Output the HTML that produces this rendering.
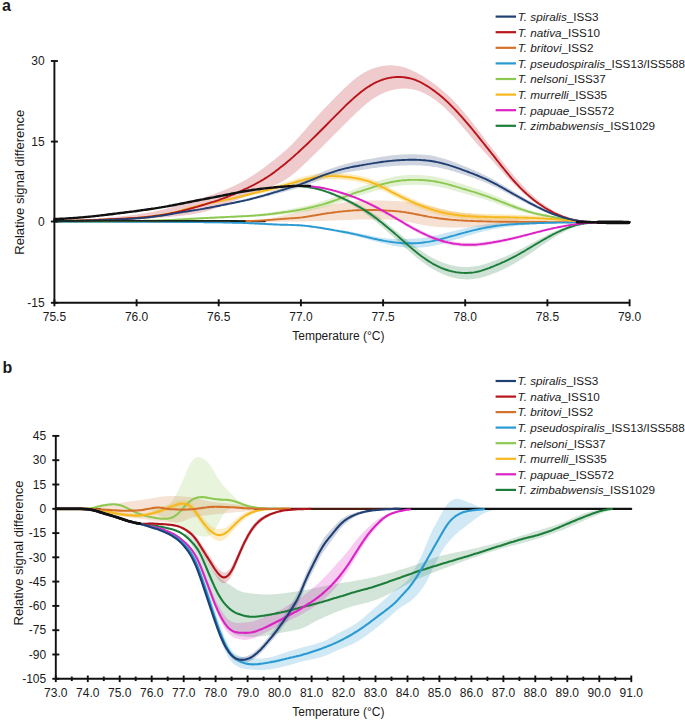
<!DOCTYPE html><html><head><meta charset="utf-8"><style>html,body{margin:0;padding:0;background:#fff;width:685px;height:721px;overflow:hidden}svg{display:block}text{font-family:"Liberation Sans",sans-serif;fill:#1a1a1a}</style></head><body>
<svg width="685" height="721" viewBox="0 0 685 721">
<path d="M250.0 220.6 L251.5 220.5 L253.0 220.4 L254.5 220.3 L256.0 220.1 L257.5 220.0 L259.0 219.8 L260.5 219.6 L262.0 219.4 L263.5 219.2 L265.0 219.0 L266.5 218.8 L268.0 218.5 L269.5 218.3 L271.0 218.0 L272.5 217.8 L274.0 217.5 L275.5 217.2 L277.0 216.9 L278.5 216.6 L280.0 216.3 L281.5 215.9 L283.0 215.6 L284.5 215.3 L286.0 214.9 L287.5 214.5 L289.0 214.2 L290.5 213.8 L292.0 213.4 L293.5 213.0 L295.0 212.7 L296.5 212.3 L298.0 211.9 L299.5 211.5 L301.0 211.2 L302.5 210.8 L304.0 210.4 L305.5 210.1 L307.0 209.7 L308.5 209.4 L310.0 209.0 L311.5 208.7 L313.0 208.3 L314.5 208.0 L316.0 207.7 L317.5 207.3 L319.0 207.0 L320.5 206.7 L322.0 206.4 L323.5 206.1 L325.0 205.8 L326.5 205.5 L328.0 205.2 L329.5 204.9 L331.0 204.6 L332.5 204.4 L334.0 204.1 L335.5 203.9 L337.0 203.7 L338.5 203.4 L340.0 203.2 L341.5 203.0 L343.0 202.8 L344.5 202.6 L346.0 202.5 L347.5 202.3 L349.0 202.1 L350.5 202.0 L352.0 201.8 L353.5 201.7 L355.0 201.5 L356.5 201.4 L358.0 201.3 L359.5 201.2 L361.0 201.1 L362.5 201.0 L364.0 200.9 L365.5 200.8 L367.0 200.7 L368.5 200.7 L370.0 200.6 L371.5 200.6 L373.0 200.6 L374.5 200.6 L376.0 200.6 L377.5 200.5 L379.0 200.6 L380.5 200.6 L382.0 200.6 L383.5 200.6 L385.0 200.6 L386.5 200.7 L388.0 200.7 L389.5 200.8 L391.0 200.8 L392.5 200.9 L394.0 201.0 L395.5 201.0 L397.0 201.1 L398.5 201.2 L400.0 201.3 L401.5 201.4 L403.0 201.5 L404.5 201.7 L406.0 201.8 L407.5 202.0 L409.0 202.2 L410.5 202.3 L412.0 202.5 L413.5 202.8 L415.0 203.0 L416.5 203.2 L418.0 203.5 L419.5 203.8 L421.0 204.1 L422.5 204.4 L424.0 204.7 L425.5 205.0 L427.0 205.3 L428.5 205.7 L430.0 206.1 L431.5 206.4 L433.0 206.8 L434.5 207.2 L436.0 207.6 L437.5 208.0 L439.0 208.4 L440.5 208.8 L442.0 209.1 L443.5 209.5 L445.0 209.8 L446.5 210.2 L448.0 210.5 L449.5 210.8 L451.0 211.1 L452.5 211.3 L454.0 211.6 L455.5 211.8 L457.0 212.1 L458.5 212.3 L460.0 212.5 L461.5 212.7 L463.0 212.9 L464.5 213.1 L466.0 213.3 L467.5 213.4 L469.0 213.6 L470.5 213.8 L472.0 213.9 L473.5 214.1 L475.0 214.2 L476.5 214.4 L478.0 214.5 L479.5 214.7 L481.0 214.8 L482.5 215.0 L484.0 215.1 L485.5 215.2 L487.0 215.4 L488.5 215.5 L490.0 215.6 L491.5 215.8 L493.0 215.9 L494.5 216.0 L496.0 216.2 L497.5 216.3 L499.0 216.5 L500.5 216.6 L502.0 216.7 L503.5 216.9 L505.0 217.0 L506.5 217.2 L508.0 217.3 L509.5 217.5 L511.0 217.6 L512.5 217.8 L514.0 217.9 L515.5 218.1 L517.0 218.2 L518.5 218.4 L520.0 218.5 L521.5 218.7 L523.0 218.8 L524.5 219.0 L526.0 219.1 L527.5 219.2 L529.0 219.4 L530.5 219.5 L532.0 219.6 L533.5 219.7 L535.0 219.8 L536.5 220.0 L538.0 220.1 L539.5 220.2 L541.0 220.3 L542.5 220.4 L544.0 220.5 L545.5 220.6 L547.0 220.7 L548.5 220.8 L550.0 220.9 L551.5 220.9 L553.0 221.0 L554.5 221.1 L556.0 221.2 L557.5 221.2 L559.0 221.3 L560.0 221.3 L560.0 222.3 L559.0 222.3 L557.5 222.4 L556.0 222.4 L554.5 222.4 L553.0 222.5 L551.5 222.5 L550.0 222.6 L548.5 222.6 L547.0 222.7 L545.5 222.7 L544.0 222.8 L542.5 222.9 L541.0 222.9 L539.5 223.0 L538.0 223.1 L536.5 223.2 L535.0 223.3 L533.5 223.3 L532.0 223.4 L530.5 223.5 L529.0 223.6 L527.5 223.7 L526.0 223.8 L524.5 223.9 L523.0 224.0 L521.5 224.1 L520.0 224.2 L518.5 224.4 L517.0 224.5 L515.5 224.6 L514.0 224.7 L512.5 224.8 L511.0 224.9 L509.5 225.0 L508.0 225.2 L506.5 225.3 L505.0 225.4 L503.5 225.5 L502.0 225.6 L500.5 225.7 L499.0 225.8 L497.5 225.9 L496.0 226.0 L494.5 226.1 L493.0 226.2 L491.5 226.3 L490.0 226.4 L488.5 226.5 L487.0 226.6 L485.5 226.7 L484.0 226.7 L482.5 226.8 L481.0 226.9 L479.5 226.9 L478.0 227.0 L476.5 227.0 L475.0 227.1 L473.5 227.1 L472.0 227.2 L470.5 227.2 L469.0 227.3 L467.5 227.3 L466.0 227.3 L464.5 227.4 L463.0 227.4 L461.5 227.4 L460.0 227.4 L458.5 227.4 L457.0 227.4 L455.5 227.4 L454.0 227.4 L452.5 227.4 L451.0 227.4 L449.5 227.4 L448.0 227.4 L446.5 227.3 L445.0 227.3 L443.5 227.2 L442.0 227.2 L440.5 227.1 L439.0 227.0 L437.5 226.9 L436.0 226.8 L434.5 226.6 L433.0 226.5 L431.5 226.3 L430.0 226.1 L428.5 225.9 L427.0 225.6 L425.5 225.4 L424.0 225.1 L422.5 224.9 L421.0 224.6 L419.5 224.3 L418.0 224.0 L416.5 223.7 L415.0 223.4 L413.5 223.0 L412.0 222.7 L410.5 222.4 L409.0 222.1 L407.5 221.8 L406.0 221.5 L404.5 221.3 L403.0 221.0 L401.5 220.8 L400.0 220.6 L398.5 220.4 L397.0 220.2 L395.5 220.1 L394.0 220.0 L392.5 219.9 L391.0 219.8 L389.5 219.7 L388.0 219.6 L386.5 219.6 L385.0 219.5 L383.5 219.5 L382.0 219.5 L380.5 219.4 L379.0 219.4 L377.5 219.4 L376.0 219.4 L374.5 219.4 L373.0 219.4 L371.5 219.4 L370.0 219.4 L368.5 219.4 L367.0 219.4 L365.5 219.5 L364.0 219.5 L362.5 219.5 L361.0 219.6 L359.5 219.6 L358.0 219.6 L356.5 219.7 L355.0 219.7 L353.5 219.8 L352.0 219.8 L350.5 219.9 L349.0 219.9 L347.5 220.0 L346.0 220.0 L344.5 220.1 L343.0 220.1 L341.5 220.2 L340.0 220.2 L338.5 220.3 L337.0 220.3 L335.5 220.4 L334.0 220.4 L332.5 220.5 L331.0 220.5 L329.5 220.6 L328.0 220.6 L326.5 220.7 L325.0 220.8 L323.5 220.8 L322.0 220.9 L320.5 220.9 L319.0 221.0 L317.5 221.0 L316.0 221.1 L314.5 221.1 L313.0 221.2 L311.5 221.2 L310.0 221.2 L308.5 221.3 L307.0 221.3 L305.5 221.4 L304.0 221.4 L302.5 221.4 L301.0 221.5 L299.5 221.5 L298.0 221.5 L296.5 221.5 L295.0 221.6 L293.5 221.6 L292.0 221.6 L290.5 221.6 L289.0 221.7 L287.5 221.7 L286.0 221.7 L284.5 221.7 L283.0 221.7 L281.5 221.8 L280.0 221.8 L278.5 221.8 L277.0 221.8 L275.5 221.8 L274.0 221.8 L272.5 221.9 L271.0 221.9 L269.5 221.9 L268.0 221.9 L266.5 221.9 L265.0 221.9 L263.5 221.9 L262.0 221.9 L260.5 222.0 L259.0 222.0 L257.5 222.0 L256.0 222.0 L254.5 222.0 L253.0 222.0 L251.5 222.0 L250.0 222.0Z" fill="#d4722c" fill-opacity="0.22" stroke="none"/>
<path d="M54.4 220.4 L55.9 220.4 L57.4 220.4 L58.9 220.3 L60.4 220.3 L61.9 220.3 L63.4 220.2 L64.9 220.2 L66.4 220.1 L67.9 220.1 L69.4 220.0 L70.9 220.0 L72.4 219.9 L73.9 219.8 L75.4 219.8 L76.9 219.7 L78.4 219.6 L79.9 219.5 L81.4 219.4 L82.9 219.4 L84.4 219.3 L85.9 219.2 L87.4 219.1 L88.9 219.0 L90.4 218.9 L91.9 218.8 L93.4 218.7 L94.9 218.6 L96.4 218.5 L97.9 218.4 L99.4 218.3 L100.9 218.2 L102.4 218.0 L103.9 217.9 L105.4 217.8 L106.9 217.7 L108.4 217.6 L109.9 217.5 L111.4 217.3 L112.9 217.2 L114.4 217.1 L115.9 216.9 L117.4 216.8 L118.9 216.6 L120.4 216.5 L121.9 216.3 L123.4 216.1 L124.9 216.0 L126.4 215.8 L127.9 215.6 L129.4 215.4 L130.9 215.3 L132.4 215.1 L133.9 214.9 L135.4 214.7 L136.9 214.4 L138.4 214.2 L139.9 214.0 L141.4 213.8 L142.9 213.5 L144.4 213.3 L145.9 213.1 L147.4 212.8 L148.9 212.5 L150.4 212.3 L151.9 212.0 L153.4 211.7 L154.9 211.4 L156.4 211.1 L157.9 210.7 L159.4 210.4 L160.9 210.0 L162.4 209.7 L163.9 209.3 L165.4 208.9 L166.9 208.6 L168.4 208.2 L169.9 207.8 L171.4 207.3 L172.9 206.9 L174.4 206.5 L175.9 206.1 L177.4 205.6 L178.9 205.2 L180.4 204.7 L181.9 204.3 L183.4 203.8 L184.9 203.4 L186.4 202.9 L187.9 202.4 L189.4 201.9 L190.9 201.5 L192.4 201.0 L193.9 200.5 L195.4 200.1 L196.9 199.6 L198.4 199.1 L199.9 198.6 L201.4 198.1 L202.9 197.7 L204.4 197.2 L205.9 196.7 L207.4 196.2 L208.9 195.7 L210.4 195.2 L211.9 194.7 L213.4 194.2 L214.9 193.7 L216.4 193.1 L217.9 192.6 L219.4 192.0 L220.9 191.5 L222.4 190.9 L223.9 190.3 L225.4 189.7 L226.9 189.1 L228.4 188.4 L229.9 187.8 L231.4 187.1 L232.9 186.4 L234.4 185.7 L235.9 185.0 L237.4 184.3 L238.9 183.5 L240.4 182.7 L241.9 181.9 L243.4 181.1 L244.9 180.3 L246.4 179.4 L247.9 178.5 L249.4 177.6 L250.9 176.7 L252.4 175.8 L253.9 174.8 L255.4 173.8 L256.9 172.8 L258.4 171.7 L259.9 170.7 L261.4 169.6 L262.9 168.5 L264.4 167.4 L265.9 166.3 L267.4 165.1 L268.9 164.0 L270.4 162.8 L271.9 161.6 L273.4 160.5 L274.9 159.3 L276.4 158.1 L277.9 156.9 L279.4 155.6 L280.9 154.4 L282.4 153.1 L283.9 151.8 L285.4 150.5 L286.9 149.2 L288.4 147.8 L289.9 146.3 L291.4 144.9 L292.9 143.4 L294.4 141.8 L295.9 140.2 L297.4 138.6 L298.9 137.0 L300.4 135.3 L301.9 133.6 L303.4 131.9 L304.9 130.2 L306.4 128.4 L307.9 126.7 L309.4 125.0 L310.9 123.3 L312.4 121.6 L313.9 119.9 L315.4 118.2 L316.9 116.5 L318.4 114.9 L319.9 113.3 L321.4 111.7 L322.9 110.1 L324.4 108.5 L325.9 106.9 L327.4 105.4 L328.9 103.9 L330.4 102.3 L331.9 100.8 L333.4 99.3 L334.9 97.8 L336.4 96.3 L337.9 94.8 L339.4 93.3 L340.9 91.8 L342.4 90.3 L343.9 88.8 L345.4 87.4 L346.9 86.0 L348.4 84.6 L349.9 83.2 L351.4 81.9 L352.9 80.6 L354.4 79.4 L355.9 78.2 L357.4 77.0 L358.9 76.0 L360.4 74.9 L361.9 74.0 L363.4 73.1 L364.9 72.2 L366.4 71.4 L367.9 70.6 L369.4 70.0 L370.9 69.3 L372.4 68.7 L373.9 68.2 L375.4 67.7 L376.9 67.2 L378.4 66.9 L379.9 66.5 L381.4 66.2 L382.9 65.9 L384.4 65.7 L385.9 65.5 L387.4 65.4 L388.9 65.3 L390.4 65.3 L391.9 65.3 L393.4 65.4 L394.9 65.5 L396.4 65.7 L397.9 65.9 L399.4 66.2 L400.9 66.5 L402.4 66.9 L403.9 67.3 L405.4 67.8 L406.9 68.3 L408.4 68.9 L409.9 69.5 L411.4 70.2 L412.9 70.9 L414.4 71.6 L415.9 72.3 L417.4 73.1 L418.9 73.9 L420.4 74.8 L421.9 75.6 L423.4 76.5 L424.9 77.5 L426.4 78.4 L427.9 79.4 L429.4 80.4 L430.9 81.5 L432.4 82.5 L433.9 83.6 L435.4 84.7 L436.9 85.9 L438.4 87.0 L439.9 88.2 L441.4 89.5 L442.9 90.7 L444.4 92.0 L445.9 93.4 L447.4 94.7 L448.9 96.1 L450.4 97.6 L451.9 99.0 L453.4 100.6 L454.9 102.1 L456.4 103.7 L457.9 105.3 L459.4 107.0 L460.9 108.7 L462.4 110.4 L463.9 112.2 L465.4 114.0 L466.9 115.8 L468.4 117.6 L469.9 119.5 L471.4 121.4 L472.9 123.3 L474.4 125.2 L475.9 127.1 L477.4 129.1 L478.9 131.0 L480.4 133.0 L481.9 135.0 L483.4 137.0 L484.9 138.9 L486.4 140.9 L487.9 142.9 L489.4 144.8 L490.9 146.8 L492.4 148.7 L493.9 150.7 L495.4 152.6 L496.9 154.5 L498.4 156.5 L499.9 158.4 L501.4 160.3 L502.9 162.2 L504.4 164.1 L505.9 165.9 L507.4 167.8 L508.9 169.7 L510.4 171.5 L511.9 173.3 L513.4 175.1 L514.9 176.8 L516.4 178.6 L517.9 180.3 L519.4 182.0 L520.9 183.6 L522.4 185.2 L523.9 186.8 L525.4 188.3 L526.9 189.9 L528.4 191.3 L529.9 192.8 L531.4 194.2 L532.9 195.6 L534.4 196.9 L535.9 198.2 L537.4 199.5 L538.9 200.7 L540.4 201.9 L541.9 203.0 L543.4 204.1 L544.9 205.2 L546.4 206.2 L547.9 207.2 L549.4 208.2 L550.9 209.1 L552.4 210.0 L553.9 210.9 L555.4 211.7 L556.9 212.5 L558.4 213.2 L559.9 213.9 L561.4 214.6 L562.9 215.3 L564.4 215.9 L565.9 216.5 L567.4 217.1 L568.9 217.6 L570.4 218.1 L571.9 218.5 L573.4 218.9 L574.9 219.3 L576.4 219.7 L577.9 220.0 L579.4 220.3 L580.9 220.6 L582.4 220.8 L583.9 221.0 L585.4 221.2 L586.9 221.4 L588.4 221.5 L589.9 221.6 L590.0 221.6 L590.0 222.0 L589.9 222.0 L588.4 221.9 L586.9 221.8 L585.4 221.7 L583.9 221.6 L582.4 221.5 L580.9 221.3 L579.4 221.1 L577.9 220.9 L576.4 220.7 L574.9 220.5 L573.4 220.2 L571.9 219.9 L570.4 219.6 L568.9 219.2 L567.4 218.8 L565.9 218.4 L564.4 217.9 L562.9 217.4 L561.4 216.9 L559.9 216.3 L558.4 215.7 L556.9 215.1 L555.4 214.5 L553.9 213.8 L552.4 213.1 L550.9 212.3 L549.4 211.5 L547.9 210.7 L546.4 209.9 L544.9 209.0 L543.4 208.1 L541.9 207.2 L540.4 206.3 L538.9 205.3 L537.4 204.3 L535.9 203.2 L534.4 202.2 L532.9 201.1 L531.4 199.9 L529.9 198.8 L528.4 197.6 L526.9 196.4 L525.4 195.1 L523.9 193.8 L522.4 192.5 L520.9 191.1 L519.4 189.7 L517.9 188.3 L516.4 186.8 L514.9 185.4 L513.4 183.8 L511.9 182.3 L510.4 180.7 L508.9 179.1 L507.4 177.5 L505.9 175.9 L504.4 174.2 L502.9 172.6 L501.4 170.9 L499.9 169.2 L498.4 167.5 L496.9 165.9 L495.4 164.2 L493.9 162.5 L492.4 160.8 L490.9 159.2 L489.4 157.5 L487.9 155.8 L486.4 154.2 L484.9 152.6 L483.4 150.9 L481.9 149.3 L480.4 147.6 L478.9 146.0 L477.4 144.3 L475.9 142.6 L474.4 140.9 L472.9 139.1 L471.4 137.4 L469.9 135.6 L468.4 133.8 L466.9 132.0 L465.4 130.2 L463.9 128.5 L462.4 126.7 L460.9 124.9 L459.4 123.2 L457.9 121.5 L456.4 119.8 L454.9 118.2 L453.4 116.6 L451.9 115.0 L450.4 113.4 L448.9 111.9 L447.4 110.4 L445.9 109.0 L444.4 107.6 L442.9 106.2 L441.4 104.9 L439.9 103.7 L438.4 102.4 L436.9 101.2 L435.4 100.1 L433.9 99.0 L432.4 98.0 L430.9 97.0 L429.4 96.1 L427.9 95.2 L426.4 94.4 L424.9 93.6 L423.4 92.9 L421.9 92.2 L420.4 91.6 L418.9 91.0 L417.4 90.5 L415.9 90.1 L414.4 89.7 L412.9 89.4 L411.4 89.1 L409.9 88.9 L408.4 88.7 L406.9 88.6 L405.4 88.5 L403.9 88.5 L402.4 88.6 L400.9 88.7 L399.4 88.8 L397.9 89.0 L396.4 89.2 L394.9 89.4 L393.4 89.8 L391.9 90.1 L390.4 90.5 L388.9 91.0 L387.4 91.5 L385.9 92.0 L384.4 92.6 L382.9 93.2 L381.4 93.9 L379.9 94.7 L378.4 95.5 L376.9 96.4 L375.4 97.3 L373.9 98.2 L372.4 99.3 L370.9 100.3 L369.4 101.4 L367.9 102.6 L366.4 103.8 L364.9 105.1 L363.4 106.4 L361.9 107.7 L360.4 109.0 L358.9 110.4 L357.4 111.8 L355.9 113.3 L354.4 114.7 L352.9 116.2 L351.4 117.6 L349.9 119.1 L348.4 120.6 L346.9 122.1 L345.4 123.6 L343.9 125.1 L342.4 126.6 L340.9 128.1 L339.4 129.6 L337.9 131.1 L336.4 132.6 L334.9 134.1 L333.4 135.6 L331.9 137.0 L330.4 138.5 L328.9 140.0 L327.4 141.5 L325.9 143.0 L324.4 144.5 L322.9 146.0 L321.4 147.5 L319.9 148.9 L318.4 150.4 L316.9 151.9 L315.4 153.4 L313.9 154.9 L312.4 156.3 L310.9 157.8 L309.4 159.3 L307.9 160.7 L306.4 162.2 L304.9 163.6 L303.4 165.0 L301.9 166.4 L300.4 167.8 L298.9 169.2 L297.4 170.5 L295.9 171.8 L294.4 173.1 L292.9 174.3 L291.4 175.5 L289.9 176.7 L288.4 177.7 L286.9 178.8 L285.4 179.8 L283.9 180.7 L282.4 181.5 L280.9 182.4 L279.4 183.1 L277.9 183.8 L276.4 184.5 L274.9 185.2 L273.4 185.8 L271.9 186.4 L270.4 187.0 L268.9 187.6 L267.4 188.1 L265.9 188.7 L264.4 189.2 L262.9 189.8 L261.4 190.3 L259.9 190.9 L258.4 191.5 L256.9 192.0 L255.4 192.6 L253.9 193.2 L252.4 193.7 L250.9 194.3 L249.4 194.9 L247.9 195.5 L246.4 196.1 L244.9 196.7 L243.4 197.3 L241.9 197.9 L240.4 198.5 L238.9 199.1 L237.4 199.7 L235.9 200.3 L234.4 200.9 L232.9 201.5 L231.4 202.1 L229.9 202.7 L228.4 203.3 L226.9 203.9 L225.4 204.5 L223.9 205.1 L222.4 205.7 L220.9 206.2 L219.4 206.8 L217.9 207.4 L216.4 207.9 L214.9 208.5 L213.4 209.0 L211.9 209.5 L210.4 210.0 L208.9 210.4 L207.4 210.9 L205.9 211.3 L204.4 211.7 L202.9 212.1 L201.4 212.5 L199.9 212.8 L198.4 213.1 L196.9 213.4 L195.4 213.7 L193.9 214.0 L192.4 214.2 L190.9 214.4 L189.4 214.7 L187.9 214.9 L186.4 215.1 L184.9 215.3 L183.4 215.5 L181.9 215.7 L180.4 215.8 L178.9 216.0 L177.4 216.2 L175.9 216.3 L174.4 216.5 L172.9 216.6 L171.4 216.8 L169.9 216.9 L168.4 217.0 L166.9 217.2 L165.4 217.3 L163.9 217.4 L162.4 217.6 L160.9 217.7 L159.4 217.8 L157.9 217.9 L156.4 218.0 L154.9 218.1 L153.4 218.2 L151.9 218.3 L150.4 218.4 L148.9 218.5 L147.4 218.6 L145.9 218.7 L144.4 218.8 L142.9 218.9 L141.4 219.0 L139.9 219.1 L138.4 219.2 L136.9 219.3 L135.4 219.4 L133.9 219.4 L132.4 219.5 L130.9 219.6 L129.4 219.7 L127.9 219.7 L126.4 219.8 L124.9 219.9 L123.4 219.9 L121.9 220.0 L120.4 220.1 L118.9 220.1 L117.4 220.2 L115.9 220.3 L114.4 220.3 L112.9 220.4 L111.4 220.4 L109.9 220.5 L108.4 220.5 L106.9 220.6 L105.4 220.6 L103.9 220.7 L102.4 220.7 L100.9 220.8 L99.4 220.8 L97.9 220.9 L96.4 220.9 L94.9 221.0 L93.4 221.0 L91.9 221.0 L90.4 221.1 L88.9 221.1 L87.4 221.2 L85.9 221.2 L84.4 221.2 L82.9 221.3 L81.4 221.3 L79.9 221.4 L78.4 221.4 L76.9 221.4 L75.4 221.5 L73.9 221.5 L72.4 221.5 L70.9 221.5 L69.4 221.6 L67.9 221.6 L66.4 221.6 L64.9 221.6 L63.4 221.7 L61.9 221.7 L60.4 221.7 L58.9 221.7 L57.4 221.7 L55.9 221.7 L54.4 221.8Z" fill="#b8141a" fill-opacity="0.22" stroke="none"/>
<path d="M54.4 220.7 L55.9 220.7 L57.4 220.7 L58.9 220.7 L60.4 220.7 L61.9 220.6 L63.4 220.6 L64.9 220.6 L66.4 220.6 L67.9 220.5 L69.4 220.5 L70.9 220.5 L72.4 220.4 L73.9 220.4 L75.4 220.4 L76.9 220.3 L78.4 220.3 L79.9 220.3 L81.4 220.2 L82.9 220.2 L84.4 220.1 L85.9 220.1 L87.4 220.0 L88.9 220.0 L90.4 219.9 L91.9 219.9 L93.4 219.9 L94.9 219.8 L96.4 219.8 L97.9 219.7 L99.4 219.7 L100.9 219.6 L102.4 219.6 L103.9 219.5 L105.4 219.5 L106.9 219.4 L108.4 219.3 L109.9 219.3 L111.4 219.2 L112.9 219.2 L114.4 219.1 L115.9 219.1 L117.4 219.0 L118.9 218.9 L120.4 218.9 L121.9 218.8 L123.4 218.7 L124.9 218.7 L126.4 218.6 L127.9 218.5 L129.4 218.4 L130.9 218.3 L132.4 218.2 L133.9 218.1 L135.4 218.0 L136.9 217.9 L138.4 217.8 L139.9 217.7 L141.4 217.6 L142.9 217.4 L144.4 217.3 L145.9 217.1 L147.4 217.0 L148.9 216.8 L150.4 216.6 L151.9 216.4 L153.4 216.2 L154.9 216.1 L156.4 215.8 L157.9 215.6 L159.4 215.4 L160.9 215.2 L162.4 215.0 L163.9 214.7 L165.4 214.5 L166.9 214.2 L168.4 214.0 L169.9 213.7 L171.4 213.5 L172.9 213.2 L174.4 212.9 L175.9 212.7 L177.4 212.4 L178.9 212.2 L180.4 211.9 L181.9 211.7 L183.4 211.4 L184.9 211.2 L186.4 211.0 L187.9 210.7 L189.4 210.5 L190.9 210.3 L192.4 210.1 L193.9 209.8 L195.4 209.6 L196.9 209.4 L198.4 209.1 L199.9 208.9 L201.4 208.6 L202.9 208.3 L204.4 208.0 L205.9 207.7 L207.4 207.4 L208.9 207.1 L210.4 206.8 L211.9 206.5 L213.4 206.1 L214.9 205.8 L216.4 205.5 L217.9 205.2 L219.4 204.8 L220.9 204.5 L222.4 204.2 L223.9 203.9 L225.4 203.5 L226.9 203.2 L228.4 202.9 L229.9 202.6 L231.4 202.2 L232.9 201.9 L234.4 201.6 L235.9 201.3 L237.4 200.9 L238.9 200.6 L240.4 200.2 L241.9 199.9 L243.4 199.5 L244.9 199.2 L246.4 198.8 L247.9 198.4 L249.4 198.0 L250.9 197.6 L252.4 197.2 L253.9 196.8 L255.4 196.4 L256.9 196.0 L258.4 195.6 L259.9 195.1 L261.4 194.7 L262.9 194.2 L264.4 193.7 L265.9 193.2 L267.4 192.7 L268.9 192.2 L270.4 191.7 L271.9 191.2 L273.4 190.7 L274.9 190.2 L276.4 189.7 L277.9 189.2 L279.4 188.7 L280.9 188.2 L282.4 187.6 L283.9 187.1 L285.4 186.6 L286.9 186.1 L288.4 185.6 L289.9 185.1 L291.4 184.6 L292.9 184.0 L294.4 183.5 L295.9 183.0 L297.4 182.4 L298.9 181.8 L300.4 181.2 L301.9 180.7 L303.4 180.1 L304.9 179.4 L306.4 178.8 L307.9 178.2 L309.4 177.5 L310.9 176.9 L312.4 176.2 L313.9 175.6 L315.4 174.9 L316.9 174.3 L318.4 173.6 L319.9 173.0 L321.4 172.4 L322.9 171.8 L324.4 171.1 L325.9 170.5 L327.4 170.0 L328.9 169.4 L330.4 168.8 L331.9 168.3 L333.4 167.8 L334.9 167.3 L336.4 166.8 L337.9 166.3 L339.4 165.8 L340.9 165.4 L342.4 164.9 L343.9 164.5 L345.4 164.1 L346.9 163.7 L348.4 163.3 L349.9 162.9 L351.4 162.6 L352.9 162.2 L354.4 161.9 L355.9 161.6 L357.4 161.3 L358.9 161.0 L360.4 160.7 L361.9 160.4 L363.4 160.1 L364.9 159.8 L366.4 159.6 L367.9 159.3 L369.4 159.0 L370.9 158.7 L372.4 158.4 L373.9 158.2 L375.4 157.9 L376.9 157.6 L378.4 157.4 L379.9 157.1 L381.4 156.9 L382.9 156.6 L384.4 156.4 L385.9 156.2 L387.4 156.0 L388.9 155.8 L390.4 155.6 L391.9 155.4 L393.4 155.3 L394.9 155.1 L396.4 155.0 L397.9 154.8 L399.4 154.7 L400.9 154.6 L402.4 154.5 L403.9 154.5 L405.4 154.4 L406.9 154.4 L408.4 154.3 L409.9 154.3 L411.4 154.3 L412.9 154.3 L414.4 154.3 L415.9 154.3 L417.4 154.4 L418.9 154.4 L420.4 154.5 L421.9 154.6 L423.4 154.7 L424.9 154.8 L426.4 155.0 L427.9 155.1 L429.4 155.3 L430.9 155.5 L432.4 155.8 L433.9 156.1 L435.4 156.4 L436.9 156.8 L438.4 157.2 L439.9 157.5 L441.4 158.0 L442.9 158.4 L444.4 158.8 L445.9 159.3 L447.4 159.8 L448.9 160.3 L450.4 160.8 L451.9 161.3 L453.4 161.9 L454.9 162.4 L456.4 163.0 L457.9 163.6 L459.4 164.2 L460.9 164.8 L462.4 165.4 L463.9 166.0 L465.4 166.6 L466.9 167.2 L468.4 167.8 L469.9 168.4 L471.4 169.1 L472.9 169.7 L474.4 170.3 L475.9 171.0 L477.4 171.7 L478.9 172.3 L480.4 173.0 L481.9 173.7 L483.4 174.4 L484.9 175.2 L486.4 175.9 L487.9 176.7 L489.4 177.5 L490.9 178.3 L492.4 179.1 L493.9 179.9 L495.4 180.8 L496.9 181.6 L498.4 182.5 L499.9 183.4 L501.4 184.2 L502.9 185.1 L504.4 186.0 L505.9 186.9 L507.4 187.8 L508.9 188.7 L510.4 189.6 L511.9 190.5 L513.4 191.4 L514.9 192.3 L516.4 193.2 L517.9 194.1 L519.4 195.0 L520.9 195.9 L522.4 196.8 L523.9 197.6 L525.4 198.5 L526.9 199.4 L528.4 200.2 L529.9 201.1 L531.4 201.9 L532.9 202.7 L534.4 203.6 L535.9 204.4 L537.4 205.2 L538.9 206.0 L540.4 206.8 L541.9 207.6 L543.4 208.3 L544.9 209.1 L546.4 209.8 L547.9 210.5 L549.4 211.2 L550.9 211.8 L552.4 212.5 L553.9 213.1 L555.4 213.7 L556.9 214.3 L558.4 214.9 L559.9 215.4 L561.4 216.0 L562.9 216.5 L564.4 217.0 L565.9 217.5 L567.4 217.9 L568.9 218.4 L570.4 218.8 L571.9 219.2 L573.4 219.6 L574.9 219.9 L576.4 220.2 L577.9 220.5 L577.9 220.8 L576.4 220.6 L574.9 220.4 L573.4 220.2 L571.9 220.0 L570.4 219.8 L568.9 219.5 L567.4 219.2 L565.9 218.9 L564.4 218.6 L562.9 218.2 L561.4 217.8 L559.9 217.4 L558.4 217.0 L556.9 216.5 L555.4 216.0 L553.9 215.5 L552.4 215.0 L550.9 214.5 L549.4 213.9 L547.9 213.3 L546.4 212.7 L544.9 212.1 L543.4 211.4 L541.9 210.8 L540.4 210.1 L538.9 209.4 L537.4 208.7 L535.9 208.0 L534.4 207.3 L532.9 206.6 L531.4 205.8 L529.9 205.1 L528.4 204.3 L526.9 203.6 L525.4 202.8 L523.9 202.0 L522.4 201.3 L520.9 200.5 L519.4 199.7 L517.9 198.9 L516.4 198.1 L514.9 197.3 L513.4 196.5 L511.9 195.7 L510.4 194.9 L508.9 194.1 L507.4 193.3 L505.9 192.5 L504.4 191.7 L502.9 190.9 L501.4 190.1 L499.9 189.4 L498.4 188.6 L496.9 187.8 L495.4 187.1 L493.9 186.4 L492.4 185.7 L490.9 184.9 L489.4 184.3 L487.9 183.6 L486.4 182.9 L484.9 182.3 L483.4 181.7 L481.9 181.1 L480.4 180.5 L478.9 179.9 L477.4 179.4 L475.9 178.8 L474.4 178.3 L472.9 177.7 L471.4 177.2 L469.9 176.7 L468.4 176.2 L466.9 175.7 L465.4 175.2 L463.9 174.7 L462.4 174.2 L460.9 173.7 L459.4 173.2 L457.9 172.7 L456.4 172.3 L454.9 171.8 L453.4 171.3 L451.9 170.9 L450.4 170.5 L448.9 170.0 L447.4 169.6 L445.9 169.3 L444.4 168.9 L442.9 168.5 L441.4 168.2 L439.9 167.9 L438.4 167.6 L436.9 167.3 L435.4 167.1 L433.9 166.9 L432.4 166.7 L430.9 166.5 L429.4 166.3 L427.9 166.1 L426.4 166.0 L424.9 165.8 L423.4 165.7 L421.9 165.6 L420.4 165.5 L418.9 165.4 L417.4 165.4 L415.9 165.3 L414.4 165.3 L412.9 165.3 L411.4 165.3 L409.9 165.3 L408.4 165.3 L406.9 165.4 L405.4 165.4 L403.9 165.5 L402.4 165.5 L400.9 165.6 L399.4 165.7 L397.9 165.7 L396.4 165.8 L394.9 165.9 L393.4 166.0 L391.9 166.1 L390.4 166.2 L388.9 166.4 L387.4 166.5 L385.9 166.6 L384.4 166.8 L382.9 167.0 L381.4 167.1 L379.9 167.3 L378.4 167.5 L376.9 167.7 L375.4 167.9 L373.9 168.1 L372.4 168.3 L370.9 168.5 L369.4 168.8 L367.9 169.0 L366.4 169.2 L364.9 169.4 L363.4 169.7 L361.9 169.9 L360.4 170.1 L358.9 170.4 L357.4 170.6 L355.9 170.8 L354.4 171.1 L352.9 171.4 L351.4 171.6 L349.9 171.9 L348.4 172.2 L346.9 172.5 L345.4 172.8 L343.9 173.1 L342.4 173.5 L340.9 173.8 L339.4 174.2 L337.9 174.6 L336.4 174.9 L334.9 175.4 L333.4 175.8 L331.9 176.2 L330.4 176.7 L328.9 177.1 L327.4 177.6 L325.9 178.1 L324.4 178.6 L322.9 179.1 L321.4 179.7 L319.9 180.2 L318.4 180.7 L316.9 181.3 L315.4 181.9 L313.9 182.4 L312.4 183.0 L310.9 183.5 L309.4 184.1 L307.9 184.7 L306.4 185.2 L304.9 185.7 L303.4 186.3 L301.9 186.8 L300.4 187.3 L298.9 187.7 L297.4 188.2 L295.9 188.6 L294.4 189.1 L292.9 189.5 L291.4 189.9 L289.9 190.3 L288.4 190.7 L286.9 191.1 L285.4 191.5 L283.9 191.9 L282.4 192.3 L280.9 192.7 L279.4 193.1 L277.9 193.5 L276.4 193.9 L274.9 194.3 L273.4 194.7 L271.9 195.1 L270.4 195.5 L268.9 195.9 L267.4 196.3 L265.9 196.6 L264.4 197.0 L262.9 197.4 L261.4 197.8 L259.9 198.1 L258.4 198.5 L256.9 198.9 L255.4 199.3 L253.9 199.6 L252.4 200.0 L250.9 200.3 L249.4 200.7 L247.9 201.0 L246.4 201.3 L244.9 201.7 L243.4 202.0 L241.9 202.3 L240.4 202.6 L238.9 202.9 L237.4 203.2 L235.9 203.4 L234.4 203.7 L232.9 204.0 L231.4 204.3 L229.9 204.6 L228.4 204.8 L226.9 205.1 L225.4 205.4 L223.9 205.7 L222.4 205.9 L220.9 206.2 L219.4 206.5 L217.9 206.8 L216.4 207.0 L214.9 207.3 L213.4 207.6 L211.9 207.9 L210.4 208.1 L208.9 208.4 L207.4 208.7 L205.9 208.9 L204.4 209.2 L202.9 209.4 L201.4 209.7 L199.9 209.9 L198.4 210.1 L196.9 210.4 L195.4 210.6 L193.9 210.8 L192.4 211.1 L190.9 211.3 L189.4 211.5 L187.9 211.7 L186.4 212.0 L184.9 212.2 L183.4 212.4 L181.9 212.7 L180.4 212.9 L178.9 213.2 L177.4 213.4 L175.9 213.7 L174.4 213.9 L172.9 214.2 L171.4 214.5 L169.9 214.7 L168.4 215.0 L166.9 215.2 L165.4 215.5 L163.9 215.7 L162.4 216.0 L160.9 216.2 L159.4 216.4 L157.9 216.6 L156.4 216.8 L154.9 217.1 L153.4 217.2 L151.9 217.4 L150.4 217.6 L148.9 217.8 L147.4 218.0 L145.9 218.1 L144.4 218.3 L142.9 218.4 L141.4 218.6 L139.9 218.7 L138.4 218.8 L136.9 218.9 L135.4 219.0 L133.9 219.1 L132.4 219.2 L130.9 219.3 L129.4 219.4 L127.9 219.5 L126.4 219.6 L124.9 219.7 L123.4 219.7 L121.9 219.8 L120.4 219.9 L118.9 219.9 L117.4 220.0 L115.9 220.1 L114.4 220.1 L112.9 220.2 L111.4 220.2 L109.9 220.3 L108.4 220.3 L106.9 220.4 L105.4 220.5 L103.9 220.5 L102.4 220.6 L100.9 220.6 L99.4 220.7 L97.9 220.7 L96.4 220.8 L94.9 220.8 L93.4 220.9 L91.9 220.9 L90.4 220.9 L88.9 221.0 L87.4 221.0 L85.9 221.1 L84.4 221.1 L82.9 221.2 L81.4 221.2 L79.9 221.3 L78.4 221.3 L76.9 221.3 L75.4 221.4 L73.9 221.4 L72.4 221.4 L70.9 221.5 L69.4 221.5 L67.9 221.5 L66.4 221.6 L64.9 221.6 L63.4 221.6 L61.9 221.6 L60.4 221.7 L58.9 221.7 L57.4 221.7 L55.9 221.7 L54.4 221.7Z" fill="#203f72" fill-opacity="0.22" stroke="none"/>
<path d="M54.4 220.4 L55.9 220.4 L57.4 220.4 L58.9 220.4 L60.4 220.4 L61.9 220.4 L63.4 220.4 L64.9 220.4 L66.4 220.4 L67.9 220.4 L69.4 220.4 L70.9 220.4 L72.4 220.4 L73.9 220.4 L75.4 220.4 L76.9 220.4 L78.4 220.4 L79.9 220.3 L81.4 220.3 L82.9 220.3 L84.4 220.3 L85.9 220.3 L87.4 220.3 L88.9 220.3 L90.4 220.3 L91.9 220.3 L93.4 220.3 L94.9 220.3 L96.4 220.3 L97.9 220.3 L99.4 220.3 L100.9 220.2 L102.4 220.2 L103.9 220.2 L105.4 220.2 L106.9 220.2 L108.4 220.2 L109.9 220.2 L111.4 220.2 L112.9 220.2 L114.4 220.2 L115.9 220.1 L117.4 220.1 L118.9 220.1 L120.4 220.1 L121.9 220.1 L123.4 220.1 L124.9 220.1 L126.4 220.0 L127.9 220.0 L129.4 220.0 L130.9 220.0 L132.4 220.0 L133.9 220.0 L135.4 220.0 L136.9 219.9 L138.4 219.9 L139.9 219.9 L141.4 219.9 L142.9 219.9 L144.4 219.8 L145.9 219.8 L147.4 219.8 L148.9 219.8 L150.4 219.7 L151.9 219.7 L153.4 219.7 L154.9 219.6 L156.4 219.6 L157.9 219.5 L159.4 219.5 L160.9 219.4 L162.4 219.4 L163.9 219.3 L165.4 219.2 L166.9 219.2 L168.4 219.1 L169.9 219.0 L171.4 218.9 L172.9 218.9 L174.4 218.8 L175.9 218.7 L177.4 218.6 L178.9 218.5 L180.4 218.4 L181.9 218.4 L183.4 218.3 L184.9 218.2 L186.4 218.1 L187.9 218.0 L189.4 217.9 L190.9 217.8 L192.4 217.7 L193.9 217.7 L195.4 217.6 L196.9 217.5 L198.4 217.4 L199.9 217.3 L201.4 217.3 L202.9 217.2 L204.4 217.1 L205.9 217.0 L207.4 217.0 L208.9 216.9 L210.4 216.8 L211.9 216.7 L213.4 216.7 L214.9 216.6 L216.4 216.5 L217.9 216.4 L219.4 216.4 L220.9 216.3 L222.4 216.2 L223.9 216.2 L225.4 216.1 L226.9 216.0 L228.4 215.9 L229.9 215.9 L231.4 215.8 L232.9 215.7 L234.4 215.7 L235.9 215.6 L237.4 215.5 L238.9 215.4 L240.4 215.4 L241.9 215.3 L243.4 215.2 L244.9 215.1 L246.4 215.1 L247.9 215.0 L249.4 214.9 L250.9 214.8 L252.4 214.6 L253.9 214.5 L255.4 214.3 L256.9 214.2 L258.4 214.0 L259.9 213.8 L261.4 213.6 L262.9 213.5 L264.4 213.3 L265.9 213.1 L267.4 212.9 L268.9 212.6 L270.4 212.4 L271.9 212.2 L273.4 212.0 L274.9 211.7 L276.4 211.5 L277.9 211.2 L279.4 211.0 L280.9 210.7 L282.4 210.5 L283.9 210.2 L285.4 210.0 L286.9 209.7 L288.4 209.5 L289.9 209.2 L291.4 208.9 L292.9 208.6 L294.4 208.3 L295.9 208.0 L297.4 207.7 L298.9 207.4 L300.4 207.1 L301.9 206.8 L303.4 206.4 L304.9 206.1 L306.4 205.7 L307.9 205.3 L309.4 205.0 L310.9 204.6 L312.4 204.2 L313.9 203.8 L315.4 203.3 L316.9 202.9 L318.4 202.5 L319.9 202.0 L321.4 201.6 L322.9 201.1 L324.4 200.6 L325.9 200.1 L327.4 199.6 L328.9 199.1 L330.4 198.5 L331.9 198.0 L333.4 197.4 L334.9 196.8 L336.4 196.2 L337.9 195.6 L339.4 195.0 L340.9 194.4 L342.4 193.8 L343.9 193.2 L345.4 192.6 L346.9 192.0 L348.4 191.4 L349.9 190.9 L351.4 190.3 L352.9 189.7 L354.4 189.2 L355.9 188.7 L357.4 188.1 L358.9 187.6 L360.4 187.1 L361.9 186.6 L363.4 186.1 L364.9 185.5 L366.4 185.0 L367.9 184.5 L369.4 184.0 L370.9 183.4 L372.4 182.9 L373.9 182.4 L375.4 181.9 L376.9 181.4 L378.4 180.9 L379.9 180.4 L381.4 179.9 L382.9 179.5 L384.4 179.0 L385.9 178.6 L387.4 178.2 L388.9 177.9 L390.4 177.5 L391.9 177.2 L393.4 176.8 L394.9 176.6 L396.4 176.3 L397.9 176.0 L399.4 175.8 L400.9 175.6 L402.4 175.5 L403.9 175.3 L405.4 175.2 L406.9 175.1 L408.4 175.1 L409.9 175.0 L411.4 175.0 L412.9 175.0 L414.4 175.0 L415.9 175.0 L417.4 175.0 L418.9 175.1 L420.4 175.1 L421.9 175.2 L423.4 175.3 L424.9 175.4 L426.4 175.6 L427.9 175.7 L429.4 175.9 L430.9 176.1 L432.4 176.3 L433.9 176.6 L435.4 176.8 L436.9 177.1 L438.4 177.4 L439.9 177.7 L441.4 178.1 L442.9 178.4 L444.4 178.8 L445.9 179.2 L447.4 179.6 L448.9 180.0 L450.4 180.5 L451.9 180.9 L453.4 181.3 L454.9 181.8 L456.4 182.2 L457.9 182.7 L459.4 183.2 L460.9 183.6 L462.4 184.1 L463.9 184.6 L465.4 185.1 L466.9 185.6 L468.4 186.1 L469.9 186.6 L471.4 187.1 L472.9 187.6 L474.4 188.1 L475.9 188.6 L477.4 189.1 L478.9 189.6 L480.4 190.1 L481.9 190.7 L483.4 191.2 L484.9 191.8 L486.4 192.3 L487.9 192.9 L489.4 193.5 L490.9 194.1 L492.4 194.7 L493.9 195.3 L495.4 195.9 L496.9 196.5 L498.4 197.1 L499.9 197.8 L501.4 198.4 L502.9 199.1 L504.4 199.8 L505.9 200.4 L507.4 201.1 L508.9 201.7 L510.4 202.4 L511.9 203.0 L513.4 203.7 L514.9 204.3 L516.4 204.9 L517.9 205.5 L519.4 206.1 L520.9 206.7 L522.4 207.3 L523.9 207.9 L525.4 208.4 L526.9 209.0 L528.4 209.5 L529.9 210.0 L531.4 210.5 L532.9 211.0 L534.4 211.5 L535.9 211.9 L537.4 212.3 L538.9 212.8 L540.4 213.2 L541.9 213.5 L543.4 213.9 L544.9 214.2 L546.4 214.6 L547.9 214.9 L549.4 215.3 L550.9 215.6 L552.4 216.0 L553.9 216.3 L555.4 216.6 L556.9 217.0 L558.4 217.3 L559.9 217.6 L561.4 217.9 L562.9 218.3 L564.4 218.6 L565.9 218.9 L567.4 219.2 L568.9 219.5 L570.4 219.8 L571.9 220.0 L573.4 220.3 L573.4 220.4 L571.9 220.3 L570.4 220.2 L568.9 220.0 L567.4 219.8 L565.9 219.7 L564.4 219.5 L562.9 219.3 L561.4 219.1 L559.9 218.9 L558.4 218.7 L556.9 218.5 L555.4 218.3 L553.9 218.1 L552.4 217.9 L550.9 217.7 L549.4 217.5 L547.9 217.3 L546.4 217.0 L544.9 216.8 L543.4 216.6 L541.9 216.4 L540.4 216.1 L538.9 215.9 L537.4 215.6 L535.9 215.3 L534.4 215.0 L532.9 214.7 L531.4 214.4 L529.9 214.0 L528.4 213.7 L526.9 213.3 L525.4 212.9 L523.9 212.5 L522.4 212.1 L520.9 211.6 L519.4 211.2 L517.9 210.7 L516.4 210.3 L514.9 209.8 L513.4 209.3 L511.9 208.8 L510.4 208.3 L508.9 207.8 L507.4 207.3 L505.9 206.8 L504.4 206.3 L502.9 205.8 L501.4 205.3 L499.9 204.8 L498.4 204.2 L496.9 203.7 L495.4 203.1 L493.9 202.6 L492.4 202.1 L490.9 201.5 L489.4 201.0 L487.9 200.5 L486.4 200.0 L484.9 199.5 L483.4 199.0 L481.9 198.6 L480.4 198.1 L478.9 197.7 L477.4 197.2 L475.9 196.8 L474.4 196.3 L472.9 195.9 L471.4 195.5 L469.9 195.1 L468.4 194.7 L466.9 194.2 L465.4 193.8 L463.9 193.4 L462.4 193.0 L460.9 192.6 L459.4 192.2 L457.9 191.7 L456.4 191.3 L454.9 190.9 L453.4 190.4 L451.9 190.0 L450.4 189.6 L448.9 189.2 L447.4 188.8 L445.9 188.4 L444.4 188.1 L442.9 187.7 L441.4 187.4 L439.9 187.1 L438.4 186.8 L436.9 186.5 L435.4 186.2 L433.9 186.0 L432.4 185.8 L430.9 185.6 L429.4 185.4 L427.9 185.3 L426.4 185.1 L424.9 185.0 L423.4 184.9 L421.9 184.9 L420.4 184.8 L418.9 184.8 L417.4 184.7 L415.9 184.7 L414.4 184.7 L412.9 184.8 L411.4 184.8 L409.9 184.9 L408.4 184.9 L406.9 185.0 L405.4 185.1 L403.9 185.3 L402.4 185.4 L400.9 185.6 L399.4 185.8 L397.9 185.9 L396.4 186.1 L394.9 186.3 L393.4 186.6 L391.9 186.8 L390.4 187.1 L388.9 187.4 L387.4 187.7 L385.9 188.0 L384.4 188.4 L382.9 188.8 L381.4 189.1 L379.9 189.5 L378.4 190.0 L376.9 190.4 L375.4 190.8 L373.9 191.3 L372.4 191.7 L370.9 192.2 L369.4 192.6 L367.9 193.1 L366.4 193.6 L364.9 194.0 L363.4 194.5 L361.9 195.0 L360.4 195.4 L358.9 195.9 L357.4 196.3 L355.9 196.8 L354.4 197.3 L352.9 197.7 L351.4 198.2 L349.9 198.7 L348.4 199.2 L346.9 199.7 L345.4 200.3 L343.9 200.8 L342.4 201.3 L340.9 201.9 L339.4 202.4 L337.9 203.0 L336.4 203.5 L334.9 204.0 L333.4 204.5 L331.9 205.0 L330.4 205.5 L328.9 206.0 L327.4 206.4 L325.9 206.9 L324.4 207.3 L322.9 207.7 L321.4 208.0 L319.9 208.4 L318.4 208.7 L316.9 209.1 L315.4 209.4 L313.9 209.7 L312.4 210.1 L310.9 210.4 L309.4 210.7 L307.9 211.0 L306.4 211.2 L304.9 211.5 L303.4 211.8 L301.9 212.0 L300.4 212.3 L298.9 212.5 L297.4 212.7 L295.9 212.9 L294.4 213.1 L292.9 213.3 L291.4 213.5 L289.9 213.7 L288.4 213.9 L286.9 214.0 L285.4 214.2 L283.9 214.4 L282.4 214.5 L280.9 214.7 L279.4 214.8 L277.9 215.0 L276.4 215.1 L274.9 215.3 L273.4 215.4 L271.9 215.6 L270.4 215.7 L268.9 215.8 L267.4 215.9 L265.9 216.1 L264.4 216.2 L262.9 216.3 L261.4 216.4 L259.9 216.4 L258.4 216.5 L256.9 216.6 L255.4 216.7 L253.9 216.7 L252.4 216.8 L250.9 216.8 L249.4 216.9 L247.9 217.0 L246.4 217.1 L244.9 217.1 L243.4 217.2 L241.9 217.3 L240.4 217.4 L238.9 217.4 L237.4 217.5 L235.9 217.6 L234.4 217.7 L232.9 217.7 L231.4 217.8 L229.9 217.9 L228.4 217.9 L226.9 218.0 L225.4 218.1 L223.9 218.2 L222.4 218.2 L220.9 218.3 L219.4 218.4 L217.9 218.4 L216.4 218.5 L214.9 218.6 L213.4 218.7 L211.9 218.7 L210.4 218.8 L208.9 218.9 L207.4 219.0 L205.9 219.0 L204.4 219.1 L202.9 219.2 L201.4 219.3 L199.9 219.3 L198.4 219.4 L196.9 219.5 L195.4 219.6 L193.9 219.7 L192.4 219.7 L190.9 219.8 L189.4 219.9 L187.9 220.0 L186.4 220.1 L184.9 220.2 L183.4 220.3 L181.9 220.4 L180.4 220.4 L178.9 220.5 L177.4 220.6 L175.9 220.7 L174.4 220.8 L172.9 220.9 L171.4 220.9 L169.9 221.0 L168.4 221.1 L166.9 221.2 L165.4 221.2 L163.9 221.3 L162.4 221.4 L160.9 221.4 L159.4 221.5 L157.9 221.5 L156.4 221.6 L154.9 221.6 L153.4 221.7 L151.9 221.7 L150.4 221.7 L148.9 221.8 L147.4 221.8 L145.9 221.8 L144.4 221.8 L142.9 221.9 L141.4 221.9 L139.9 221.9 L138.4 221.9 L136.9 221.9 L135.4 222.0 L133.9 222.0 L132.4 222.0 L130.9 222.0 L129.4 222.0 L127.9 222.0 L126.4 222.0 L124.9 222.1 L123.4 222.1 L121.9 222.1 L120.4 222.1 L118.9 222.1 L117.4 222.1 L115.9 222.1 L114.4 222.2 L112.9 222.2 L111.4 222.2 L109.9 222.2 L108.4 222.2 L106.9 222.2 L105.4 222.2 L103.9 222.2 L102.4 222.2 L100.9 222.2 L99.4 222.3 L97.9 222.3 L96.4 222.3 L94.9 222.3 L93.4 222.3 L91.9 222.3 L90.4 222.3 L88.9 222.3 L87.4 222.3 L85.9 222.3 L84.4 222.3 L82.9 222.3 L81.4 222.3 L79.9 222.3 L78.4 222.4 L76.9 222.4 L75.4 222.4 L73.9 222.4 L72.4 222.4 L70.9 222.4 L69.4 222.4 L67.9 222.4 L66.4 222.4 L64.9 222.4 L63.4 222.4 L61.9 222.4 L60.4 222.4 L58.9 222.4 L57.4 222.4 L55.9 222.4 L54.4 222.4Z" fill="#8dc850" fill-opacity="0.25" stroke="none"/>
<path d="M54.4 220.1 L55.9 220.1 L57.4 220.1 L58.9 220.1 L60.4 220.0 L61.9 220.0 L63.4 220.0 L64.9 219.9 L66.4 219.9 L67.9 219.9 L69.4 219.8 L70.9 219.8 L72.4 219.7 L73.9 219.7 L75.4 219.6 L76.9 219.6 L78.4 219.6 L79.9 219.5 L81.4 219.5 L82.9 219.4 L84.4 219.4 L85.9 219.3 L87.4 219.3 L88.9 219.2 L90.4 219.1 L91.9 219.1 L93.4 219.0 L94.9 219.0 L96.4 218.9 L97.9 218.9 L99.4 218.8 L100.9 218.8 L102.4 218.7 L103.9 218.6 L105.4 218.6 L106.9 218.5 L108.4 218.5 L109.9 218.4 L111.4 218.3 L112.9 218.3 L114.4 218.2 L115.9 218.1 L117.4 218.1 L118.9 218.0 L120.4 217.9 L121.9 217.9 L123.4 217.8 L124.9 217.7 L126.4 217.6 L127.9 217.5 L129.4 217.5 L130.9 217.4 L132.4 217.3 L133.9 217.2 L135.4 217.1 L136.9 216.9 L138.4 216.8 L139.9 216.7 L141.4 216.6 L142.9 216.4 L144.4 216.3 L145.9 216.1 L147.4 215.9 L148.9 215.7 L150.4 215.6 L151.9 215.4 L153.4 215.1 L154.9 214.9 L156.4 214.7 L157.9 214.5 L159.4 214.2 L160.9 214.0 L162.4 213.7 L163.9 213.5 L165.4 213.2 L166.9 212.9 L168.4 212.6 L169.9 212.3 L171.4 212.0 L172.9 211.6 L174.4 211.3 L175.9 210.9 L177.4 210.6 L178.9 210.2 L180.4 209.8 L181.9 209.4 L183.4 209.0 L184.9 208.5 L186.4 208.1 L187.9 207.7 L189.4 207.3 L190.9 206.8 L192.4 206.4 L193.9 206.0 L195.4 205.6 L196.9 205.1 L198.4 204.7 L199.9 204.4 L201.4 204.0 L202.9 203.6 L204.4 203.3 L205.9 202.9 L207.4 202.6 L208.9 202.3 L210.4 201.9 L211.9 201.6 L213.4 201.3 L214.9 201.0 L216.4 200.7 L217.9 200.4 L219.4 200.2 L220.9 199.9 L222.4 199.6 L223.9 199.3 L225.4 198.9 L226.9 198.6 L228.4 198.3 L229.9 198.0 L231.4 197.6 L232.9 197.2 L234.4 196.8 L235.9 196.4 L237.4 196.0 L238.9 195.6 L240.4 195.2 L241.9 194.8 L243.4 194.4 L244.9 194.0 L246.4 193.6 L247.9 193.1 L249.4 192.7 L250.9 192.3 L252.4 191.9 L253.9 191.5 L255.4 191.1 L256.9 190.7 L258.4 190.3 L259.9 189.9 L261.4 189.5 L262.9 189.1 L264.4 188.7 L265.9 188.3 L267.4 187.9 L268.9 187.5 L270.4 187.1 L271.9 186.6 L273.4 186.2 L274.9 185.7 L276.4 185.3 L277.9 184.8 L279.4 184.4 L280.9 183.9 L282.4 183.4 L283.9 182.9 L285.4 182.4 L286.9 182.0 L288.4 181.5 L289.9 181.0 L291.4 180.5 L292.9 180.0 L294.4 179.5 L295.9 179.1 L297.4 178.6 L298.9 178.1 L300.4 177.7 L301.9 177.3 L303.4 176.9 L304.9 176.5 L306.4 176.1 L307.9 175.8 L309.4 175.4 L310.9 175.1 L312.4 174.8 L313.9 174.5 L315.4 174.3 L316.9 174.1 L318.4 173.9 L319.9 173.7 L321.4 173.5 L322.9 173.4 L324.4 173.3 L325.9 173.2 L327.4 173.1 L328.9 173.1 L330.4 173.0 L331.9 173.0 L333.4 173.0 L334.9 173.0 L336.4 173.1 L337.9 173.2 L339.4 173.2 L340.9 173.3 L342.4 173.4 L343.9 173.6 L345.4 173.7 L346.9 173.9 L348.4 174.0 L349.9 174.2 L351.4 174.4 L352.9 174.7 L354.4 174.9 L355.9 175.1 L357.4 175.4 L358.9 175.7 L360.4 176.0 L361.9 176.4 L363.4 176.7 L364.9 177.1 L366.4 177.6 L367.9 178.0 L369.4 178.5 L370.9 179.1 L372.4 179.6 L373.9 180.2 L375.4 180.8 L376.9 181.5 L378.4 182.2 L379.9 182.9 L381.4 183.6 L382.9 184.3 L384.4 185.0 L385.9 185.8 L387.4 186.6 L388.9 187.3 L390.4 188.1 L391.9 188.9 L393.4 189.7 L394.9 190.4 L396.4 191.2 L397.9 191.9 L399.4 192.7 L400.9 193.4 L402.4 194.2 L403.9 194.9 L405.4 195.6 L406.9 196.3 L408.4 197.0 L409.9 197.7 L411.4 198.4 L412.9 199.0 L414.4 199.7 L415.9 200.3 L417.4 200.9 L418.9 201.6 L420.4 202.2 L421.9 202.8 L423.4 203.3 L424.9 203.9 L426.4 204.5 L427.9 205.0 L429.4 205.5 L430.9 206.0 L432.4 206.5 L433.9 207.0 L435.4 207.4 L436.9 207.9 L438.4 208.3 L439.9 208.7 L441.4 209.0 L442.9 209.4 L444.4 209.7 L445.9 210.1 L447.4 210.4 L448.9 210.7 L450.4 210.9 L451.9 211.2 L453.4 211.4 L454.9 211.7 L456.4 211.9 L457.9 212.1 L459.4 212.3 L460.9 212.4 L462.4 212.6 L463.9 212.7 L465.4 212.9 L466.9 213.0 L468.4 213.1 L469.9 213.2 L471.4 213.3 L472.9 213.4 L474.4 213.5 L475.9 213.6 L477.4 213.7 L478.9 213.7 L480.4 213.8 L481.9 213.8 L483.4 213.9 L484.9 213.9 L486.4 214.0 L487.9 214.0 L489.4 214.0 L490.9 214.1 L492.4 214.1 L493.9 214.1 L495.4 214.1 L496.9 214.2 L498.4 214.2 L499.9 214.2 L501.4 214.3 L502.9 214.3 L504.4 214.4 L505.9 214.4 L507.4 214.4 L508.9 214.5 L510.4 214.5 L511.9 214.6 L513.4 214.7 L514.9 214.7 L516.4 214.8 L517.9 214.8 L519.4 214.9 L520.9 215.0 L522.4 215.0 L523.9 215.1 L525.4 215.2 L526.9 215.2 L528.4 215.3 L529.9 215.4 L531.4 215.5 L532.9 215.5 L534.4 215.6 L535.9 215.7 L537.4 215.8 L538.9 215.9 L540.4 216.0 L541.9 216.1 L543.4 216.2 L544.9 216.4 L546.4 216.5 L547.9 216.6 L549.4 216.7 L550.9 216.9 L552.4 217.0 L553.9 217.1 L555.4 217.3 L556.9 217.4 L558.4 217.6 L559.9 217.7 L561.4 218.0 L562.9 218.2 L564.4 218.4 L565.9 218.7 L567.4 218.9 L568.9 219.1 L570.4 219.4 L571.9 219.6 L573.4 219.8 L574.9 220.1 L576.4 220.3 L577.9 220.5 L579.4 220.7 L580.9 220.9 L582.4 221.1 L583.9 221.2 L585.4 221.4 L586.9 221.6 L588.4 221.7 L588.4 222.0 L586.9 222.0 L585.4 222.0 L583.9 222.1 L582.4 222.1 L580.9 222.1 L579.4 222.1 L577.9 222.1 L576.4 222.1 L574.9 222.1 L573.4 222.0 L571.9 222.0 L570.4 222.0 L568.9 222.0 L567.4 221.9 L565.9 221.9 L564.4 221.8 L562.9 221.8 L561.4 221.8 L559.9 221.7 L558.4 221.6 L556.9 221.5 L555.4 221.4 L553.9 221.3 L552.4 221.2 L550.9 221.2 L549.4 221.1 L547.9 221.0 L546.4 220.9 L544.9 220.9 L543.4 220.8 L541.9 220.7 L540.4 220.7 L538.9 220.6 L537.4 220.6 L535.9 220.5 L534.4 220.5 L532.9 220.5 L531.4 220.4 L529.9 220.4 L528.4 220.4 L526.9 220.3 L525.4 220.3 L523.9 220.3 L522.4 220.3 L520.9 220.3 L519.4 220.2 L517.9 220.2 L516.4 220.2 L514.9 220.2 L513.4 220.2 L511.9 220.2 L510.4 220.2 L508.9 220.2 L507.4 220.2 L505.9 220.2 L504.4 220.2 L502.9 220.2 L501.4 220.2 L499.9 220.2 L498.4 220.2 L496.9 220.2 L495.4 220.2 L493.9 220.1 L492.4 220.1 L490.9 220.1 L489.4 220.1 L487.9 220.1 L486.4 220.0 L484.9 220.0 L483.4 220.0 L481.9 219.9 L480.4 219.9 L478.9 219.8 L477.4 219.7 L475.9 219.7 L474.4 219.6 L472.9 219.5 L471.4 219.4 L469.9 219.4 L468.4 219.3 L466.9 219.1 L465.4 219.0 L463.9 218.9 L462.4 218.8 L460.9 218.6 L459.4 218.4 L457.9 218.2 L456.4 218.1 L454.9 217.8 L453.4 217.6 L451.9 217.4 L450.4 217.1 L448.9 216.9 L447.4 216.6 L445.9 216.3 L444.4 216.0 L442.9 215.6 L441.4 215.3 L439.9 214.9 L438.4 214.5 L436.9 214.1 L435.4 213.7 L433.9 213.2 L432.4 212.8 L430.9 212.3 L429.4 211.8 L427.9 211.3 L426.4 210.7 L424.9 210.2 L423.4 209.6 L421.9 209.1 L420.4 208.5 L418.9 207.9 L417.4 207.3 L415.9 206.7 L414.4 206.0 L412.9 205.4 L411.4 204.7 L409.9 204.1 L408.4 203.4 L406.9 202.7 L405.4 202.0 L403.9 201.3 L402.4 200.6 L400.9 199.8 L399.4 199.1 L397.9 198.3 L396.4 197.6 L394.9 196.8 L393.4 196.0 L391.9 195.2 L390.4 194.5 L388.9 193.7 L387.4 192.9 L385.9 192.1 L384.4 191.4 L382.9 190.6 L381.4 189.9 L379.9 189.2 L378.4 188.5 L376.9 187.8 L375.4 187.1 L373.9 186.5 L372.4 185.9 L370.9 185.3 L369.4 184.8 L367.9 184.3 L366.4 183.8 L364.9 183.4 L363.4 183.0 L361.9 182.6 L360.4 182.3 L358.9 181.9 L357.4 181.6 L355.9 181.4 L354.4 181.1 L352.9 180.9 L351.4 180.6 L349.9 180.4 L348.4 180.2 L346.9 180.1 L345.4 179.9 L343.9 179.7 L342.4 179.6 L340.9 179.5 L339.4 179.4 L337.9 179.3 L336.4 179.2 L334.9 179.2 L333.4 179.2 L331.9 179.1 L330.4 179.2 L328.9 179.2 L327.4 179.2 L325.9 179.3 L324.4 179.4 L322.9 179.5 L321.4 179.6 L319.9 179.8 L318.4 179.9 L316.9 180.1 L315.4 180.4 L313.9 180.6 L312.4 180.9 L310.9 181.2 L309.4 181.5 L307.9 181.8 L306.4 182.1 L304.9 182.5 L303.4 182.9 L301.9 183.3 L300.4 183.7 L298.9 184.1 L297.4 184.4 L295.9 184.8 L294.4 185.2 L292.9 185.6 L291.4 186.0 L289.9 186.4 L288.4 186.8 L286.9 187.2 L285.4 187.6 L283.9 188.0 L282.4 188.4 L280.9 188.8 L279.4 189.2 L277.9 189.6 L276.4 189.9 L274.9 190.3 L273.4 190.7 L271.9 191.0 L270.4 191.4 L268.9 191.7 L267.4 192.0 L265.9 192.3 L264.4 192.7 L262.9 193.0 L261.4 193.3 L259.9 193.6 L258.4 193.9 L256.9 194.2 L255.4 194.5 L253.9 194.9 L252.4 195.2 L250.9 195.5 L249.4 195.8 L247.9 196.2 L246.4 196.5 L244.9 196.8 L243.4 197.2 L241.9 197.5 L240.4 197.8 L238.9 198.1 L237.4 198.5 L235.9 198.8 L234.4 199.1 L232.9 199.4 L231.4 199.7 L229.9 200.0 L228.4 200.3 L226.9 200.6 L225.4 200.9 L223.9 201.3 L222.4 201.6 L220.9 201.9 L219.4 202.2 L217.9 202.4 L216.4 202.7 L214.9 203.0 L213.4 203.3 L211.9 203.6 L210.4 203.9 L208.9 204.3 L207.4 204.6 L205.9 204.9 L204.4 205.3 L202.9 205.6 L201.4 206.0 L199.9 206.4 L198.4 206.7 L196.9 207.1 L195.4 207.6 L193.9 208.0 L192.4 208.4 L190.9 208.8 L189.4 209.3 L187.9 209.7 L186.4 210.1 L184.9 210.5 L183.4 211.0 L181.9 211.4 L180.4 211.8 L178.9 212.2 L177.4 212.6 L175.9 212.9 L174.4 213.3 L172.9 213.6 L171.4 214.0 L169.9 214.3 L168.4 214.6 L166.9 214.9 L165.4 215.2 L163.9 215.5 L162.4 215.7 L160.9 216.0 L159.4 216.2 L157.9 216.5 L156.4 216.7 L154.9 216.9 L153.4 217.1 L151.9 217.4 L150.4 217.6 L148.9 217.7 L147.4 217.9 L145.9 218.1 L144.4 218.3 L142.9 218.4 L141.4 218.6 L139.9 218.7 L138.4 218.8 L136.9 218.9 L135.4 219.1 L133.9 219.2 L132.4 219.3 L130.9 219.4 L129.4 219.5 L127.9 219.5 L126.4 219.6 L124.9 219.7 L123.4 219.8 L121.9 219.9 L120.4 219.9 L118.9 220.0 L117.4 220.1 L115.9 220.1 L114.4 220.2 L112.9 220.3 L111.4 220.3 L109.9 220.4 L108.4 220.5 L106.9 220.5 L105.4 220.6 L103.9 220.6 L102.4 220.7 L100.9 220.8 L99.4 220.8 L97.9 220.9 L96.4 220.9 L94.9 221.0 L93.4 221.0 L91.9 221.1 L90.4 221.1 L88.9 221.2 L87.4 221.3 L85.9 221.3 L84.4 221.4 L82.9 221.4 L81.4 221.5 L79.9 221.5 L78.4 221.6 L76.9 221.6 L75.4 221.6 L73.9 221.7 L72.4 221.7 L70.9 221.8 L69.4 221.8 L67.9 221.9 L66.4 221.9 L64.9 221.9 L63.4 222.0 L61.9 222.0 L60.4 222.0 L58.9 222.1 L57.4 222.1 L55.9 222.1 L54.4 222.1Z" fill="#f6b81c" fill-opacity="0.3" stroke="none"/>
<path d="M54.4 220.7 L55.9 220.7 L57.4 220.7 L58.9 220.7 L60.4 220.7 L61.9 220.7 L63.4 220.7 L64.9 220.7 L66.4 220.7 L67.9 220.7 L69.4 220.7 L70.9 220.7 L72.4 220.7 L73.9 220.7 L75.4 220.7 L76.9 220.7 L78.4 220.7 L79.9 220.7 L81.4 220.7 L82.9 220.7 L84.4 220.7 L85.9 220.7 L87.4 220.7 L88.9 220.7 L90.4 220.7 L91.9 220.7 L93.4 220.7 L94.9 220.7 L96.4 220.7 L97.9 220.7 L99.4 220.7 L100.9 220.7 L102.4 220.7 L103.9 220.7 L105.4 220.7 L106.9 220.7 L108.4 220.7 L109.9 220.7 L111.4 220.7 L112.9 220.7 L114.4 220.7 L115.9 220.7 L117.4 220.7 L118.9 220.7 L120.4 220.8 L121.9 220.8 L123.4 220.8 L124.9 220.8 L126.4 220.8 L127.9 220.8 L129.4 220.8 L130.9 220.8 L132.4 220.8 L133.9 220.8 L135.4 220.8 L136.9 220.8 L138.4 220.8 L139.9 220.8 L141.4 220.8 L142.9 220.8 L144.4 220.8 L145.9 220.8 L147.4 220.8 L148.9 220.8 L150.4 220.8 L151.9 220.8 L153.4 220.8 L154.9 220.8 L156.4 220.8 L157.9 220.8 L159.4 220.8 L160.9 220.8 L162.4 220.8 L163.9 220.9 L165.4 220.9 L166.9 220.9 L168.4 220.9 L169.9 220.9 L171.4 220.9 L172.9 220.9 L174.4 220.9 L175.9 220.9 L177.4 220.9 L178.9 220.9 L180.4 220.9 L181.9 221.0 L183.4 221.0 L184.9 221.0 L186.4 221.0 L187.9 221.0 L189.4 221.0 L190.9 221.0 L192.4 221.0 L193.9 221.1 L195.4 221.1 L196.9 221.1 L198.4 221.1 L199.9 221.1 L201.4 221.1 L202.9 221.1 L204.4 221.2 L205.9 221.2 L207.4 221.2 L208.9 221.2 L210.4 221.2 L211.9 221.3 L213.4 221.3 L214.9 221.3 L216.4 221.3 L217.9 221.4 L219.4 221.4 L220.9 221.4 L222.4 221.4 L223.9 221.5 L225.4 221.5 L226.9 221.5 L228.4 221.6 L229.9 221.6 L231.4 221.6 L232.9 221.7 L234.4 221.7 L235.9 221.7 L237.4 221.8 L238.9 221.8 L240.4 221.9 L241.9 221.9 L243.4 222.0 L244.9 222.0 L246.4 222.1 L247.9 222.1 L249.4 222.2 L250.9 222.2 L252.4 222.3 L253.9 222.4 L255.4 222.5 L256.9 222.5 L258.4 222.6 L259.9 222.7 L261.4 222.8 L262.9 222.9 L264.4 222.9 L265.9 223.0 L267.4 223.1 L268.9 223.2 L270.4 223.3 L271.9 223.3 L273.4 223.4 L274.9 223.5 L276.4 223.5 L277.9 223.6 L279.4 223.6 L280.9 223.7 L282.4 223.7 L283.9 223.8 L285.4 223.8 L286.9 223.8 L288.4 223.9 L289.9 223.9 L291.4 224.0 L292.9 224.0 L294.4 224.1 L295.9 224.1 L297.4 224.2 L298.9 224.3 L300.4 224.4 L301.9 224.5 L303.4 224.6 L304.9 224.8 L306.4 224.9 L307.9 225.1 L309.4 225.3 L310.9 225.5 L312.4 225.7 L313.9 225.9 L315.4 226.1 L316.9 226.3 L318.4 226.6 L319.9 226.8 L321.4 227.0 L322.9 227.3 L324.4 227.5 L325.9 227.8 L327.4 228.0 L328.9 228.3 L330.4 228.6 L331.9 228.8 L333.4 229.0 L334.9 229.2 L336.4 229.4 L337.9 229.6 L339.4 229.9 L340.9 230.1 L342.4 230.3 L343.9 230.6 L345.4 230.8 L346.9 231.0 L348.4 231.3 L349.9 231.5 L351.4 231.8 L352.9 232.1 L354.4 232.4 L355.9 232.7 L357.4 232.9 L358.9 233.3 L360.4 233.6 L361.9 233.9 L363.4 234.2 L364.9 234.5 L366.4 234.8 L367.9 235.1 L369.4 235.4 L370.9 235.8 L372.4 236.1 L373.9 236.4 L375.4 236.7 L376.9 236.9 L378.4 237.2 L379.9 237.5 L381.4 237.7 L382.9 237.9 L384.4 238.1 L385.9 238.2 L387.4 238.4 L388.9 238.5 L390.4 238.7 L391.9 238.8 L393.4 238.9 L394.9 238.9 L396.4 239.0 L397.9 239.1 L399.4 239.1 L400.9 239.1 L402.4 239.1 L403.9 239.1 L405.4 239.1 L406.9 239.0 L408.4 238.9 L409.9 238.8 L411.4 238.8 L412.9 238.7 L414.4 238.7 L415.9 238.6 L417.4 238.5 L418.9 238.3 L420.4 238.2 L421.9 238.0 L423.4 237.8 L424.9 237.6 L426.4 237.4 L427.9 237.1 L429.4 236.8 L430.9 236.5 L432.4 236.2 L433.9 235.9 L435.4 235.5 L436.9 235.2 L438.4 234.8 L439.9 234.4 L441.4 234.0 L442.9 233.7 L444.4 233.3 L445.9 233.0 L447.4 232.6 L448.9 232.2 L450.4 231.9 L451.9 231.5 L453.4 231.1 L454.9 230.8 L456.4 230.4 L457.9 230.0 L459.4 229.7 L460.9 229.3 L462.4 228.9 L463.9 228.6 L465.4 228.2 L466.9 227.9 L468.4 227.5 L469.9 227.2 L471.4 226.9 L472.9 226.6 L474.4 226.3 L475.9 226.0 L477.4 225.7 L478.9 225.5 L480.4 225.2 L481.9 225.0 L483.4 224.7 L484.9 224.5 L486.4 224.3 L487.9 224.1 L489.4 223.9 L490.9 223.7 L492.4 223.6 L493.9 223.4 L495.4 223.3 L496.9 223.1 L498.4 223.0 L499.9 222.9 L501.4 222.8 L502.9 222.7 L504.4 222.6 L505.9 222.5 L507.4 222.4 L508.9 222.4 L510.4 222.3 L511.9 222.3 L513.4 222.2 L514.9 222.2 L516.4 222.1 L517.9 222.1 L519.4 222.1 L520.9 222.1 L522.4 222.1 L523.9 222.0 L525.4 222.0 L526.9 222.0 L528.4 222.0 L529.9 222.0 L531.4 222.0 L532.9 222.0 L534.4 222.0 L535.9 222.0 L537.4 222.0 L538.9 222.1 L540.4 222.1 L541.9 222.1 L543.4 222.1 L544.9 222.1 L546.4 222.1 L547.9 222.1 L549.4 222.1 L550.9 222.1 L552.4 222.2 L553.9 222.2 L555.4 222.2 L556.9 222.2 L558.4 222.2 L559.9 222.3 L561.4 222.3 L562.9 222.3 L564.4 222.3 L565.9 222.4 L567.4 222.4 L567.4 222.6 L565.9 222.6 L564.4 222.7 L562.9 222.8 L561.4 222.9 L559.9 222.9 L558.4 223.0 L556.9 223.1 L555.4 223.2 L553.9 223.2 L552.4 223.3 L550.9 223.4 L549.4 223.5 L547.9 223.6 L546.4 223.7 L544.9 223.8 L543.4 223.8 L541.9 223.9 L540.4 224.0 L538.9 224.1 L537.4 224.2 L535.9 224.3 L534.4 224.4 L532.9 224.6 L531.4 224.7 L529.9 224.8 L528.4 224.9 L526.9 225.0 L525.4 225.1 L523.9 225.3 L522.4 225.4 L520.9 225.5 L519.4 225.6 L517.9 225.8 L516.4 225.9 L514.9 226.1 L513.4 226.2 L511.9 226.4 L510.4 226.5 L508.9 226.7 L507.4 226.9 L505.9 227.1 L504.4 227.3 L502.9 227.5 L501.4 227.7 L499.9 227.9 L498.4 228.2 L496.9 228.4 L495.4 228.7 L493.9 229.0 L492.4 229.3 L490.9 229.7 L489.4 230.0 L487.9 230.3 L486.4 230.7 L484.9 231.0 L483.4 231.4 L481.9 231.8 L480.4 232.2 L478.9 232.6 L477.4 233.0 L475.9 233.4 L474.4 233.8 L472.9 234.3 L471.4 234.7 L469.9 235.2 L468.4 235.6 L466.9 236.1 L465.4 236.5 L463.9 237.0 L462.4 237.4 L460.9 237.9 L459.4 238.4 L457.9 238.8 L456.4 239.3 L454.9 239.8 L453.4 240.2 L451.9 240.7 L450.4 241.2 L448.9 241.6 L447.4 242.1 L445.9 242.6 L444.4 243.0 L442.9 243.5 L441.4 243.9 L439.9 244.4 L438.4 244.7 L436.9 245.1 L435.4 245.4 L433.9 245.7 L432.4 246.0 L430.9 246.2 L429.4 246.5 L427.9 246.7 L426.4 246.9 L424.9 247.1 L423.4 247.3 L421.9 247.4 L420.4 247.5 L418.9 247.6 L417.4 247.7 L415.9 247.8 L414.4 247.8 L412.9 247.8 L411.4 247.8 L409.9 247.8 L408.4 247.7 L406.9 247.6 L405.4 247.5 L403.9 247.3 L402.4 247.1 L400.9 246.9 L399.4 246.7 L397.9 246.5 L396.4 246.2 L394.9 245.9 L393.4 245.7 L391.9 245.4 L390.4 245.0 L388.9 244.7 L387.4 244.4 L385.9 244.0 L384.4 243.6 L382.9 243.3 L381.4 242.9 L379.9 242.5 L378.4 242.1 L376.9 241.8 L375.4 241.4 L373.9 241.0 L372.4 240.6 L370.9 240.2 L369.4 239.8 L367.9 239.4 L366.4 239.0 L364.9 238.6 L363.4 238.2 L361.9 237.8 L360.4 237.4 L358.9 237.0 L357.4 236.6 L355.9 236.2 L354.4 235.8 L352.9 235.5 L351.4 235.1 L349.9 234.7 L348.4 234.4 L346.9 234.1 L345.4 233.7 L343.9 233.4 L342.4 233.1 L340.9 232.7 L339.4 232.4 L337.9 232.1 L336.4 231.8 L334.9 231.5 L333.4 231.2 L331.9 230.9 L330.4 230.6 L328.9 230.3 L327.4 230.0 L325.9 229.8 L324.4 229.5 L322.9 229.3 L321.4 229.0 L319.9 228.8 L318.4 228.6 L316.9 228.3 L315.4 228.1 L313.9 227.9 L312.4 227.7 L310.9 227.5 L309.4 227.3 L307.9 227.1 L306.4 226.9 L304.9 226.8 L303.4 226.6 L301.9 226.5 L300.4 226.4 L298.9 226.3 L297.4 226.2 L295.9 226.1 L294.4 226.1 L292.9 226.0 L291.4 226.0 L289.9 225.9 L288.4 225.9 L286.9 225.8 L285.4 225.8 L283.9 225.8 L282.4 225.7 L280.9 225.7 L279.4 225.6 L277.9 225.6 L276.4 225.5 L274.9 225.5 L273.4 225.4 L271.9 225.3 L270.4 225.3 L268.9 225.2 L267.4 225.1 L265.9 225.0 L264.4 224.9 L262.9 224.9 L261.4 224.8 L259.9 224.7 L258.4 224.6 L256.9 224.5 L255.4 224.5 L253.9 224.4 L252.4 224.3 L250.9 224.2 L249.4 224.2 L247.9 224.1 L246.4 224.1 L244.9 224.0 L243.4 224.0 L241.9 223.9 L240.4 223.9 L238.9 223.8 L237.4 223.8 L235.9 223.7 L234.4 223.7 L232.9 223.7 L231.4 223.6 L229.9 223.6 L228.4 223.6 L226.9 223.5 L225.4 223.5 L223.9 223.5 L222.4 223.4 L220.9 223.4 L219.4 223.4 L217.9 223.4 L216.4 223.3 L214.9 223.3 L213.4 223.3 L211.9 223.3 L210.4 223.2 L208.9 223.2 L207.4 223.2 L205.9 223.2 L204.4 223.2 L202.9 223.1 L201.4 223.1 L199.9 223.1 L198.4 223.1 L196.9 223.1 L195.4 223.1 L193.9 223.1 L192.4 223.0 L190.9 223.0 L189.4 223.0 L187.9 223.0 L186.4 223.0 L184.9 223.0 L183.4 223.0 L181.9 223.0 L180.4 222.9 L178.9 222.9 L177.4 222.9 L175.9 222.9 L174.4 222.9 L172.9 222.9 L171.4 222.9 L169.9 222.9 L168.4 222.9 L166.9 222.9 L165.4 222.9 L163.9 222.9 L162.4 222.8 L160.9 222.8 L159.4 222.8 L157.9 222.8 L156.4 222.8 L154.9 222.8 L153.4 222.8 L151.9 222.8 L150.4 222.8 L148.9 222.8 L147.4 222.8 L145.9 222.8 L144.4 222.8 L142.9 222.8 L141.4 222.8 L139.9 222.8 L138.4 222.8 L136.9 222.8 L135.4 222.8 L133.9 222.8 L132.4 222.8 L130.9 222.8 L129.4 222.8 L127.9 222.8 L126.4 222.8 L124.9 222.8 L123.4 222.8 L121.9 222.8 L120.4 222.8 L118.9 222.7 L117.4 222.7 L115.9 222.7 L114.4 222.7 L112.9 222.7 L111.4 222.7 L109.9 222.7 L108.4 222.7 L106.9 222.7 L105.4 222.7 L103.9 222.7 L102.4 222.7 L100.9 222.7 L99.4 222.7 L97.9 222.7 L96.4 222.7 L94.9 222.7 L93.4 222.7 L91.9 222.7 L90.4 222.7 L88.9 222.7 L87.4 222.7 L85.9 222.7 L84.4 222.7 L82.9 222.7 L81.4 222.7 L79.9 222.7 L78.4 222.7 L76.9 222.7 L75.4 222.7 L73.9 222.7 L72.4 222.7 L70.9 222.7 L69.4 222.7 L67.9 222.7 L66.4 222.7 L64.9 222.7 L63.4 222.7 L61.9 222.7 L60.4 222.7 L58.9 222.7 L57.4 222.7 L55.9 222.7 L54.4 222.7Z" fill="#2a9ad2" fill-opacity="0.25" stroke="none"/>
<path d="M300.0 184.9 L301.5 184.9 L303.0 185.0 L304.5 185.0 L306.0 185.1 L307.5 185.2 L309.0 185.3 L310.5 185.4 L312.0 185.5 L313.5 185.7 L315.0 185.9 L316.5 186.1 L318.0 186.3 L319.5 186.5 L321.0 186.7 L322.5 187.0 L324.0 187.3 L325.5 187.6 L327.0 187.9 L328.5 188.3 L330.0 188.6 L331.5 189.0 L333.0 189.4 L334.5 189.7 L336.0 190.1 L337.5 190.5 L339.0 191.0 L340.5 191.4 L342.0 191.8 L343.5 192.3 L345.0 192.8 L346.5 193.3 L348.0 193.8 L349.5 194.3 L351.0 194.8 L352.5 195.3 L354.0 195.9 L355.5 196.4 L357.0 197.0 L358.5 197.6 L360.0 198.2 L361.5 198.8 L363.0 199.5 L364.5 200.1 L366.0 200.8 L367.5 201.5 L369.0 202.2 L370.5 202.9 L372.0 203.6 L373.5 204.3 L375.0 205.1 L376.5 205.9 L378.0 206.6 L379.5 207.4 L381.0 208.2 L382.5 209.0 L384.0 209.8 L385.5 210.7 L387.0 211.5 L388.5 212.3 L390.0 213.2 L391.5 214.0 L393.0 214.9 L394.5 215.8 L396.0 216.6 L397.5 217.5 L399.0 218.4 L400.5 219.3 L402.0 220.1 L403.5 221.0 L405.0 221.9 L406.5 222.7 L408.0 223.6 L409.5 224.4 L411.0 225.3 L412.5 226.1 L414.0 226.9 L415.5 227.7 L417.0 228.5 L418.5 229.2 L420.0 230.0 L421.5 230.7 L423.0 231.4 L424.5 232.1 L426.0 232.8 L427.5 233.5 L429.0 234.2 L430.5 234.8 L432.0 235.4 L433.5 236.0 L435.0 236.6 L436.5 237.1 L438.0 237.6 L439.5 238.1 L441.0 238.6 L442.5 239.0 L444.0 239.5 L445.5 239.9 L447.0 240.2 L448.5 240.6 L450.0 240.9 L451.5 241.2 L453.0 241.5 L454.5 241.7 L456.0 241.9 L457.5 242.1 L459.0 242.3 L460.5 242.5 L462.0 242.6 L463.5 242.7 L465.0 242.7 L466.5 242.8 L468.0 242.8 L469.5 242.8 L471.0 242.8 L472.5 242.8 L474.0 242.7 L475.5 242.7 L477.0 242.6 L478.5 242.4 L480.0 242.3 L481.5 242.1 L483.0 242.0 L484.5 241.8 L486.0 241.6 L487.5 241.4 L489.0 241.2 L490.5 241.0 L492.0 240.7 L493.5 240.5 L495.0 240.2 L496.5 240.0 L498.0 239.7 L499.5 239.5 L501.0 239.2 L502.5 238.9 L504.0 238.6 L505.5 238.3 L507.0 238.0 L508.5 237.7 L510.0 237.4 L511.5 237.1 L513.0 236.8 L514.5 236.4 L516.0 236.1 L517.5 235.8 L519.0 235.4 L520.5 235.1 L522.0 234.7 L523.5 234.3 L525.0 234.0 L526.5 233.6 L528.0 233.3 L529.5 232.9 L531.0 232.5 L532.5 232.1 L534.0 231.8 L535.5 231.4 L537.0 231.0 L538.5 230.7 L540.0 230.3 L541.5 230.0 L543.0 229.6 L544.5 229.2 L546.0 228.9 L547.5 228.6 L549.0 228.2 L550.5 227.9 L552.0 227.6 L553.5 227.3 L555.0 227.0 L556.5 226.8 L558.0 226.5 L559.5 226.3 L561.0 226.0 L562.5 225.8 L564.0 225.6 L565.5 225.3 L567.0 225.1 L568.5 224.9 L570.0 224.7 L571.5 224.5 L573.0 224.4 L574.5 224.2 L576.0 224.0 L577.5 223.9 L577.5 224.0 L576.0 224.3 L574.5 224.6 L573.0 224.8 L571.5 225.1 L570.0 225.4 L568.5 225.7 L567.0 226.0 L565.5 226.3 L564.0 226.6 L562.5 227.0 L561.0 227.3 L559.5 227.6 L558.0 228.0 L556.5 228.3 L555.0 228.7 L553.5 229.1 L552.0 229.5 L550.5 229.9 L549.0 230.2 L547.5 230.6 L546.0 231.0 L544.5 231.4 L543.0 231.8 L541.5 232.2 L540.0 232.6 L538.5 233.0 L537.0 233.4 L535.5 233.8 L534.0 234.2 L532.5 234.6 L531.0 235.1 L529.5 235.5 L528.0 235.9 L526.5 236.3 L525.0 236.7 L523.5 237.1 L522.0 237.5 L520.5 237.9 L519.0 238.3 L517.5 238.7 L516.0 239.1 L514.5 239.5 L513.0 239.8 L511.5 240.2 L510.0 240.6 L508.5 240.9 L507.0 241.3 L505.5 241.6 L504.0 242.0 L502.5 242.3 L501.0 242.6 L499.5 242.9 L498.0 243.2 L496.5 243.5 L495.0 243.8 L493.5 244.1 L492.0 244.4 L490.5 244.7 L489.0 244.9 L487.5 245.2 L486.0 245.4 L484.5 245.7 L483.0 245.9 L481.5 246.1 L480.0 246.3 L478.5 246.4 L477.0 246.6 L475.5 246.7 L474.0 246.7 L472.5 246.8 L471.0 246.8 L469.5 246.8 L468.0 246.8 L466.5 246.8 L465.0 246.7 L463.5 246.7 L462.0 246.6 L460.5 246.5 L459.0 246.3 L457.5 246.1 L456.0 245.9 L454.5 245.7 L453.0 245.5 L451.5 245.2 L450.0 244.9 L448.5 244.6 L447.0 244.2 L445.5 243.9 L444.0 243.5 L442.5 243.0 L441.0 242.6 L439.5 242.1 L438.0 241.6 L436.5 241.1 L435.0 240.6 L433.5 240.0 L432.0 239.4 L430.5 238.8 L429.0 238.2 L427.5 237.5 L426.0 236.8 L424.5 236.1 L423.0 235.4 L421.5 234.7 L420.0 234.0 L418.5 233.2 L417.0 232.4 L415.5 231.6 L414.0 230.8 L412.5 229.9 L411.0 229.1 L409.5 228.2 L408.0 227.3 L406.5 226.4 L405.0 225.5 L403.5 224.6 L402.0 223.7 L400.5 222.8 L399.0 221.9 L397.5 221.0 L396.0 220.1 L394.5 219.2 L393.0 218.3 L391.5 217.4 L390.0 216.5 L388.5 215.6 L387.0 214.8 L385.5 213.9 L384.0 213.0 L382.5 212.2 L381.0 211.3 L379.5 210.5 L378.0 209.7 L376.5 208.9 L375.0 208.1 L373.5 207.3 L372.0 206.5 L370.5 205.8 L369.0 205.0 L367.5 204.3 L366.0 203.6 L364.5 202.9 L363.0 202.2 L361.5 201.5 L360.0 200.9 L358.5 200.2 L357.0 199.6 L355.5 199.0 L354.0 198.4 L352.5 197.8 L351.0 197.3 L349.5 196.7 L348.0 196.2 L346.5 195.6 L345.0 195.1 L343.5 194.6 L342.0 194.1 L340.5 193.6 L339.0 193.2 L337.5 192.7 L336.0 192.3 L334.5 191.8 L333.0 191.4 L331.5 191.0 L330.0 190.6 L328.5 190.3 L327.0 189.9 L325.5 189.6 L324.0 189.3 L322.5 189.0 L321.0 188.7 L319.5 188.5 L318.0 188.3 L316.5 188.1 L315.0 187.9 L313.5 187.7 L312.0 187.5 L310.5 187.4 L309.0 187.3 L307.5 187.2 L306.0 187.1 L304.5 187.0 L303.0 187.0 L301.5 186.9 L300.0 186.9Z" fill="#dc22c4" fill-opacity="0.22" stroke="none"/>
<path d="M300.0 185.3 L301.5 185.4 L303.0 185.5 L304.5 185.7 L306.0 185.8 L307.5 186.0 L309.0 186.3 L310.5 186.5 L312.0 186.8 L313.5 187.1 L315.0 187.4 L316.5 187.7 L318.0 188.1 L319.5 188.5 L321.0 188.9 L322.5 189.4 L324.0 189.8 L325.5 190.3 L327.0 190.9 L328.5 191.4 L330.0 192.0 L331.5 192.5 L333.0 193.0 L334.5 193.5 L336.0 194.1 L337.5 194.7 L339.0 195.3 L340.5 195.9 L342.0 196.5 L343.5 197.2 L345.0 197.8 L346.5 198.5 L348.0 199.1 L349.5 199.8 L351.0 200.5 L352.5 201.2 L354.0 202.0 L355.5 202.7 L357.0 203.5 L358.5 204.2 L360.0 205.0 L361.5 205.9 L363.0 206.7 L364.5 207.6 L366.0 208.5 L367.5 209.4 L369.0 210.4 L370.5 211.4 L372.0 212.4 L373.5 213.4 L375.0 214.5 L376.5 215.6 L378.0 216.6 L379.5 217.7 L381.0 218.9 L382.5 220.0 L384.0 221.1 L385.5 222.3 L387.0 223.5 L388.5 224.7 L390.0 225.9 L391.5 227.1 L393.0 228.3 L394.5 229.5 L396.0 230.7 L397.5 232.0 L399.0 233.2 L400.5 234.5 L402.0 235.7 L403.5 237.0 L405.0 238.2 L406.5 239.5 L408.0 240.7 L409.5 241.9 L411.0 243.1 L412.5 244.3 L414.0 245.5 L415.5 246.7 L417.0 247.8 L418.5 248.9 L420.0 250.0 L421.5 251.1 L423.0 252.1 L424.5 253.1 L426.0 254.1 L427.5 255.0 L429.0 255.9 L430.5 256.8 L432.0 257.6 L433.5 258.4 L435.0 259.1 L436.5 259.8 L438.0 260.5 L439.5 261.1 L441.0 261.8 L442.5 262.4 L444.0 263.0 L445.5 263.5 L447.0 264.0 L448.5 264.5 L450.0 264.9 L451.5 265.3 L453.0 265.6 L454.5 265.9 L456.0 266.2 L457.5 266.4 L459.0 266.6 L460.5 266.7 L462.0 266.9 L463.5 266.9 L465.0 267.0 L466.5 267.0 L468.0 266.9 L469.5 266.8 L471.0 266.8 L472.5 266.6 L474.0 266.5 L475.5 266.3 L477.0 266.0 L478.5 265.7 L480.0 265.4 L481.5 265.0 L483.0 264.6 L484.5 264.2 L486.0 263.7 L487.5 263.2 L489.0 262.7 L490.5 262.2 L492.0 261.6 L493.5 261.1 L495.0 260.5 L496.5 259.9 L498.0 259.3 L499.5 258.7 L501.0 258.2 L502.5 257.6 L504.0 257.0 L505.5 256.4 L507.0 255.7 L508.5 255.1 L510.0 254.4 L511.5 253.7 L513.0 253.0 L514.5 252.3 L516.0 251.6 L517.5 250.8 L519.0 250.1 L520.5 249.3 L522.0 248.5 L523.5 247.7 L525.0 246.9 L526.5 246.1 L528.0 245.3 L529.5 244.5 L531.0 243.7 L532.5 242.8 L534.0 242.0 L535.5 241.2 L537.0 240.4 L538.5 239.6 L540.0 238.8 L541.5 238.0 L543.0 237.2 L544.5 236.4 L546.0 235.6 L547.5 234.8 L549.0 234.1 L550.5 233.3 L552.0 232.6 L553.5 231.9 L555.0 231.2 L556.5 230.5 L558.0 229.9 L559.5 229.2 L561.0 228.7 L562.5 228.1 L564.0 227.6 L565.5 227.0 L567.0 226.6 L568.5 226.1 L570.0 225.7 L571.5 225.3 L573.0 224.9 L574.5 224.6 L576.0 224.3 L577.5 224.0 L579.0 223.8 L580.5 223.6 L582.0 223.4 L583.5 223.2 L585.0 223.1 L586.5 223.0 L588.0 222.9 L588.0 223.3 L586.5 223.6 L585.0 223.9 L583.5 224.3 L582.0 224.7 L580.5 225.1 L579.0 225.6 L577.5 226.1 L576.0 226.6 L574.5 227.2 L573.0 227.8 L571.5 228.4 L570.0 229.0 L568.5 229.7 L567.0 230.4 L565.5 231.1 L564.0 231.9 L562.5 232.7 L561.0 233.5 L559.5 234.3 L558.0 235.2 L556.5 236.1 L555.0 237.0 L553.5 237.9 L552.0 238.8 L550.5 239.8 L549.0 240.7 L547.5 241.7 L546.0 242.7 L544.5 243.7 L543.0 244.7 L541.5 245.7 L540.0 246.8 L538.5 247.8 L537.0 248.8 L535.5 249.9 L534.0 250.9 L532.5 252.0 L531.0 253.0 L529.5 254.0 L528.0 255.0 L526.5 256.0 L525.0 256.9 L523.5 257.9 L522.0 258.8 L520.5 259.8 L519.0 260.7 L517.5 261.6 L516.0 262.5 L514.5 263.4 L513.0 264.2 L511.5 265.1 L510.0 265.9 L508.5 266.7 L507.0 267.5 L505.5 268.3 L504.0 269.1 L502.5 269.8 L501.0 270.6 L499.5 271.2 L498.0 271.8 L496.5 272.4 L495.0 273.0 L493.5 273.6 L492.0 274.1 L490.5 274.7 L489.0 275.2 L487.5 275.7 L486.0 276.2 L484.5 276.7 L483.0 277.1 L481.5 277.5 L480.0 277.9 L478.5 278.2 L477.0 278.5 L475.5 278.8 L474.0 279.0 L472.5 279.1 L471.0 279.3 L469.5 279.3 L468.0 279.4 L466.5 279.4 L465.0 279.3 L463.5 279.2 L462.0 279.1 L460.5 278.9 L459.0 278.7 L457.5 278.5 L456.0 278.2 L454.5 277.9 L453.0 277.6 L451.5 277.2 L450.0 276.7 L448.5 276.3 L447.0 275.8 L445.5 275.2 L444.0 274.6 L442.5 274.0 L441.0 273.3 L439.5 272.6 L438.0 271.9 L436.5 271.1 L435.0 270.3 L433.5 269.5 L432.0 268.6 L430.5 267.7 L429.0 266.7 L427.5 265.7 L426.0 264.7 L424.5 263.6 L423.0 262.5 L421.5 261.4 L420.0 260.3 L418.5 259.1 L417.0 257.9 L415.5 256.6 L414.0 255.4 L412.5 254.1 L411.0 252.8 L409.5 251.5 L408.0 250.2 L406.5 248.9 L405.0 247.5 L403.5 246.2 L402.0 244.9 L400.5 243.5 L399.0 242.1 L397.5 240.7 L396.0 239.3 L394.5 237.9 L393.0 236.6 L391.5 235.2 L390.0 233.9 L388.5 232.5 L387.0 231.2 L385.5 229.9 L384.0 228.5 L382.5 227.2 L381.0 226.0 L379.5 224.7 L378.0 223.4 L376.5 222.2 L375.0 221.0 L373.5 219.8 L372.0 218.6 L370.5 217.4 L369.0 216.3 L367.5 215.2 L366.0 214.1 L364.5 213.1 L363.0 212.0 L361.5 211.0 L360.0 210.0 L358.5 209.1 L357.0 208.2 L355.5 207.2 L354.0 206.4 L352.5 205.5 L351.0 204.6 L349.5 203.8 L348.0 202.9 L346.5 202.1 L345.0 201.3 L343.5 200.5 L342.0 199.7 L340.5 199.0 L339.0 198.2 L337.5 197.4 L336.0 196.7 L334.5 196.0 L333.0 195.3 L331.5 194.6 L330.0 194.0 L328.5 193.4 L327.0 192.9 L325.5 192.3 L324.0 191.8 L322.5 191.4 L321.0 190.9 L319.5 190.5 L318.0 190.1 L316.5 189.7 L315.0 189.4 L313.5 189.1 L312.0 188.8 L310.5 188.5 L309.0 188.3 L307.5 188.0 L306.0 187.8 L304.5 187.7 L303.0 187.5 L301.5 187.4 L300.0 187.3Z" fill="#1c7d3a" fill-opacity="0.22" stroke="none"/>
<path d="M54.4 221.2 L55.9 221.2 L57.4 221.2 L58.9 221.2 L60.4 221.2 L61.9 221.2 L63.4 221.2 L64.9 221.2 L66.4 221.2 L67.9 221.2 L69.4 221.2 L70.9 221.2 L72.4 221.2 L73.9 221.2 L75.4 221.2 L76.9 221.2 L78.4 221.2 L79.9 221.2 L81.4 221.2 L82.9 221.2 L84.4 221.2 L85.9 221.2 L87.4 221.2 L88.9 221.2 L90.4 221.2 L91.9 221.2 L93.4 221.2 L94.9 221.2 L96.4 221.2 L97.9 221.2 L99.4 221.2 L100.9 221.2 L102.4 221.2 L103.9 221.2 L105.4 221.2 L106.9 221.2 L108.4 221.2 L109.9 221.2 L111.4 221.2 L112.9 221.2 L114.4 221.2 L115.9 221.2 L117.4 221.2 L118.9 221.2 L120.4 221.2 L121.9 221.2 L123.4 221.2 L124.9 221.2 L126.4 221.2 L127.9 221.2 L129.4 221.2 L130.9 221.2 L132.4 221.2 L133.9 221.2 L135.4 221.2 L136.9 221.2 L138.4 221.2 L139.9 221.2 L141.4 221.2 L142.9 221.2 L144.4 221.2 L145.9 221.2 L147.4 221.2 L148.9 221.2 L150.4 221.3 L151.9 221.3 L153.4 221.3 L154.9 221.3 L156.4 221.3 L157.9 221.3 L159.4 221.3 L160.9 221.3 L162.4 221.3 L163.9 221.3 L165.4 221.3 L166.9 221.3 L168.4 221.3 L169.9 221.3 L171.4 221.3 L172.9 221.3 L174.4 221.3 L175.9 221.3 L177.4 221.3 L178.9 221.3 L180.4 221.3 L181.9 221.3 L183.4 221.3 L184.9 221.3 L186.4 221.3 L187.9 221.3 L189.4 221.3 L190.9 221.3 L192.4 221.3 L193.9 221.3 L195.4 221.3 L196.9 221.3 L198.4 221.3 L199.9 221.3 L201.4 221.3 L202.9 221.3 L204.4 221.3 L205.9 221.3 L207.4 221.3 L208.9 221.3 L210.4 221.3 L211.9 221.3 L213.4 221.3 L214.9 221.3 L216.4 221.3 L217.9 221.3 L219.4 221.3 L220.9 221.3 L222.4 221.3 L223.9 221.3 L225.4 221.3 L226.9 221.3 L228.4 221.3 L229.9 221.3 L231.4 221.3 L232.9 221.3 L234.4 221.3 L235.9 221.3 L237.4 221.3 L238.9 221.3 L240.4 221.3 L241.9 221.3 L243.4 221.3 L244.9 221.3 L246.4 221.3 L247.9 221.3 L249.4 221.3 L250.9 221.3 L252.4 221.3 L253.9 221.3 L255.4 221.3 L256.9 221.3 L258.4 221.3 L259.9 221.3 L261.4 221.3 L262.9 221.3 L264.4 221.3 L265.0 221.3" fill="none" stroke="#1a1a1a" stroke-width="1.8" stroke-linecap="round"/>
<path d="M54.4 221.5 L55.9 221.5 L57.4 221.5 L58.9 221.5 L60.4 221.5 L61.9 221.5 L63.4 221.5 L64.9 221.5 L66.4 221.5 L67.9 221.5 L69.4 221.5 L70.9 221.5 L72.4 221.5 L73.9 221.5 L75.4 221.5 L76.9 221.5 L78.4 221.4 L79.9 221.4 L81.4 221.4 L82.9 221.4 L84.4 221.4 L85.9 221.4 L87.4 221.4 L88.9 221.4 L90.4 221.4 L91.9 221.4 L93.4 221.4 L94.9 221.4 L96.4 221.4 L97.9 221.4 L99.4 221.4 L100.9 221.4 L102.4 221.4 L103.9 221.4 L105.4 221.4 L106.9 221.4 L108.4 221.4 L109.9 221.4 L111.4 221.4 L112.9 221.4 L114.4 221.4 L115.9 221.4 L117.4 221.4 L118.9 221.4 L120.4 221.4 L121.9 221.4 L123.4 221.4 L124.9 221.4 L126.4 221.3 L127.9 221.3 L129.4 221.3 L130.9 221.3 L132.4 221.3 L133.9 221.3 L135.4 221.3 L136.9 221.3 L138.4 221.3 L139.9 221.3 L141.4 221.3 L142.9 221.3 L144.4 221.3 L145.9 221.3 L147.4 221.3 L148.9 221.3 L150.4 221.3 L151.9 221.3 L153.4 221.3 L154.9 221.3 L156.4 221.3 L157.9 221.3 L159.4 221.3 L160.9 221.3 L162.4 221.3 L163.9 221.3 L165.4 221.3 L166.9 221.3 L168.4 221.3 L169.9 221.3 L171.4 221.2 L172.9 221.2 L174.4 221.2 L175.9 221.2 L177.4 221.2 L178.9 221.2 L180.4 221.2 L181.9 221.2 L183.4 221.2 L184.9 221.2 L186.4 221.2 L187.9 221.2 L189.4 221.2 L190.9 221.2 L192.4 221.2 L193.9 221.2 L195.4 221.2 L196.9 221.2 L198.4 221.2 L199.9 221.2 L201.4 221.2 L202.9 221.2 L204.4 221.2 L205.9 221.2 L207.4 221.2 L208.9 221.2 L210.4 221.2 L211.9 221.2 L213.4 221.2 L214.9 221.2 L216.4 221.2 L217.9 221.2 L219.4 221.2 L220.9 221.2 L222.4 221.2 L223.9 221.2 L225.4 221.2 L226.9 221.2 L228.4 221.2 L229.9 221.2 L231.4 221.2 L232.9 221.2 L234.4 221.2 L235.9 221.2 L237.4 221.2 L238.9 221.2 L240.4 221.2 L241.9 221.1 L243.4 221.1 L244.9 221.1 L246.4 221.1 L247.9 221.0 L249.4 221.0 L250.9 221.0 L252.4 220.9 L253.9 220.9 L255.4 220.8 L256.9 220.7 L258.4 220.6 L259.9 220.6 L261.4 220.5 L262.9 220.4 L264.4 220.3 L265.9 220.2 L267.4 220.1 L268.9 220.0 L270.4 219.9 L271.9 219.8 L273.4 219.6 L274.9 219.5 L276.4 219.4 L277.9 219.3 L279.4 219.1 L280.9 219.0 L282.4 218.9 L283.9 218.8 L285.4 218.7 L286.9 218.6 L288.4 218.5 L289.9 218.4 L291.4 218.3 L292.9 218.2 L294.4 218.1 L295.9 218.0 L297.4 217.9 L298.9 217.7 L300.4 217.6 L301.9 217.4 L303.4 217.2 L304.9 217.0 L306.4 216.8 L307.9 216.5 L309.4 216.3 L310.9 216.0 L312.4 215.8 L313.9 215.5 L315.4 215.3 L316.9 215.0 L318.4 214.7 L319.9 214.5 L321.4 214.2 L322.9 214.0 L324.4 213.8 L325.9 213.5 L327.4 213.3 L328.9 213.1 L330.4 212.9 L331.9 212.7 L333.4 212.5 L334.9 212.3 L336.4 212.1 L337.9 211.9 L339.4 211.7 L340.9 211.6 L342.4 211.4 L343.9 211.2 L345.4 211.1 L346.9 211.0 L348.4 210.8 L349.9 210.7 L351.4 210.6 L352.9 210.5 L354.4 210.4 L355.9 210.3 L357.4 210.2 L358.9 210.2 L360.4 210.1 L361.9 210.1 L363.4 210.0 L364.9 210.0 L366.4 210.0 L367.9 210.0 L369.4 210.0 L370.9 210.0 L372.4 210.0 L373.9 210.0 L375.4 210.0 L376.9 210.1 L378.4 210.1 L379.9 210.2 L381.4 210.2 L382.9 210.3 L384.4 210.4 L385.9 210.5 L387.4 210.6 L388.9 210.7 L390.4 210.8 L391.9 210.9 L393.4 211.0 L394.9 211.1 L396.4 211.2 L397.9 211.4 L399.4 211.5 L400.9 211.7 L402.4 211.9 L403.9 212.1 L405.4 212.3 L406.9 212.6 L408.4 212.8 L409.9 213.1 L411.4 213.3 L412.9 213.6 L414.4 213.9 L415.9 214.2 L417.4 214.5 L418.9 214.8 L420.4 215.1 L421.9 215.4 L423.4 215.7 L424.9 216.0 L426.4 216.3 L427.9 216.6 L429.4 216.9 L430.9 217.1 L432.4 217.4 L433.9 217.6 L435.4 217.8 L436.9 218.0 L438.4 218.3 L439.9 218.5 L441.4 218.7 L442.9 218.8 L444.4 219.0 L445.9 219.2 L447.4 219.3 L448.9 219.5 L450.4 219.6 L451.9 219.8 L453.4 219.9 L454.9 220.0 L456.4 220.1 L457.9 220.3 L459.4 220.4 L460.9 220.4 L462.4 220.5 L463.9 220.6 L465.4 220.7 L466.9 220.8 L468.4 220.9 L469.9 220.9 L471.4 221.0 L472.9 221.0 L474.4 221.1 L475.9 221.1 L477.4 221.2 L478.9 221.2 L480.4 221.3 L481.9 221.3 L483.4 221.4 L484.9 221.4 L486.4 221.4 L487.9 221.5 L489.4 221.5 L490.9 221.5 L492.4 221.6 L493.9 221.6 L495.4 221.6 L496.9 221.6 L498.4 221.7 L499.9 221.7 L501.4 221.7 L502.9 221.7 L504.4 221.7 L505.9 221.7 L507.4 221.8 L508.9 221.8 L510.4 221.8 L511.9 221.8 L513.4 221.8 L514.9 221.8 L516.4 221.8 L517.9 221.8 L519.4 221.9 L520.9 221.9 L522.4 221.9 L523.9 221.9 L525.4 221.9 L526.9 221.9 L528.4 221.9 L529.9 221.9 L531.4 221.9 L532.9 222.0 L534.4 222.0 L535.9 222.0 L537.4 222.0 L538.9 222.0 L540.4 222.0 L541.9 222.0 L543.4 222.0 L544.9 222.0 L546.4 222.0 L547.9 222.1 L549.4 222.1 L550.9 222.1 L552.4 222.1 L553.9 222.1 L555.4 222.1 L556.9 222.1 L558.4 222.1 L559.9 222.1 L561.4 222.1 L562.9 222.1 L564.4 222.1 L565.9 222.1 L567.4 222.2 L568.9 222.2 L570.4 222.2 L571.9 222.2 L573.4 222.2 L574.9 222.2 L576.4 222.2 L577.9 222.2 L579.4 222.2 L580.9 222.2 L582.4 222.2 L583.9 222.2 L585.4 222.2 L586.9 222.2 L588.4 222.2 L589.9 222.2 L591.4 222.2 L592.9 222.2 L594.4 222.3 L595.9 222.3 L597.4 222.3 L598.9 222.3 L600.4 222.3 L601.9 222.3 L603.4 222.3 L604.9 222.3 L606.4 222.3 L607.9 222.3 L609.4 222.3 L610.9 222.3 L612.4 222.3 L613.9 222.3 L615.4 222.3 L616.9 222.3 L618.4 222.3 L619.9 222.3 L621.4 222.3 L622.9 222.3 L624.4 222.3 L625.9 222.3 L627.4 222.3 L628.9 222.3 L629.6 222.3" fill="none" stroke="#d4722c" stroke-width="1.9" stroke-linejoin="round" stroke-linecap="round"/>
<path d="M54.4 221.7 L55.9 221.7 L57.4 221.7 L58.9 221.7 L60.4 221.7 L61.9 221.7 L63.4 221.7 L64.9 221.7 L66.4 221.7 L67.9 221.7 L69.4 221.7 L70.9 221.7 L72.4 221.7 L73.9 221.7 L75.4 221.7 L76.9 221.7 L78.4 221.7 L79.9 221.7 L81.4 221.7 L82.9 221.7 L84.4 221.7 L85.9 221.7 L87.4 221.7 L88.9 221.7 L90.4 221.7 L91.9 221.7 L93.4 221.7 L94.9 221.7 L96.4 221.7 L97.9 221.7 L99.4 221.7 L100.9 221.7 L102.4 221.7 L103.9 221.7 L105.4 221.7 L106.9 221.7 L108.4 221.7 L109.9 221.7 L111.4 221.7 L112.9 221.7 L114.4 221.7 L115.9 221.7 L117.4 221.7 L118.9 221.7 L120.4 221.8 L121.9 221.8 L123.4 221.8 L124.9 221.8 L126.4 221.8 L127.9 221.8 L129.4 221.8 L130.9 221.8 L132.4 221.8 L133.9 221.8 L135.4 221.8 L136.9 221.8 L138.4 221.8 L139.9 221.8 L141.4 221.8 L142.9 221.8 L144.4 221.8 L145.9 221.8 L147.4 221.8 L148.9 221.8 L150.4 221.8 L151.9 221.8 L153.4 221.8 L154.9 221.8 L156.4 221.8 L157.9 221.8 L159.4 221.8 L160.9 221.8 L162.4 221.8 L163.9 221.9 L165.4 221.9 L166.9 221.9 L168.4 221.9 L169.9 221.9 L171.4 221.9 L172.9 221.9 L174.4 221.9 L175.9 221.9 L177.4 221.9 L178.9 221.9 L180.4 221.9 L181.9 222.0 L183.4 222.0 L184.9 222.0 L186.4 222.0 L187.9 222.0 L189.4 222.0 L190.9 222.0 L192.4 222.0 L193.9 222.1 L195.4 222.1 L196.9 222.1 L198.4 222.1 L199.9 222.1 L201.4 222.1 L202.9 222.1 L204.4 222.2 L205.9 222.2 L207.4 222.2 L208.9 222.2 L210.4 222.2 L211.9 222.3 L213.4 222.3 L214.9 222.3 L216.4 222.3 L217.9 222.4 L219.4 222.4 L220.9 222.4 L222.4 222.4 L223.9 222.5 L225.4 222.5 L226.9 222.5 L228.4 222.6 L229.9 222.6 L231.4 222.6 L232.9 222.7 L234.4 222.7 L235.9 222.7 L237.4 222.8 L238.9 222.8 L240.4 222.9 L241.9 222.9 L243.4 223.0 L244.9 223.0 L246.4 223.1 L247.9 223.1 L249.4 223.2 L250.9 223.2 L252.4 223.3 L253.9 223.4 L255.4 223.5 L256.9 223.5 L258.4 223.6 L259.9 223.7 L261.4 223.8 L262.9 223.9 L264.4 223.9 L265.9 224.0 L267.4 224.1 L268.9 224.2 L270.4 224.3 L271.9 224.3 L273.4 224.4 L274.9 224.5 L276.4 224.5 L277.9 224.6 L279.4 224.6 L280.9 224.7 L282.4 224.7 L283.9 224.8 L285.4 224.8 L286.9 224.8 L288.4 224.9 L289.9 224.9 L291.4 225.0 L292.9 225.0 L294.4 225.1 L295.9 225.1 L297.4 225.2 L298.9 225.3 L300.4 225.4 L301.9 225.5 L303.4 225.6 L304.9 225.8 L306.4 225.9 L307.9 226.1 L309.4 226.3 L310.9 226.5 L312.4 226.7 L313.9 226.9 L315.4 227.1 L316.9 227.3 L318.4 227.6 L319.9 227.8 L321.4 228.0 L322.9 228.3 L324.4 228.5 L325.9 228.8 L327.4 229.0 L328.9 229.3 L330.4 229.6 L331.9 229.8 L333.4 230.1 L334.9 230.4 L336.4 230.6 L337.9 230.9 L339.4 231.2 L340.9 231.4 L342.4 231.7 L343.9 232.0 L345.4 232.3 L346.9 232.5 L348.4 232.8 L349.9 233.1 L351.4 233.5 L352.9 233.8 L354.4 234.1 L355.9 234.4 L357.4 234.8 L358.9 235.1 L360.4 235.5 L361.9 235.8 L363.4 236.2 L364.9 236.5 L366.4 236.9 L367.9 237.3 L369.4 237.6 L370.9 238.0 L372.4 238.3 L373.9 238.7 L375.4 239.0 L376.9 239.3 L378.4 239.7 L379.9 240.0 L381.4 240.3 L382.9 240.6 L384.4 240.9 L385.9 241.1 L387.4 241.4 L388.9 241.6 L390.4 241.8 L391.9 242.1 L393.4 242.3 L394.9 242.4 L396.4 242.6 L397.9 242.8 L399.4 242.9 L400.9 243.0 L402.4 243.1 L403.9 243.2 L405.4 243.3 L406.9 243.3 L408.4 243.3 L409.9 243.3 L411.4 243.3 L412.9 243.3 L414.4 243.2 L415.9 243.2 L417.4 243.1 L418.9 243.0 L420.4 242.9 L421.9 242.7 L423.4 242.5 L424.9 242.3 L426.4 242.1 L427.9 241.9 L429.4 241.6 L430.9 241.4 L432.4 241.1 L433.9 240.8 L435.4 240.4 L436.9 240.1 L438.4 239.7 L439.9 239.4 L441.4 239.0 L442.9 238.6 L444.4 238.2 L445.9 237.8 L447.4 237.4 L448.9 236.9 L450.4 236.5 L451.9 236.1 L453.4 235.7 L454.9 235.3 L456.4 234.8 L457.9 234.4 L459.4 234.0 L460.9 233.6 L462.4 233.2 L463.9 232.8 L465.4 232.4 L466.9 232.0 L468.4 231.6 L469.9 231.2 L471.4 230.8 L472.9 230.4 L474.4 230.1 L475.9 229.7 L477.4 229.4 L478.9 229.0 L480.4 228.7 L481.9 228.4 L483.4 228.1 L484.9 227.8 L486.4 227.5 L487.9 227.2 L489.4 227.0 L490.9 226.7 L492.4 226.5 L493.9 226.2 L495.4 226.0 L496.9 225.8 L498.4 225.6 L499.9 225.4 L501.4 225.2 L502.9 225.1 L504.4 224.9 L505.9 224.8 L507.4 224.6 L508.9 224.5 L510.4 224.4 L511.9 224.3 L513.4 224.2 L514.9 224.1 L516.4 224.0 L517.9 223.9 L519.4 223.9 L520.9 223.8 L522.4 223.7 L523.9 223.7 L525.4 223.6 L526.9 223.5 L528.4 223.5 L529.9 223.4 L531.4 223.3 L532.9 223.3 L534.4 223.2 L535.9 223.2 L537.4 223.1 L538.9 223.1 L540.4 223.0 L541.9 223.0 L543.4 223.0 L544.9 222.9 L546.4 222.9 L547.9 222.8 L549.4 222.8 L550.9 222.8 L552.4 222.7 L553.9 222.7 L555.4 222.7 L556.9 222.6 L558.4 222.6 L559.9 222.6 L561.4 222.6 L562.9 222.6 L564.4 222.5 L565.9 222.5 L567.4 222.5 L568.9 222.5 L570.4 222.5 L571.9 222.4 L573.4 222.4 L574.9 222.4 L576.4 222.4 L577.9 222.4 L579.4 222.4 L580.9 222.4 L582.4 222.3 L583.9 222.3 L585.4 222.3 L586.9 222.3 L588.4 222.3 L589.9 222.3 L591.4 222.3 L592.9 222.3 L594.4 222.3 L595.9 222.3 L597.4 222.3 L598.9 222.3 L600.4 222.3 L601.9 222.3 L603.4 222.3 L604.9 222.3 L606.4 222.3 L607.9 222.3 L609.4 222.3 L610.9 222.3 L612.4 222.3 L613.9 222.3 L615.4 222.3 L616.9 222.3 L618.4 222.3 L619.9 222.3 L621.4 222.3 L622.9 222.3 L624.4 222.3 L625.9 222.3 L627.4 222.3 L628.9 222.3 L629.6 222.3" fill="none" stroke="#2a9ad2" stroke-width="1.9" stroke-linejoin="round" stroke-linecap="round"/>
<path d="M54.4 221.4 L55.9 221.4 L57.4 221.4 L58.9 221.4 L60.4 221.4 L61.9 221.4 L63.4 221.4 L64.9 221.4 L66.4 221.4 L67.9 221.4 L69.4 221.4 L70.9 221.4 L72.4 221.4 L73.9 221.4 L75.4 221.4 L76.9 221.4 L78.4 221.4 L79.9 221.3 L81.4 221.3 L82.9 221.3 L84.4 221.3 L85.9 221.3 L87.4 221.3 L88.9 221.3 L90.4 221.3 L91.9 221.3 L93.4 221.3 L94.9 221.3 L96.4 221.3 L97.9 221.3 L99.4 221.3 L100.9 221.2 L102.4 221.2 L103.9 221.2 L105.4 221.2 L106.9 221.2 L108.4 221.2 L109.9 221.2 L111.4 221.2 L112.9 221.2 L114.4 221.2 L115.9 221.1 L117.4 221.1 L118.9 221.1 L120.4 221.1 L121.9 221.1 L123.4 221.1 L124.9 221.1 L126.4 221.0 L127.9 221.0 L129.4 221.0 L130.9 221.0 L132.4 221.0 L133.9 221.0 L135.4 221.0 L136.9 220.9 L138.4 220.9 L139.9 220.9 L141.4 220.9 L142.9 220.9 L144.4 220.8 L145.9 220.8 L147.4 220.8 L148.9 220.8 L150.4 220.7 L151.9 220.7 L153.4 220.7 L154.9 220.6 L156.4 220.6 L157.9 220.5 L159.4 220.5 L160.9 220.4 L162.4 220.4 L163.9 220.3 L165.4 220.2 L166.9 220.2 L168.4 220.1 L169.9 220.0 L171.4 219.9 L172.9 219.9 L174.4 219.8 L175.9 219.7 L177.4 219.6 L178.9 219.5 L180.4 219.4 L181.9 219.4 L183.4 219.3 L184.9 219.2 L186.4 219.1 L187.9 219.0 L189.4 218.9 L190.9 218.8 L192.4 218.7 L193.9 218.7 L195.4 218.6 L196.9 218.5 L198.4 218.4 L199.9 218.3 L201.4 218.3 L202.9 218.2 L204.4 218.1 L205.9 218.0 L207.4 218.0 L208.9 217.9 L210.4 217.8 L211.9 217.7 L213.4 217.7 L214.9 217.6 L216.4 217.5 L217.9 217.4 L219.4 217.4 L220.9 217.3 L222.4 217.2 L223.9 217.2 L225.4 217.1 L226.9 217.0 L228.4 216.9 L229.9 216.9 L231.4 216.8 L232.9 216.7 L234.4 216.7 L235.9 216.6 L237.4 216.5 L238.9 216.4 L240.4 216.4 L241.9 216.3 L243.4 216.2 L244.9 216.1 L246.4 216.1 L247.9 216.0 L249.4 215.9 L250.9 215.8 L252.4 215.7 L253.9 215.6 L255.4 215.5 L256.9 215.4 L258.4 215.3 L259.9 215.1 L261.4 215.0 L262.9 214.9 L264.4 214.7 L265.9 214.6 L267.4 214.4 L268.9 214.2 L270.4 214.1 L271.9 213.9 L273.4 213.7 L274.9 213.5 L276.4 213.3 L277.9 213.1 L279.4 212.9 L280.9 212.7 L282.4 212.5 L283.9 212.3 L285.4 212.1 L286.9 211.9 L288.4 211.7 L289.9 211.4 L291.4 211.2 L292.9 211.0 L294.4 210.7 L295.9 210.5 L297.4 210.2 L298.9 210.0 L300.4 209.7 L301.9 209.4 L303.4 209.1 L304.9 208.8 L306.4 208.5 L307.9 208.1 L309.4 207.8 L310.9 207.5 L312.4 207.1 L313.9 206.7 L315.4 206.4 L316.9 206.0 L318.4 205.6 L319.9 205.2 L321.4 204.8 L322.9 204.4 L324.4 203.9 L325.9 203.5 L327.4 203.0 L328.9 202.5 L330.4 202.0 L331.9 201.5 L333.4 201.0 L334.9 200.4 L336.4 199.9 L337.9 199.3 L339.4 198.7 L340.9 198.1 L342.4 197.6 L343.9 197.0 L345.4 196.4 L346.9 195.9 L348.4 195.3 L349.9 194.8 L351.4 194.3 L352.9 193.7 L354.4 193.2 L355.9 192.7 L357.4 192.2 L358.9 191.7 L360.4 191.3 L361.9 190.8 L363.4 190.3 L364.9 189.8 L366.4 189.3 L367.9 188.8 L369.4 188.3 L370.9 187.8 L372.4 187.3 L373.9 186.8 L375.4 186.4 L376.9 185.9 L378.4 185.4 L379.9 185.0 L381.4 184.5 L382.9 184.1 L384.4 183.7 L385.9 183.3 L387.4 183.0 L388.9 182.6 L390.4 182.3 L391.9 182.0 L393.4 181.7 L394.9 181.4 L396.4 181.2 L397.9 181.0 L399.4 180.8 L400.9 180.6 L402.4 180.4 L403.9 180.3 L405.4 180.2 L406.9 180.1 L408.4 180.0 L409.9 179.9 L411.4 179.9 L412.9 179.9 L414.4 179.9 L415.9 179.9 L417.4 179.9 L418.9 179.9 L420.4 180.0 L421.9 180.0 L423.4 180.1 L424.9 180.2 L426.4 180.4 L427.9 180.5 L429.4 180.7 L430.9 180.9 L432.4 181.1 L433.9 181.3 L435.4 181.5 L436.9 181.8 L438.4 182.1 L439.9 182.4 L441.4 182.7 L442.9 183.1 L444.4 183.4 L445.9 183.8 L447.4 184.2 L448.9 184.6 L450.4 185.0 L451.9 185.5 L453.4 185.9 L454.9 186.3 L456.4 186.8 L457.9 187.2 L459.4 187.7 L460.9 188.1 L462.4 188.6 L463.9 189.0 L465.4 189.5 L466.9 189.9 L468.4 190.4 L469.9 190.8 L471.4 191.3 L472.9 191.7 L474.4 192.2 L475.9 192.7 L477.4 193.2 L478.9 193.6 L480.4 194.1 L481.9 194.6 L483.4 195.1 L484.9 195.6 L486.4 196.2 L487.9 196.7 L489.4 197.2 L490.9 197.8 L492.4 198.4 L493.9 198.9 L495.4 199.5 L496.9 200.1 L498.4 200.7 L499.9 201.3 L501.4 201.9 L502.9 202.4 L504.4 203.0 L505.9 203.6 L507.4 204.2 L508.9 204.8 L510.4 205.4 L511.9 205.9 L513.4 206.5 L514.9 207.0 L516.4 207.6 L517.9 208.1 L519.4 208.7 L520.9 209.2 L522.4 209.7 L523.9 210.2 L525.4 210.7 L526.9 211.1 L528.4 211.6 L529.9 212.0 L531.4 212.4 L532.9 212.9 L534.4 213.2 L535.9 213.6 L537.4 214.0 L538.9 214.3 L540.4 214.6 L541.9 214.9 L543.4 215.2 L544.9 215.5 L546.4 215.8 L547.9 216.1 L549.4 216.4 L550.9 216.6 L552.4 216.9 L553.9 217.2 L555.4 217.5 L556.9 217.7 L558.4 218.0 L559.9 218.3 L561.4 218.5 L562.9 218.8 L564.4 219.0 L565.9 219.3 L567.4 219.5 L568.9 219.7 L570.4 220.0 L571.9 220.2 L573.4 220.4 L574.9 220.6 L576.4 220.7 L577.9 220.9 L579.4 221.1 L580.9 221.2 L582.4 221.4 L583.9 221.5 L585.4 221.6 L586.9 221.7 L588.4 221.8 L589.9 221.8 L591.4 221.9 L592.9 221.9 L594.4 222.0 L595.9 222.0 L597.4 222.1 L598.9 222.1 L600.4 222.1 L601.9 222.1 L603.4 222.2 L604.9 222.2 L606.4 222.2 L607.9 222.2 L609.4 222.2 L610.9 222.2 L612.4 222.2 L613.9 222.2 L615.4 222.3 L616.9 222.3 L618.4 222.3 L619.9 222.3 L621.4 222.3 L622.9 222.3 L624.4 222.3 L625.9 222.3 L627.4 222.3 L628.9 222.3 L629.6 222.3" fill="none" stroke="#8dc850" stroke-width="1.9" stroke-linejoin="round" stroke-linecap="round"/>
<path d="M54.4 221.1 L55.9 221.1 L57.4 221.1 L58.9 221.1 L60.4 221.0 L61.9 221.0 L63.4 221.0 L64.9 220.9 L66.4 220.9 L67.9 220.9 L69.4 220.8 L70.9 220.8 L72.4 220.7 L73.9 220.7 L75.4 220.6 L76.9 220.6 L78.4 220.6 L79.9 220.5 L81.4 220.5 L82.9 220.4 L84.4 220.4 L85.9 220.3 L87.4 220.3 L88.9 220.2 L90.4 220.1 L91.9 220.1 L93.4 220.0 L94.9 220.0 L96.4 219.9 L97.9 219.9 L99.4 219.8 L100.9 219.8 L102.4 219.7 L103.9 219.6 L105.4 219.6 L106.9 219.5 L108.4 219.5 L109.9 219.4 L111.4 219.3 L112.9 219.3 L114.4 219.2 L115.9 219.1 L117.4 219.1 L118.9 219.0 L120.4 218.9 L121.9 218.9 L123.4 218.8 L124.9 218.7 L126.4 218.6 L127.9 218.5 L129.4 218.5 L130.9 218.4 L132.4 218.3 L133.9 218.2 L135.4 218.1 L136.9 217.9 L138.4 217.8 L139.9 217.7 L141.4 217.6 L142.9 217.4 L144.4 217.3 L145.9 217.1 L147.4 216.9 L148.9 216.7 L150.4 216.6 L151.9 216.4 L153.4 216.1 L154.9 215.9 L156.4 215.7 L157.9 215.5 L159.4 215.2 L160.9 215.0 L162.4 214.7 L163.9 214.5 L165.4 214.2 L166.9 213.9 L168.4 213.6 L169.9 213.3 L171.4 213.0 L172.9 212.6 L174.4 212.3 L175.9 211.9 L177.4 211.6 L178.9 211.2 L180.4 210.8 L181.9 210.4 L183.4 210.0 L184.9 209.5 L186.4 209.1 L187.9 208.7 L189.4 208.3 L190.9 207.8 L192.4 207.4 L193.9 207.0 L195.4 206.6 L196.9 206.1 L198.4 205.7 L199.9 205.4 L201.4 205.0 L202.9 204.6 L204.4 204.3 L205.9 203.9 L207.4 203.6 L208.9 203.3 L210.4 202.9 L211.9 202.6 L213.4 202.3 L214.9 202.0 L216.4 201.7 L217.9 201.4 L219.4 201.2 L220.9 200.9 L222.4 200.6 L223.9 200.3 L225.4 199.9 L226.9 199.6 L228.4 199.3 L229.9 199.0 L231.4 198.7 L232.9 198.3 L234.4 198.0 L235.9 197.6 L237.4 197.3 L238.9 196.9 L240.4 196.5 L241.9 196.2 L243.4 195.8 L244.9 195.4 L246.4 195.0 L247.9 194.7 L249.4 194.3 L250.9 193.9 L252.4 193.5 L253.9 193.2 L255.4 192.8 L256.9 192.5 L258.4 192.1 L259.9 191.7 L261.4 191.4 L262.9 191.0 L264.4 190.7 L265.9 190.3 L267.4 190.0 L268.9 189.6 L270.4 189.2 L271.9 188.8 L273.4 188.4 L274.9 188.0 L276.4 187.6 L277.9 187.2 L279.4 186.8 L280.9 186.3 L282.4 185.9 L283.9 185.5 L285.4 185.0 L286.9 184.6 L288.4 184.1 L289.9 183.7 L291.4 183.3 L292.9 182.8 L294.4 182.4 L295.9 182.0 L297.4 181.5 L298.9 181.1 L300.4 180.7 L301.9 180.3 L303.4 179.9 L304.9 179.5 L306.4 179.1 L307.9 178.8 L309.4 178.4 L310.9 178.1 L312.4 177.8 L313.9 177.6 L315.4 177.3 L316.9 177.1 L318.4 176.9 L319.9 176.7 L321.4 176.6 L322.9 176.4 L324.4 176.3 L325.9 176.2 L327.4 176.2 L328.9 176.1 L330.4 176.1 L331.9 176.1 L333.4 176.1 L334.9 176.1 L336.4 176.2 L337.9 176.2 L339.4 176.3 L340.9 176.4 L342.4 176.5 L343.9 176.7 L345.4 176.8 L346.9 177.0 L348.4 177.1 L349.9 177.3 L351.4 177.5 L352.9 177.8 L354.4 178.0 L355.9 178.3 L357.4 178.5 L358.9 178.8 L360.4 179.1 L361.9 179.5 L363.4 179.9 L364.9 180.3 L366.4 180.7 L367.9 181.2 L369.4 181.7 L370.9 182.2 L372.4 182.8 L373.9 183.4 L375.4 184.0 L376.9 184.6 L378.4 185.3 L379.9 186.0 L381.4 186.7 L382.9 187.5 L384.4 188.2 L385.9 189.0 L387.4 189.7 L388.9 190.5 L390.4 191.3 L391.9 192.1 L393.4 192.8 L394.9 193.6 L396.4 194.4 L397.9 195.1 L399.4 195.9 L400.9 196.6 L402.4 197.4 L403.9 198.1 L405.4 198.8 L406.9 199.5 L408.4 200.2 L409.9 200.9 L411.4 201.6 L412.9 202.2 L414.4 202.9 L415.9 203.5 L417.4 204.1 L418.9 204.7 L420.4 205.3 L421.9 205.9 L423.4 206.5 L424.9 207.1 L426.4 207.6 L427.9 208.1 L429.4 208.7 L430.9 209.2 L432.4 209.6 L433.9 210.1 L435.4 210.6 L436.9 211.0 L438.4 211.4 L439.9 211.8 L441.4 212.2 L442.9 212.5 L444.4 212.8 L445.9 213.2 L447.4 213.5 L448.9 213.8 L450.4 214.0 L451.9 214.3 L453.4 214.5 L454.9 214.8 L456.4 215.0 L457.9 215.2 L459.4 215.3 L460.9 215.5 L462.4 215.7 L463.9 215.8 L465.4 216.0 L466.9 216.1 L468.4 216.2 L469.9 216.3 L471.4 216.4 L472.9 216.5 L474.4 216.6 L475.9 216.6 L477.4 216.7 L478.9 216.8 L480.4 216.8 L481.9 216.9 L483.4 216.9 L484.9 217.0 L486.4 217.0 L487.9 217.0 L489.4 217.1 L490.9 217.1 L492.4 217.1 L493.9 217.1 L495.4 217.2 L496.9 217.2 L498.4 217.2 L499.9 217.2 L501.4 217.2 L502.9 217.3 L504.4 217.3 L505.9 217.3 L507.4 217.3 L508.9 217.3 L510.4 217.4 L511.9 217.4 L513.4 217.4 L514.9 217.5 L516.4 217.5 L517.9 217.5 L519.4 217.6 L520.9 217.6 L522.4 217.6 L523.9 217.7 L525.4 217.7 L526.9 217.8 L528.4 217.8 L529.9 217.9 L531.4 217.9 L532.9 218.0 L534.4 218.1 L535.9 218.1 L537.4 218.2 L538.9 218.3 L540.4 218.4 L541.9 218.4 L543.4 218.5 L544.9 218.6 L546.4 218.7 L547.9 218.8 L549.4 218.9 L550.9 219.0 L552.4 219.1 L553.9 219.2 L555.4 219.4 L556.9 219.5 L558.4 219.6 L559.9 219.7 L561.4 219.9 L562.9 220.0 L564.4 220.1 L565.9 220.3 L567.4 220.4 L568.9 220.5 L570.4 220.7 L571.9 220.8 L573.4 220.9 L574.9 221.1 L576.4 221.2 L577.9 221.3 L579.4 221.4 L580.9 221.5 L582.4 221.6 L583.9 221.7 L585.4 221.7 L586.9 221.8 L588.4 221.8 L589.9 221.9 L591.4 221.9 L592.9 222.0 L594.4 222.0 L595.9 222.0 L597.4 222.1 L598.9 222.1 L600.4 222.1 L601.9 222.1 L603.4 222.1 L604.9 222.2 L606.4 222.2 L607.9 222.2 L609.4 222.2 L610.9 222.2 L612.4 222.2 L613.9 222.2 L615.4 222.2 L616.9 222.3 L618.4 222.3 L619.9 222.3 L621.4 222.3 L622.9 222.3 L624.4 222.3 L625.9 222.3 L627.4 222.3 L628.9 222.3 L629.6 222.3" fill="none" stroke="#f6b81c" stroke-width="1.9" stroke-linejoin="round" stroke-linecap="round"/>
<path d="M54.4 221.0 L55.9 221.0 L57.4 220.9 L58.9 220.9 L60.4 220.9 L61.9 220.9 L63.4 220.9 L64.9 220.9 L66.4 220.8 L67.9 220.8 L69.4 220.8 L70.9 220.8 L72.4 220.7 L73.9 220.7 L75.4 220.7 L76.9 220.6 L78.4 220.6 L79.9 220.6 L81.4 220.5 L82.9 220.5 L84.4 220.4 L85.9 220.4 L87.4 220.3 L88.9 220.3 L90.4 220.2 L91.9 220.1 L93.4 220.1 L94.9 220.0 L96.4 219.9 L97.9 219.9 L99.4 219.8 L100.9 219.7 L102.4 219.7 L103.9 219.6 L105.4 219.5 L106.9 219.5 L108.4 219.4 L109.9 219.3 L111.4 219.2 L112.9 219.2 L114.4 219.1 L115.9 219.0 L117.4 219.0 L118.9 218.9 L120.4 218.8 L121.9 218.7 L123.4 218.7 L124.9 218.6 L126.4 218.5 L127.9 218.4 L129.4 218.3 L130.9 218.3 L132.4 218.2 L133.9 218.1 L135.4 218.0 L136.9 217.9 L138.4 217.7 L139.9 217.6 L141.4 217.5 L142.9 217.4 L144.4 217.2 L145.9 217.1 L147.4 216.9 L148.9 216.7 L150.4 216.6 L151.9 216.4 L153.4 216.2 L154.9 216.0 L156.4 215.8 L157.9 215.6 L159.4 215.4 L160.9 215.2 L162.4 214.9 L163.9 214.7 L165.4 214.4 L166.9 214.2 L168.4 213.9 L169.9 213.6 L171.4 213.3 L172.9 213.0 L174.4 212.7 L175.9 212.3 L177.4 212.0 L178.9 211.6 L180.4 211.3 L181.9 210.9 L183.4 210.5 L184.9 210.1 L186.4 209.7 L187.9 209.3 L189.4 208.9 L190.9 208.5 L192.4 208.1 L193.9 207.7 L195.4 207.2 L196.9 206.8 L198.4 206.3 L199.9 205.9 L201.4 205.5 L202.9 205.0 L204.4 204.6 L205.9 204.1 L207.4 203.6 L208.9 203.2 L210.4 202.7 L211.9 202.2 L213.4 201.8 L214.9 201.3 L216.4 200.8 L217.9 200.3 L219.4 199.8 L220.9 199.2 L222.4 198.7 L223.9 198.1 L225.4 197.6 L226.9 197.0 L228.4 196.4 L229.9 195.8 L231.4 195.2 L232.9 194.6 L234.4 194.0 L235.9 193.3 L237.4 192.7 L238.9 192.0 L240.4 191.3 L241.9 190.6 L243.4 189.9 L244.9 189.2 L246.4 188.5 L247.9 187.8 L249.4 187.0 L250.9 186.3 L252.4 185.5 L253.9 184.8 L255.4 184.0 L256.9 183.2 L258.4 182.3 L259.9 181.5 L261.4 180.6 L262.9 179.8 L264.4 178.9 L265.9 177.9 L267.4 177.0 L268.9 176.0 L270.4 175.0 L271.9 173.9 L273.4 172.9 L274.9 171.8 L276.4 170.6 L277.9 169.5 L279.4 168.3 L280.9 167.1 L282.4 165.9 L283.9 164.7 L285.4 163.5 L286.9 162.2 L288.4 160.9 L289.9 159.7 L291.4 158.4 L292.9 157.1 L294.4 155.7 L295.9 154.4 L297.4 153.1 L298.9 151.7 L300.4 150.3 L301.9 148.9 L303.4 147.5 L304.9 146.1 L306.4 144.7 L307.9 143.3 L309.4 141.8 L310.9 140.4 L312.4 138.9 L313.9 137.5 L315.4 136.0 L316.9 134.5 L318.4 133.0 L319.9 131.5 L321.4 130.0 L322.9 128.5 L324.4 127.0 L325.9 125.5 L327.4 124.0 L328.9 122.4 L330.4 120.9 L331.9 119.4 L333.4 117.9 L334.9 116.3 L336.4 114.8 L337.9 113.3 L339.4 111.8 L340.9 110.3 L342.4 108.8 L343.9 107.3 L345.4 105.8 L346.9 104.4 L348.4 103.0 L349.9 101.6 L351.4 100.2 L352.9 98.9 L354.4 97.5 L355.9 96.2 L357.4 95.0 L358.9 93.7 L360.4 92.5 L361.9 91.3 L363.4 90.2 L364.9 89.1 L366.4 88.0 L367.9 87.0 L369.4 86.1 L370.9 85.1 L372.4 84.3 L373.9 83.4 L375.4 82.7 L376.9 81.9 L378.4 81.3 L379.9 80.6 L381.4 80.1 L382.9 79.5 L384.4 79.1 L385.9 78.6 L387.4 78.3 L388.9 77.9 L390.4 77.7 L391.9 77.4 L393.4 77.3 L394.9 77.1 L396.4 77.0 L397.9 77.0 L399.4 77.0 L400.9 77.0 L402.4 77.1 L403.9 77.3 L405.4 77.5 L406.9 77.7 L408.4 78.0 L409.9 78.3 L411.4 78.7 L412.9 79.2 L414.4 79.7 L415.9 80.2 L417.4 80.8 L418.9 81.5 L420.4 82.2 L421.9 83.0 L423.4 83.8 L424.9 84.7 L426.4 85.6 L427.9 86.5 L429.4 87.5 L430.9 88.5 L432.4 89.6 L433.9 90.6 L435.4 91.8 L436.9 92.9 L438.4 94.1 L439.9 95.3 L441.4 96.5 L442.9 97.8 L444.4 99.1 L445.9 100.5 L447.4 101.9 L448.9 103.3 L450.4 104.8 L451.9 106.3 L453.4 107.9 L454.9 109.4 L456.4 111.0 L457.9 112.6 L459.4 114.3 L460.9 115.9 L462.4 117.6 L463.9 119.3 L465.4 121.1 L466.9 122.8 L468.4 124.6 L469.9 126.4 L471.4 128.2 L472.9 130.0 L474.4 131.8 L475.9 133.7 L477.4 135.5 L478.9 137.4 L480.4 139.3 L481.9 141.2 L483.4 143.0 L484.9 144.9 L486.4 146.8 L487.9 148.7 L489.4 150.6 L490.9 152.5 L492.4 154.4 L493.9 156.2 L495.4 158.1 L496.9 160.1 L498.4 162.0 L499.9 163.9 L501.4 165.8 L502.9 167.6 L504.4 169.5 L505.9 171.4 L507.4 173.2 L508.9 175.0 L510.4 176.8 L511.9 178.6 L513.4 180.3 L514.9 182.0 L516.4 183.6 L517.9 185.2 L519.4 186.8 L520.9 188.3 L522.4 189.8 L523.9 191.3 L525.4 192.7 L526.9 194.1 L528.4 195.4 L529.9 196.7 L531.4 198.0 L532.9 199.2 L534.4 200.4 L535.9 201.6 L537.4 202.7 L538.9 203.8 L540.4 204.8 L541.9 205.8 L543.4 206.8 L544.9 207.7 L546.4 208.7 L547.9 209.5 L549.4 210.4 L550.9 211.2 L552.4 212.0 L553.9 212.8 L555.4 213.5 L556.9 214.2 L558.4 214.9 L559.9 215.5 L561.4 216.1 L562.9 216.7 L564.4 217.2 L565.9 217.7 L567.4 218.2 L568.9 218.6 L570.4 219.1 L571.9 219.4 L573.4 219.8 L574.9 220.1 L576.4 220.4 L577.9 220.7 L579.4 220.9 L580.9 221.2 L582.4 221.3 L583.9 221.5 L585.4 221.6 L586.9 221.8 L588.4 221.9 L589.9 221.9 L591.4 222.0 L592.9 222.1 L594.4 222.1 L595.9 222.1 L597.4 222.2 L598.9 222.2 L600.4 222.2 L601.9 222.2 L603.4 222.2 L604.9 222.2 L606.4 222.2 L607.9 222.3 L609.4 222.3 L610.9 222.3 L612.4 222.3 L613.9 222.3 L615.4 222.3 L616.9 222.3 L618.4 222.3 L619.9 222.3 L621.4 222.3 L622.9 222.3 L624.4 222.3 L625.9 222.3 L627.4 222.3 L628.9 222.3 L629.6 222.3" fill="none" stroke="#b8141a" stroke-width="1.9" stroke-linejoin="round" stroke-linecap="round"/>
<path d="M54.4 221.2 L55.9 221.2 L57.4 221.2 L58.9 221.2 L60.4 221.2 L61.9 221.1 L63.4 221.1 L64.9 221.1 L66.4 221.1 L67.9 221.0 L69.4 221.0 L70.9 221.0 L72.4 220.9 L73.9 220.9 L75.4 220.9 L76.9 220.8 L78.4 220.8 L79.9 220.8 L81.4 220.7 L82.9 220.7 L84.4 220.6 L85.9 220.6 L87.4 220.5 L88.9 220.5 L90.4 220.4 L91.9 220.4 L93.4 220.4 L94.9 220.3 L96.4 220.3 L97.9 220.2 L99.4 220.2 L100.9 220.1 L102.4 220.1 L103.9 220.0 L105.4 220.0 L106.9 219.9 L108.4 219.8 L109.9 219.8 L111.4 219.7 L112.9 219.7 L114.4 219.6 L115.9 219.6 L117.4 219.5 L118.9 219.4 L120.4 219.4 L121.9 219.3 L123.4 219.2 L124.9 219.2 L126.4 219.1 L127.9 219.0 L129.4 218.9 L130.9 218.8 L132.4 218.7 L133.9 218.6 L135.4 218.5 L136.9 218.4 L138.4 218.3 L139.9 218.2 L141.4 218.1 L142.9 217.9 L144.4 217.8 L145.9 217.6 L147.4 217.5 L148.9 217.3 L150.4 217.1 L151.9 216.9 L153.4 216.7 L154.9 216.6 L156.4 216.3 L157.9 216.1 L159.4 215.9 L160.9 215.7 L162.4 215.5 L163.9 215.2 L165.4 215.0 L166.9 214.7 L168.4 214.5 L169.9 214.2 L171.4 214.0 L172.9 213.7 L174.4 213.4 L175.9 213.2 L177.4 212.9 L178.9 212.7 L180.4 212.4 L181.9 212.2 L183.4 211.9 L184.9 211.7 L186.4 211.5 L187.9 211.2 L189.4 211.0 L190.9 210.8 L192.4 210.6 L193.9 210.3 L195.4 210.1 L196.9 209.9 L198.4 209.6 L199.9 209.4 L201.4 209.1 L202.9 208.9 L204.4 208.6 L205.9 208.3 L207.4 208.0 L208.9 207.8 L210.4 207.5 L211.9 207.2 L213.4 206.9 L214.9 206.6 L216.4 206.3 L217.9 206.0 L219.4 205.7 L220.9 205.4 L222.4 205.1 L223.9 204.8 L225.4 204.5 L226.9 204.2 L228.4 203.9 L229.9 203.6 L231.4 203.3 L232.9 203.0 L234.4 202.7 L235.9 202.3 L237.4 202.0 L238.9 201.7 L240.4 201.4 L241.9 201.1 L243.4 200.8 L244.9 200.4 L246.4 200.1 L247.9 199.7 L249.4 199.4 L250.9 199.0 L252.4 198.6 L253.9 198.2 L255.4 197.8 L256.9 197.4 L258.4 197.0 L259.9 196.6 L261.4 196.2 L262.9 195.8 L264.4 195.4 L265.9 194.9 L267.4 194.5 L268.9 194.0 L270.4 193.6 L271.9 193.1 L273.4 192.7 L274.9 192.2 L276.4 191.8 L277.9 191.3 L279.4 190.9 L280.9 190.4 L282.4 190.0 L283.9 189.5 L285.4 189.1 L286.9 188.6 L288.4 188.2 L289.9 187.7 L291.4 187.2 L292.9 186.8 L294.4 186.3 L295.9 185.8 L297.4 185.3 L298.9 184.8 L300.4 184.3 L301.9 183.7 L303.4 183.2 L304.9 182.6 L306.4 182.0 L307.9 181.4 L309.4 180.8 L310.9 180.2 L312.4 179.6 L313.9 179.0 L315.4 178.4 L316.9 177.8 L318.4 177.2 L319.9 176.6 L321.4 176.0 L322.9 175.4 L324.4 174.9 L325.9 174.3 L327.4 173.8 L328.9 173.3 L330.4 172.8 L331.9 172.3 L333.4 171.8 L334.9 171.3 L336.4 170.9 L337.9 170.4 L339.4 170.0 L340.9 169.6 L342.4 169.2 L343.9 168.8 L345.4 168.4 L346.9 168.1 L348.4 167.8 L349.9 167.4 L351.4 167.1 L352.9 166.8 L354.4 166.5 L355.9 166.2 L357.4 166.0 L358.9 165.7 L360.4 165.4 L361.9 165.2 L363.4 164.9 L364.9 164.6 L366.4 164.4 L367.9 164.1 L369.4 163.9 L370.9 163.6 L372.4 163.4 L373.9 163.1 L375.4 162.9 L376.9 162.7 L378.4 162.4 L379.9 162.2 L381.4 162.0 L382.9 161.8 L384.4 161.6 L385.9 161.4 L387.4 161.2 L388.9 161.1 L390.4 160.9 L391.9 160.8 L393.4 160.6 L394.9 160.5 L396.4 160.4 L397.9 160.3 L399.4 160.2 L400.9 160.1 L402.4 160.0 L403.9 160.0 L405.4 159.9 L406.9 159.9 L408.4 159.8 L409.9 159.8 L411.4 159.8 L412.9 159.8 L414.4 159.8 L415.9 159.8 L417.4 159.9 L418.9 159.9 L420.4 160.0 L421.9 160.1 L423.4 160.2 L424.9 160.3 L426.4 160.5 L427.9 160.6 L429.4 160.8 L430.9 161.0 L432.4 161.2 L433.9 161.5 L435.4 161.8 L436.9 162.1 L438.4 162.4 L439.9 162.7 L441.4 163.1 L442.9 163.5 L444.4 163.9 L445.9 164.3 L447.4 164.7 L448.9 165.2 L450.4 165.6 L451.9 166.1 L453.4 166.6 L454.9 167.1 L456.4 167.6 L457.9 168.2 L459.4 168.7 L460.9 169.2 L462.4 169.8 L463.9 170.3 L465.4 170.9 L466.9 171.4 L468.4 172.0 L469.9 172.6 L471.4 173.1 L472.9 173.7 L474.4 174.3 L475.9 174.9 L477.4 175.5 L478.9 176.1 L480.4 176.8 L481.9 177.4 L483.4 178.1 L484.9 178.7 L486.4 179.4 L487.9 180.1 L489.4 180.9 L490.9 181.6 L492.4 182.4 L493.9 183.1 L495.4 183.9 L496.9 184.7 L498.4 185.5 L499.9 186.4 L501.4 187.2 L502.9 188.0 L504.4 188.9 L505.9 189.7 L507.4 190.6 L508.9 191.4 L510.4 192.3 L511.9 193.1 L513.4 194.0 L514.9 194.8 L516.4 195.7 L517.9 196.5 L519.4 197.3 L520.9 198.2 L522.4 199.0 L523.9 199.8 L525.4 200.7 L526.9 201.5 L528.4 202.3 L529.9 203.1 L531.4 203.9 L532.9 204.6 L534.4 205.4 L535.9 206.2 L537.4 207.0 L538.9 207.7 L540.4 208.4 L541.9 209.2 L543.4 209.9 L544.9 210.6 L546.4 211.2 L547.9 211.9 L549.4 212.5 L550.9 213.2 L552.4 213.8 L553.9 214.3 L555.4 214.9 L556.9 215.4 L558.4 215.9 L559.9 216.4 L561.4 216.9 L562.9 217.4 L564.4 217.8 L565.9 218.2 L567.4 218.6 L568.9 218.9 L570.4 219.3 L571.9 219.6 L573.4 219.9 L574.9 220.2 L576.4 220.4 L577.9 220.6 L579.4 220.9 L580.9 221.1 L582.4 221.2 L583.9 221.4 L585.4 221.5 L586.9 221.6 L588.4 221.7 L589.9 221.8 L591.4 221.9 L592.9 221.9 L594.4 222.0 L595.9 222.0 L597.4 222.1 L598.9 222.1 L600.4 222.1 L601.9 222.2 L603.4 222.2 L604.9 222.2 L606.4 222.2 L607.9 222.2 L609.4 222.2 L610.9 222.2 L612.4 222.2 L613.9 222.3 L615.4 222.3 L616.9 222.3 L618.4 222.3 L619.9 222.3 L621.4 222.3 L622.9 222.3 L624.4 222.3 L625.9 222.3 L627.4 222.3 L628.9 222.3 L629.6 222.3" fill="none" stroke="#203f72" stroke-width="1.9" stroke-linejoin="round" stroke-linecap="round"/>
<path d="M300.0 186.3 L301.5 186.4 L303.0 186.5 L304.5 186.7 L306.0 186.8 L307.5 187.0 L309.0 187.3 L310.5 187.5 L312.0 187.8 L313.5 188.1 L315.0 188.4 L316.5 188.7 L318.0 189.1 L319.5 189.5 L321.0 189.9 L322.5 190.4 L324.0 190.8 L325.5 191.3 L327.0 191.9 L328.5 192.4 L330.0 193.0 L331.5 193.5 L333.0 194.1 L334.5 194.7 L336.0 195.4 L337.5 196.0 L339.0 196.7 L340.5 197.4 L342.0 198.0 L343.5 198.7 L345.0 199.5 L346.5 200.2 L348.0 200.9 L349.5 201.7 L351.0 202.4 L352.5 203.2 L354.0 204.0 L355.5 204.8 L357.0 205.6 L358.5 206.5 L360.0 207.3 L361.5 208.2 L363.0 209.1 L364.5 210.1 L366.0 211.1 L367.5 212.1 L369.0 213.1 L370.5 214.1 L372.0 215.2 L373.5 216.3 L375.0 217.4 L376.5 218.6 L378.0 219.7 L379.5 220.9 L381.0 222.1 L382.5 223.2 L384.0 224.5 L385.5 225.7 L387.0 226.9 L388.5 228.2 L390.0 229.4 L391.5 230.7 L393.0 232.0 L394.5 233.3 L396.0 234.6 L397.5 235.9 L399.0 237.2 L400.5 238.5 L402.0 239.8 L403.5 241.1 L405.0 242.5 L406.5 243.8 L408.0 245.1 L409.5 246.4 L411.0 247.7 L412.5 249.0 L414.0 250.2 L415.5 251.5 L417.0 252.7 L418.5 253.9 L420.0 255.0 L421.5 256.2 L423.0 257.3 L424.5 258.3 L426.0 259.4 L427.5 260.4 L429.0 261.4 L430.5 262.3 L432.0 263.2 L433.5 264.1 L435.0 264.9 L436.5 265.7 L438.0 266.4 L439.5 267.1 L441.0 267.8 L442.5 268.4 L444.0 269.0 L445.5 269.5 L447.0 270.0 L448.5 270.5 L450.0 270.9 L451.5 271.3 L453.0 271.6 L454.5 271.9 L456.0 272.2 L457.5 272.4 L459.0 272.6 L460.5 272.7 L462.0 272.9 L463.5 272.9 L465.0 273.0 L466.5 273.0 L468.0 272.9 L469.5 272.8 L471.0 272.7 L472.5 272.6 L474.0 272.4 L475.5 272.1 L477.0 271.8 L478.5 271.5 L480.0 271.1 L481.5 270.7 L483.0 270.2 L484.5 269.7 L486.0 269.2 L487.5 268.6 L489.0 268.1 L490.5 267.5 L492.0 266.9 L493.5 266.3 L495.0 265.7 L496.5 265.0 L498.0 264.4 L499.5 263.8 L501.0 263.1 L502.5 262.4 L504.0 261.8 L505.5 261.1 L507.0 260.4 L508.5 259.7 L510.0 258.9 L511.5 258.2 L513.0 257.4 L514.5 256.6 L516.0 255.8 L517.5 255.0 L519.0 254.1 L520.5 253.3 L522.0 252.4 L523.5 251.6 L525.0 250.7 L526.5 249.8 L528.0 248.9 L529.5 248.0 L531.0 247.1 L532.5 246.2 L534.0 245.3 L535.5 244.4 L537.0 243.5 L538.5 242.6 L540.0 241.8 L541.5 240.9 L543.0 240.0 L544.5 239.1 L546.0 238.3 L547.5 237.5 L549.0 236.6 L550.5 235.8 L552.0 235.0 L553.5 234.2 L555.0 233.5 L556.5 232.7 L558.0 232.0 L559.5 231.3 L561.0 230.6 L562.5 229.9 L564.0 229.3 L565.5 228.7 L567.0 228.1 L568.5 227.5 L570.0 227.0 L571.5 226.5 L573.0 226.1 L574.5 225.6 L576.0 225.2 L577.5 224.8 L579.0 224.5 L580.5 224.2 L582.0 223.9 L583.5 223.7 L585.0 223.4 L586.5 223.2 L588.0 223.1 L589.5 222.9 L591.0 222.8 L592.5 222.7 L594.0 222.6 L595.5 222.5 L597.0 222.5 L598.5 222.4 L600.0 222.4 L601.5 222.4 L603.0 222.4 L604.5 222.3 L606.0 222.3 L607.5 222.3 L609.0 222.3 L610.5 222.3 L612.0 222.3 L613.5 222.3 L615.0 222.3 L616.5 222.3 L618.0 222.3 L619.5 222.3 L621.0 222.3 L622.5 222.3 L624.0 222.3 L625.5 222.3 L627.0 222.3 L628.5 222.3 L629.6 222.3" fill="none" stroke="#1c7d3a" stroke-width="1.9" stroke-linejoin="round" stroke-linecap="round"/>
<path d="M300.0 185.9 L301.5 185.9 L303.0 186.0 L304.5 186.0 L306.0 186.1 L307.5 186.2 L309.0 186.3 L310.5 186.4 L312.0 186.5 L313.5 186.7 L315.0 186.9 L316.5 187.1 L318.0 187.3 L319.5 187.5 L321.0 187.7 L322.5 188.0 L324.0 188.3 L325.5 188.6 L327.0 188.9 L328.5 189.3 L330.0 189.6 L331.5 190.0 L333.0 190.4 L334.5 190.8 L336.0 191.2 L337.5 191.6 L339.0 192.1 L340.5 192.5 L342.0 193.0 L343.5 193.5 L345.0 193.9 L346.5 194.4 L348.0 195.0 L349.5 195.5 L351.0 196.0 L352.5 196.6 L354.0 197.1 L355.5 197.7 L357.0 198.3 L358.5 198.9 L360.0 199.6 L361.5 200.2 L363.0 200.8 L364.5 201.5 L366.0 202.2 L367.5 202.9 L369.0 203.6 L370.5 204.3 L372.0 205.1 L373.5 205.8 L375.0 206.6 L376.5 207.4 L378.0 208.2 L379.5 209.0 L381.0 209.8 L382.5 210.6 L384.0 211.4 L385.5 212.3 L387.0 213.1 L388.5 214.0 L390.0 214.9 L391.5 215.7 L393.0 216.6 L394.5 217.5 L396.0 218.4 L397.5 219.3 L399.0 220.2 L400.5 221.0 L402.0 221.9 L403.5 222.8 L405.0 223.7 L406.5 224.6 L408.0 225.4 L409.5 226.3 L411.0 227.2 L412.5 228.0 L414.0 228.8 L415.5 229.6 L417.0 230.4 L418.5 231.2 L420.0 232.0 L421.5 232.7 L423.0 233.4 L424.5 234.1 L426.0 234.8 L427.5 235.5 L429.0 236.2 L430.5 236.8 L432.0 237.4 L433.5 238.0 L435.0 238.6 L436.5 239.1 L438.0 239.6 L439.5 240.1 L441.0 240.6 L442.5 241.0 L444.0 241.5 L445.5 241.9 L447.0 242.2 L448.5 242.6 L450.0 242.9 L451.5 243.2 L453.0 243.5 L454.5 243.7 L456.0 243.9 L457.5 244.1 L459.0 244.3 L460.5 244.5 L462.0 244.6 L463.5 244.7 L465.0 244.7 L466.5 244.8 L468.0 244.8 L469.5 244.8 L471.0 244.8 L472.5 244.8 L474.0 244.7 L475.5 244.7 L477.0 244.6 L478.5 244.4 L480.0 244.3 L481.5 244.1 L483.0 243.9 L484.5 243.7 L486.0 243.5 L487.5 243.3 L489.0 243.1 L490.5 242.8 L492.0 242.6 L493.5 242.3 L495.0 242.0 L496.5 241.8 L498.0 241.5 L499.5 241.2 L501.0 240.9 L502.5 240.6 L504.0 240.3 L505.5 240.0 L507.0 239.7 L508.5 239.3 L510.0 239.0 L511.5 238.7 L513.0 238.3 L514.5 238.0 L516.0 237.6 L517.5 237.2 L519.0 236.9 L520.5 236.5 L522.0 236.1 L523.5 235.7 L525.0 235.3 L526.5 235.0 L528.0 234.6 L529.5 234.2 L531.0 233.8 L532.5 233.4 L534.0 233.0 L535.5 232.6 L537.0 232.2 L538.5 231.8 L540.0 231.5 L541.5 231.1 L543.0 230.7 L544.5 230.3 L546.0 230.0 L547.5 229.6 L549.0 229.2 L550.5 228.9 L552.0 228.5 L553.5 228.2 L555.0 227.9 L556.5 227.6 L558.0 227.3 L559.5 227.0 L561.0 226.7 L562.5 226.4 L564.0 226.1 L565.5 225.8 L567.0 225.6 L568.5 225.3 L570.0 225.1 L571.5 224.8 L573.0 224.6 L574.5 224.4 L576.0 224.2 L577.5 224.0 L579.0 223.8 L580.5 223.6 L582.0 223.4 L583.5 223.3 L585.0 223.1 L586.5 223.0 L588.0 222.9 L589.5 222.8 L591.0 222.7 L592.5 222.6 L594.0 222.6 L595.5 222.5 L597.0 222.5 L598.5 222.4 L600.0 222.4 L601.5 222.4 L603.0 222.4 L604.5 222.3 L606.0 222.3 L607.5 222.3 L609.0 222.3 L610.5 222.3 L612.0 222.3 L613.5 222.3 L615.0 222.3 L616.5 222.3 L618.0 222.3 L619.5 222.3 L621.0 222.3 L622.5 222.3 L624.0 222.3 L625.5 222.3 L627.0 222.3 L628.5 222.3 L629.6 222.3" fill="none" stroke="#dc22c4" stroke-width="1.9" stroke-linejoin="round" stroke-linecap="round"/>
<path d="M54.4 219.0 L55.9 219.0 L57.4 218.9 L58.9 218.9 L60.4 218.8 L61.9 218.7 L63.4 218.7 L64.9 218.6 L66.4 218.5 L67.9 218.4 L69.4 218.3 L70.9 218.2 L72.4 218.1 L73.9 218.0 L75.4 217.9 L76.9 217.8 L78.4 217.6 L79.9 217.5 L81.4 217.4 L82.9 217.3 L84.4 217.1 L85.9 217.0 L87.4 216.9 L88.9 216.7 L90.4 216.6 L91.9 216.4 L93.4 216.3 L94.9 216.1 L96.4 215.9 L97.9 215.8 L99.4 215.6 L100.9 215.4 L102.4 215.2 L103.9 215.1 L105.4 214.9 L106.9 214.7 L108.4 214.5 L109.9 214.3 L111.4 214.2 L112.9 214.0 L114.4 213.8 L115.9 213.6 L117.4 213.4 L118.9 213.2 L120.4 213.0 L121.9 212.9 L123.4 212.7 L124.9 212.5 L126.4 212.3 L127.9 212.1 L129.4 211.9 L130.9 211.7 L132.4 211.6 L133.9 211.4 L135.4 211.2 L136.9 211.0 L138.4 210.8 L139.9 210.6 L141.4 210.3 L142.9 210.1 L144.4 209.9 L145.9 209.7 L147.4 209.5 L148.9 209.3 L150.4 209.1 L151.9 208.8 L153.4 208.6 L154.9 208.4 L156.4 208.1 L157.9 207.9 L159.4 207.6 L160.9 207.4 L162.4 207.1 L163.9 206.9 L165.4 206.6 L166.9 206.4 L168.4 206.1 L169.9 205.8 L171.4 205.6 L172.9 205.3 L174.4 205.0 L175.9 204.7 L177.4 204.4 L178.9 204.1 L180.4 203.8 L181.9 203.5 L183.4 203.2 L184.9 202.9 L186.4 202.6 L187.9 202.3 L189.4 202.0 L190.9 201.7 L192.4 201.4 L193.9 201.1 L195.4 200.8 L196.9 200.5 L198.4 200.2 L199.9 199.9 L201.4 199.6 L202.9 199.4 L204.4 199.1 L205.9 198.8 L207.4 198.5 L208.9 198.2 L210.4 197.9 L211.9 197.6 L213.4 197.4 L214.9 197.1 L216.4 196.8 L217.9 196.5 L219.4 196.2 L220.9 195.9 L222.4 195.6 L223.9 195.3 L225.4 195.0 L226.9 194.7 L228.4 194.4 L229.9 194.1 L231.4 193.8 L232.9 193.5 L234.4 193.2 L235.9 192.9 L237.4 192.6 L238.9 192.3 L240.4 192.0 L241.9 191.8 L243.4 191.5 L244.9 191.2 L246.4 191.0 L247.9 190.7 L249.4 190.5 L250.9 190.3 L252.4 190.0 L253.9 189.8 L255.4 189.6 L256.9 189.4 L258.4 189.2 L259.9 189.0 L261.4 188.8 L262.9 188.6 L264.4 188.4 L265.9 188.3 L267.4 188.1 L268.9 187.9 L270.4 187.8 L271.9 187.6 L273.4 187.5 L274.9 187.3 L276.4 187.2 L277.9 187.0 L279.4 186.9 L280.9 186.8 L282.4 186.7 L283.9 186.6 L285.4 186.5 L286.9 186.4 L288.4 186.3 L289.9 186.2 L291.4 186.1 L292.9 186.0 L294.4 186.0 L295.9 186.0 L297.4 185.9 L298.9 185.9 L300.4 185.9 L301.9 185.9 L303.4 185.9 L304.9 185.9 L306.4 185.9 L307.9 185.9 L309.4 186.0 L310.0 186.0" fill="none" stroke="#111111" stroke-width="2.4" stroke-linejoin="round" stroke-linecap="round"/>
<path d="M54.4 220.9 L55.9 220.9 L57.4 220.9 L58.9 220.9 L60.4 220.9 L61.9 220.9 L63.4 220.9 L64.9 220.9 L66.4 220.9 L67.9 220.9 L69.4 220.9 L70.9 220.9 L72.4 220.9 L73.9 220.9 L75.4 220.9 L76.9 220.9 L78.4 220.9 L79.9 220.9 L81.4 220.8 L82.9 220.8 L84.4 220.8 L85.9 220.8 L87.4 220.8 L88.9 220.8 L90.4 220.8 L91.9 220.8 L93.4 220.8 L94.9 220.8 L96.4 220.8 L97.9 220.8 L99.4 220.8 L100.9 220.8 L102.4 220.8 L103.9 220.8 L105.4 220.8 L106.9 220.8 L108.4 220.8 L109.9 220.8 L111.4 220.8 L112.9 220.8 L114.4 220.8 L115.9 220.8 L117.4 220.8 L118.9 220.8 L120.4 220.8 L121.9 220.8 L123.4 220.8 L124.9 220.8 L126.4 220.8 L127.9 220.8 L129.4 220.8 L130.9 220.8 L132.4 220.8 L133.9 220.8 L135.4 220.8 L136.9 220.8 L138.4 220.8 L139.9 220.8 L141.4 220.8 L142.9 220.8 L144.4 220.8 L145.9 220.8 L147.4 220.8 L148.9 220.8 L150.4 220.8 L151.9 220.8 L153.4 220.8 L154.9 220.8 L156.4 220.8 L157.9 220.8 L159.4 220.8 L160.9 220.8 L162.4 220.8 L163.9 220.8 L165.4 220.8 L166.9 220.8 L168.4 220.8 L169.9 220.8 L171.4 220.8 L172.9 220.8 L174.4 220.8 L175.9 220.8 L177.4 220.8 L178.9 220.8 L180.4 220.8 L181.9 220.8 L183.4 220.8 L184.9 220.8 L186.4 220.8 L187.9 220.8 L189.4 220.8 L190.9 220.8 L192.4 220.8 L193.9 220.8 L195.4 220.8 L196.9 220.8 L198.4 220.8 L199.9 220.8 L201.4 220.8 L202.9 220.8 L204.4 220.8 L205.9 220.8 L207.4 220.8 L208.9 220.9 L210.4 220.9 L211.9 220.9 L213.4 220.9 L214.9 220.9 L216.4 220.9 L217.9 220.9 L219.4 220.9 L220.9 220.9 L222.4 220.9 L223.9 220.9 L225.4 220.9 L226.9 220.9 L228.4 220.9 L229.9 220.9 L231.4 221.0 L232.9 221.0 L234.4 221.0 L235.9 221.0 L237.4 221.0 L238.9 221.1 L240.4 221.1 L241.9 221.1 L243.4 221.1 L244.9 221.1 L245.0 221.1" fill="none" stroke="#18261c" stroke-width="1.8" stroke-linecap="round"/>
<path d="M577.0 222.1 L578.5 222.1 L580.0 222.1 L581.5 222.1 L583.0 222.2 L584.5 222.2 L586.0 222.2 L587.5 222.2 L589.0 222.2 L590.5 222.2 L592.0 222.2 L593.5 222.2 L595.0 222.2 L596.5 222.2 L598.0 222.2 L599.5 222.2 L600.0 222.2" fill="none" stroke="#111" stroke-width="2.6" stroke-linecap="round"/>
<path d="M598.0 222.3 L599.5 222.3 L601.0 222.3 L602.5 222.3 L604.0 222.3 L605.5 222.3 L607.0 222.4 L608.5 222.4 L610.0 222.4 L611.5 222.4 L613.0 222.4 L614.5 222.4 L616.0 222.4 L617.5 222.4 L619.0 222.4 L620.5 222.4 L622.0 222.4 L623.5 222.5 L625.0 222.5 L626.5 222.5 L628.0 222.5 L628.6 222.5" fill="none" stroke="#111" stroke-width="3.6" stroke-linecap="round"/>
<g stroke="#111" stroke-width="1.9" fill="none">
<path d="M54.4 61.0 V302.8 H629.6"/>
<path d="M50.9 61.0 h7"/>
<path d="M50.9 141.6 h7"/>
<path d="M50.9 221.5 h7"/>
<path d="M50.9 302.8 h7"/>
<path d="M54.4 299.3 v7.0"/>
<path d="M136.6 299.3 v7.0"/>
<path d="M218.7 299.3 v7.0"/>
<path d="M300.9 299.3 v7.0"/>
<path d="M383.1 299.3 v7.0"/>
<path d="M465.2 299.3 v7.0"/>
<path d="M547.4 299.3 v7.0"/>
<path d="M629.6 299.3 v7.0"/>
</g>
<text x="44.7" y="65.2" font-size="12" text-anchor="end">30</text>
<text x="44.7" y="145.8" font-size="12" text-anchor="end">15</text>
<text x="44.7" y="225.7" font-size="12" text-anchor="end">0</text>
<text x="44.7" y="307.0" font-size="12" text-anchor="end">-15</text>
<text x="54.4" y="321.4" font-size="12" text-anchor="middle">75.5</text>
<text x="136.6" y="321.4" font-size="12" text-anchor="middle">76.0</text>
<text x="218.7" y="321.4" font-size="12" text-anchor="middle">76.5</text>
<text x="300.9" y="321.4" font-size="12" text-anchor="middle">77.0</text>
<text x="383.1" y="321.4" font-size="12" text-anchor="middle">77.5</text>
<text x="465.2" y="321.4" font-size="12" text-anchor="middle">78.0</text>
<text x="547.4" y="321.4" font-size="12" text-anchor="middle">78.5</text>
<text x="629.6" y="321.4" font-size="12" text-anchor="middle">79.0</text>
<text x="338.3" y="339.6" font-size="12" text-anchor="middle">Temperature (°C)</text>
<text transform="translate(23.6 182.2) rotate(-90)" font-size="13" text-anchor="middle">Relative signal difference</text>
<path d="M495.6 16.6 H516.0" stroke="#203f72" stroke-width="2.2"/>
<text x="517.8" y="20.9" font-size="11.7"><tspan font-style="italic">T. spiralis</tspan>_ISS3</text>
<path d="M495.6 32.2 H516.0" stroke="#b8141a" stroke-width="2.2"/>
<text x="517.8" y="36.5" font-size="11.7"><tspan font-style="italic">T. nativa</tspan>_ISS10</text>
<path d="M495.6 47.8 H516.0" stroke="#d4722c" stroke-width="2.2"/>
<text x="517.8" y="52.1" font-size="11.7"><tspan font-style="italic">T. britovi</tspan>_ISS2</text>
<path d="M495.6 63.4 H516.0" stroke="#2a9ad2" stroke-width="2.2"/>
<text x="517.8" y="67.7" font-size="11.7"><tspan font-style="italic">T. pseudospiralis</tspan>_ISS13/ISS588</text>
<path d="M495.6 79.0 H516.0" stroke="#8dc850" stroke-width="2.2"/>
<text x="517.8" y="83.3" font-size="11.7"><tspan font-style="italic">T. nelsoni</tspan>_ISS37</text>
<path d="M495.6 94.6 H516.0" stroke="#f6b81c" stroke-width="2.2"/>
<text x="517.8" y="98.9" font-size="11.7"><tspan font-style="italic">T. murrelli</tspan>_ISS35</text>
<path d="M495.6 110.2 H516.0" stroke="#dc22c4" stroke-width="2.2"/>
<text x="517.8" y="114.5" font-size="11.7"><tspan font-style="italic">T. papuae</tspan>_ISS572</text>
<path d="M495.6 125.8 H516.0" stroke="#1c7d3a" stroke-width="2.2"/>
<text x="517.8" y="130.1" font-size="11.7"><tspan font-style="italic">T. zimbabwensis</tspan>_ISS1029</text>
<path d="M150.0 508.6 L151.5 508.6 L153.0 508.4 L154.5 508.3 L156.0 508.1 L157.5 507.8 L159.0 507.5 L160.5 507.2 L162.0 506.8 L163.5 506.3 L165.0 505.8 L166.5 505.2 L168.0 504.4 L169.5 503.4 L171.0 502.0 L172.5 500.2 L174.0 498.0 L175.5 495.4 L177.0 492.7 L178.5 489.8 L180.0 486.8 L181.5 483.6 L183.0 480.2 L184.5 476.5 L186.0 472.7 L187.5 469.2 L189.0 466.0 L190.5 463.3 L192.0 461.2 L193.5 459.5 L195.0 458.3 L196.5 457.6 L198.0 457.2 L199.5 457.2 L201.0 457.6 L202.5 458.3 L204.0 459.2 L205.5 460.3 L207.0 461.6 L208.5 463.2 L210.0 465.1 L211.5 467.3 L213.0 469.7 L214.5 472.2 L216.0 474.7 L217.5 477.2 L219.0 479.6 L220.5 481.8 L222.0 483.9 L223.5 485.7 L225.0 487.5 L226.5 489.1 L228.0 490.6 L229.5 492.1 L231.0 493.6 L232.5 495.1 L234.0 496.6 L235.5 498.0 L237.0 499.4 L238.5 500.6 L240.0 501.8 L241.5 502.9 L243.0 503.8 L244.5 504.5 L246.0 505.2 L247.5 505.7 L249.0 506.2 L250.5 506.6 L252.0 507.0 L253.5 507.3 L255.0 507.6 L256.5 507.8 L258.0 508.0 L259.5 508.2 L261.0 508.3 L262.5 508.4 L264.0 508.5 L265.5 508.6 L267.0 508.6 L268.0 508.7 L265.0 508.7 L264.0 508.6 L262.5 508.5 L261.0 508.4 L259.5 508.3 L258.0 508.2 L256.5 508.1 L255.0 508.0 L253.5 507.9 L252.0 507.8 L250.5 507.8 L249.0 507.7 L247.5 507.7 L246.0 507.6 L244.5 507.6 L243.0 507.6 L241.5 507.6 L240.0 507.5 L238.5 507.5 L237.0 507.5 L235.5 507.5 L234.0 507.6 L232.5 507.7 L231.0 508.0 L229.5 508.6 L228.0 509.5 L226.5 510.9 L225.0 512.6 L223.5 514.6 L222.0 517.1 L220.5 519.8 L219.0 522.6 L217.5 525.4 L216.0 528.0 L214.5 530.3 L213.0 532.3 L211.5 534.0 L210.0 535.2 L208.5 536.1 L207.0 536.6 L205.5 536.8 L204.0 536.7 L202.5 536.5 L201.0 536.3 L199.5 535.9 L198.0 535.5 L196.5 534.9 L195.0 534.2 L193.5 533.4 L192.0 532.4 L190.5 531.4 L189.0 530.3 L187.5 529.3 L186.0 528.4 L184.5 527.6 L183.0 526.8 L181.5 526.1 L180.0 525.5 L178.5 524.9 L177.0 524.4 L175.5 523.8 L174.0 523.3 L172.5 522.7 L171.0 522.1 L169.5 521.4 L168.0 520.7 L166.5 520.0 L165.0 519.2 L163.5 518.3 L162.0 517.4 L160.5 516.5 L159.0 515.5 L157.5 514.5 L156.0 513.5 L154.5 512.5 L153.0 511.5 L151.5 510.6 L150.0 509.9Z" fill="#8dc850" fill-opacity="0.2" stroke="none"/>
<path d="M80.0 508.5 L81.5 508.4 L83.0 508.3 L84.5 508.1 L86.0 507.9 L87.5 507.7 L89.0 507.5 L90.5 507.3 L92.0 507.1 L93.5 506.9 L95.0 506.7 L96.5 506.5 L98.0 506.3 L99.5 506.1 L101.0 505.8 L102.5 505.6 L104.0 505.4 L105.5 505.1 L107.0 504.9 L108.5 504.7 L110.0 504.4 L111.5 504.2 L113.0 503.9 L114.5 503.7 L116.0 503.4 L117.5 503.2 L119.0 503.0 L120.5 502.7 L122.0 502.5 L123.5 502.3 L125.0 502.1 L126.5 501.9 L128.0 501.7 L129.5 501.5 L131.0 501.3 L132.5 501.1 L134.0 500.9 L135.5 500.7 L137.0 500.5 L138.5 500.3 L140.0 500.1 L141.5 499.9 L143.0 499.7 L144.5 499.5 L146.0 499.3 L147.5 499.1 L149.0 498.8 L150.5 498.6 L152.0 498.3 L153.5 498.1 L155.0 497.8 L156.5 497.5 L158.0 497.3 L159.5 497.0 L161.0 496.8 L162.5 496.6 L164.0 496.4 L165.5 496.3 L167.0 496.2 L168.5 496.1 L170.0 496.1 L171.5 496.0 L173.0 496.1 L174.5 496.1 L176.0 496.1 L177.5 496.2 L179.0 496.3 L180.5 496.3 L182.0 496.4 L183.5 496.5 L185.0 496.6 L186.5 496.7 L188.0 496.9 L189.5 497.0 L191.0 497.2 L192.5 497.4 L194.0 497.7 L195.5 498.1 L197.0 498.4 L198.5 498.8 L200.0 499.3 L201.5 499.7 L203.0 500.1 L204.5 500.5 L206.0 500.8 L207.5 501.1 L209.0 501.4 L210.5 501.7 L212.0 501.9 L213.5 502.0 L215.0 502.2 L216.5 502.4 L218.0 502.5 L219.5 502.7 L221.0 502.8 L222.5 503.0 L224.0 503.1 L225.5 503.3 L227.0 503.4 L228.5 503.6 L230.0 503.7 L231.5 503.9 L233.0 504.1 L234.5 504.2 L236.0 504.4 L237.5 504.6 L239.0 504.8 L240.5 504.9 L242.0 505.1 L243.5 505.3 L245.0 505.4 L246.5 505.6 L248.0 505.8 L249.5 505.9 L251.0 506.1 L252.5 506.3 L254.0 506.4 L255.5 506.6 L257.0 506.7 L258.5 506.9 L260.0 507.0 L261.5 507.2 L263.0 507.3 L264.5 507.5 L266.0 507.6 L267.5 507.8 L269.0 507.9 L270.5 508.1 L272.0 508.2 L273.5 508.3 L275.0 508.4 L275.0 509.1 L273.5 509.2 L272.0 509.2 L270.5 509.3 L269.0 509.5 L267.5 509.6 L266.0 509.7 L264.5 509.8 L263.0 509.9 L261.5 510.0 L260.0 510.2 L258.5 510.3 L257.0 510.4 L255.5 510.5 L254.0 510.7 L252.5 510.8 L251.0 510.9 L249.5 511.0 L248.0 511.2 L246.5 511.3 L245.0 511.4 L243.5 511.6 L242.0 511.7 L240.5 511.8 L239.0 512.0 L237.5 512.1 L236.0 512.2 L234.5 512.4 L233.0 512.5 L231.5 512.7 L230.0 512.8 L228.5 513.0 L227.0 513.1 L225.5 513.2 L224.0 513.4 L222.5 513.5 L221.0 513.7 L219.5 513.8 L218.0 514.0 L216.5 514.1 L215.0 514.3 L213.5 514.5 L212.0 514.6 L210.5 514.8 L209.0 515.0 L207.5 515.2 L206.0 515.4 L204.5 515.6 L203.0 515.8 L201.5 516.0 L200.0 516.2 L198.5 516.4 L197.0 516.6 L195.5 516.9 L194.0 517.2 L192.5 517.5 L191.0 518.0 L189.5 518.5 L188.0 519.1 L186.5 519.7 L185.0 520.5 L183.5 521.1 L182.0 521.7 L180.5 522.0 L179.0 522.3 L177.5 522.4 L176.0 522.5 L174.5 522.5 L173.0 522.5 L171.5 522.5 L170.0 522.5 L168.5 522.4 L167.0 522.3 L165.5 522.3 L164.0 522.1 L162.5 522.0 L161.0 521.8 L159.5 521.6 L158.0 521.4 L156.5 521.2 L155.0 520.9 L153.5 520.7 L152.0 520.4 L150.5 520.2 L149.0 520.0 L147.5 519.7 L146.0 519.5 L144.5 519.3 L143.0 519.1 L141.5 518.9 L140.0 518.7 L138.5 518.5 L137.0 518.3 L135.5 518.1 L134.0 517.9 L132.5 517.6 L131.0 517.4 L129.5 517.2 L128.0 517.0 L126.5 516.7 L125.0 516.5 L123.5 516.2 L122.0 516.0 L120.5 515.7 L119.0 515.4 L117.5 515.1 L116.0 514.8 L114.5 514.5 L113.0 514.2 L111.5 513.8 L110.0 513.5 L108.5 513.2 L107.0 512.9 L105.5 512.6 L104.0 512.3 L102.5 512.0 L101.0 511.7 L99.5 511.4 L98.0 511.2 L96.5 511.0 L95.0 510.7 L93.5 510.5 L92.0 510.3 L90.5 510.1 L89.0 509.9 L87.5 509.7 L86.0 509.5 L84.5 509.3 L83.0 509.2 L81.5 509.0 L80.0 508.9Z" fill="#d4722c" fill-opacity="0.2" stroke="none"/>
<path d="M185.0 544.5 L186.5 545.2 L188.0 546.3 L189.5 547.8 L191.0 549.5 L192.5 551.5 L194.0 553.8 L195.5 556.5 L197.0 559.5 L198.5 562.8 L200.0 566.4 L201.5 570.2 L203.0 574.3 L204.5 578.5 L206.0 582.8 L207.5 587.3 L209.0 591.9 L210.5 596.5 L212.0 601.1 L213.5 605.7 L215.0 610.2 L216.5 614.7 L218.0 619.1 L219.5 623.4 L221.0 627.6 L222.5 631.6 L224.0 635.4 L225.5 639.0 L227.0 642.4 L228.5 645.4 L230.0 648.1 L231.5 650.2 L233.0 652.0 L234.5 653.3 L236.0 654.3 L237.5 655.1 L239.0 655.8 L240.5 656.3 L242.0 656.8 L243.5 657.1 L245.0 657.4 L246.5 657.6 L248.0 657.8 L249.5 657.9 L251.0 658.0 L252.5 658.1 L254.0 658.2 L255.5 658.3 L257.0 658.4 L258.5 658.4 L260.0 658.4 L261.5 658.4 L263.0 658.4 L264.5 658.3 L266.0 658.1 L267.5 657.9 L269.0 657.6 L270.5 657.3 L272.0 656.9 L273.5 656.5 L275.0 656.0 L276.5 655.5 L278.0 655.0 L279.5 654.5 L281.0 654.0 L282.5 653.5 L284.0 653.0 L285.5 652.5 L287.0 652.0 L288.5 651.5 L290.0 651.0 L291.5 650.6 L293.0 650.1 L294.5 649.7 L296.0 649.2 L297.5 648.8 L299.0 648.3 L300.5 647.9 L302.0 647.5 L303.5 647.1 L305.0 646.7 L306.5 646.3 L308.0 645.9 L309.5 645.6 L311.0 645.2 L312.5 644.8 L314.0 644.4 L315.5 644.0 L317.0 643.6 L318.5 643.1 L320.0 642.6 L321.5 642.1 L323.0 641.5 L324.5 640.9 L326.0 640.2 L327.5 639.4 L329.0 638.5 L330.5 637.7 L332.0 636.8 L333.5 635.9 L335.0 635.1 L336.5 634.2 L338.0 633.4 L339.5 632.6 L341.0 631.8 L342.5 631.1 L344.0 630.3 L345.5 629.5 L347.0 628.7 L348.5 627.9 L350.0 627.1 L351.5 626.2 L353.0 625.4 L354.5 624.5 L356.0 623.5 L357.5 622.5 L359.0 621.4 L360.5 620.3 L362.0 619.1 L363.5 617.8 L365.0 616.5 L366.5 615.1 L368.0 613.8 L369.5 612.5 L371.0 611.2 L372.5 609.9 L374.0 608.6 L375.5 607.3 L377.0 606.0 L378.5 604.7 L380.0 603.4 L381.5 602.1 L383.0 600.7 L384.5 599.4 L386.0 598.1 L387.5 596.7 L389.0 595.3 L390.5 594.0 L392.0 592.7 L393.5 591.4 L395.0 590.2 L396.5 589.0 L398.0 587.9 L399.5 586.9 L401.0 585.8 L402.5 584.7 L404.0 583.6 L405.5 582.3 L407.0 580.8 L408.5 579.2 L410.0 577.2 L411.5 574.9 L413.0 572.4 L414.5 569.6 L416.0 566.7 L417.5 563.8 L419.0 560.8 L420.5 557.7 L422.0 554.4 L423.5 551.1 L425.0 547.6 L426.5 543.9 L428.0 540.2 L429.5 536.6 L431.0 533.2 L432.5 530.0 L434.0 527.1 L435.5 524.4 L437.0 521.8 L438.5 519.1 L440.0 516.3 L441.5 513.5 L443.0 510.7 L444.5 508.2 L446.0 506.0 L447.5 504.1 L449.0 502.6 L450.5 501.3 L452.0 500.3 L453.5 499.6 L455.0 499.1 L456.5 498.9 L458.0 498.9 L459.5 499.1 L461.0 499.5 L462.5 500.0 L464.0 500.5 L465.5 501.1 L467.0 501.7 L468.5 502.4 L470.0 503.0 L471.5 503.6 L473.0 504.2 L474.5 504.9 L476.0 505.5 L477.5 506.2 L479.0 506.8 L480.5 507.3 L482.0 507.8 L483.5 508.1 L485.0 508.3 L486.5 508.5 L488.0 508.6 L489.5 508.7 L491.0 508.7 L492.5 508.7 L494.0 508.8 L495.0 508.8 L508.0 509.0 L507.5 509.0 L506.0 509.1 L504.5 509.1 L503.0 509.2 L501.5 509.3 L500.0 509.4 L498.5 509.5 L497.0 509.7 L495.5 509.9 L494.0 510.2 L492.5 510.5 L491.0 510.8 L489.5 511.2 L488.0 511.7 L486.5 512.2 L485.0 512.8 L483.5 513.5 L482.0 514.4 L480.5 515.3 L479.0 516.3 L477.5 517.4 L476.0 518.5 L474.5 519.6 L473.0 520.7 L471.5 521.9 L470.0 523.0 L468.5 524.1 L467.0 525.2 L465.5 526.4 L464.0 527.5 L462.5 528.7 L461.0 529.9 L459.5 531.1 L458.0 532.4 L456.5 533.7 L455.0 535.1 L453.5 536.5 L452.0 538.1 L450.5 539.7 L449.0 541.4 L447.5 543.2 L446.0 545.1 L444.5 547.3 L443.0 549.5 L441.5 552.0 L440.0 554.6 L438.5 557.4 L437.0 560.3 L435.5 563.3 L434.0 566.4 L432.5 569.6 L431.0 572.8 L429.5 575.9 L428.0 578.9 L426.5 581.7 L425.0 584.2 L423.5 586.6 L422.0 588.8 L420.5 590.8 L419.0 592.7 L417.5 594.5 L416.0 596.1 L414.5 597.7 L413.0 599.1 L411.5 600.4 L410.0 601.5 L408.5 602.6 L407.0 603.5 L405.5 604.4 L404.0 605.3 L402.5 606.2 L401.0 607.2 L399.5 608.3 L398.0 609.4 L396.5 610.6 L395.0 611.9 L393.5 613.2 L392.0 614.6 L390.5 616.0 L389.0 617.4 L387.5 618.7 L386.0 620.1 L384.5 621.3 L383.0 622.6 L381.5 623.8 L380.0 625.0 L378.5 626.2 L377.0 627.4 L375.5 628.6 L374.0 629.7 L372.5 630.9 L371.0 632.0 L369.5 633.2 L368.0 634.3 L366.5 635.4 L365.0 636.5 L363.5 637.6 L362.0 638.6 L360.5 639.6 L359.0 640.5 L357.5 641.4 L356.0 642.2 L354.5 643.0 L353.0 643.7 L351.5 644.4 L350.0 645.1 L348.5 645.8 L347.0 646.4 L345.5 647.0 L344.0 647.6 L342.5 648.3 L341.0 648.9 L339.5 649.5 L338.0 650.1 L336.5 650.8 L335.0 651.4 L333.5 652.1 L332.0 652.8 L330.5 653.5 L329.0 654.2 L327.5 654.8 L326.0 655.4 L324.5 656.0 L323.0 656.5 L321.5 657.0 L320.0 657.4 L318.5 657.8 L317.0 658.2 L315.5 658.6 L314.0 658.9 L312.5 659.2 L311.0 659.5 L309.5 659.8 L308.0 660.2 L306.5 660.5 L305.0 660.8 L303.5 661.2 L302.0 661.5 L300.5 661.9 L299.0 662.3 L297.5 662.8 L296.0 663.2 L294.5 663.7 L293.0 664.1 L291.5 664.5 L290.0 665.0 L288.5 665.3 L287.0 665.7 L285.5 666.1 L284.0 666.5 L282.5 666.8 L281.0 667.2 L279.5 667.5 L278.0 667.9 L276.5 668.2 L275.0 668.5 L273.5 668.8 L272.0 669.0 L270.5 669.3 L269.0 669.5 L267.5 669.6 L266.0 669.8 L264.5 669.9 L263.0 669.9 L261.5 669.9 L260.0 669.9 L258.5 669.9 L257.0 669.9 L255.5 669.8 L254.0 669.7 L252.5 669.6 L251.0 669.5 L249.5 669.4 L248.0 669.3 L246.5 669.1 L245.0 668.9 L243.5 668.6 L242.0 668.2 L240.5 667.7 L239.0 667.1 L237.5 666.3 L236.0 665.5 L234.5 664.5 L233.0 663.2 L231.5 661.7 L230.0 659.9 L228.5 657.7 L227.0 655.1 L225.5 652.1 L224.0 648.9 L222.5 645.4 L221.0 641.7 L219.5 637.8 L218.0 633.7 L216.5 629.5 L215.0 625.1 L213.5 620.7 L212.0 616.1 L210.5 611.5 L209.0 606.9 L207.5 602.2 L206.0 597.6 L204.5 593.0 L203.0 588.4 L201.5 583.8 L200.0 579.4 L198.5 575.0 L197.0 570.8 L195.5 566.8 L194.0 563.1 L192.5 559.8 L191.0 556.8 L189.5 554.1 L188.0 551.9 L186.5 550.2 L185.0 549.0Z" fill="#2a9ad2" fill-opacity="0.22" stroke="none"/>
<path d="M185.0 532.8 L186.5 533.5 L188.0 534.5 L189.5 535.6 L191.0 537.0 L192.5 538.5 L194.0 540.2 L195.5 542.0 L197.0 544.0 L198.5 546.3 L200.0 548.6 L201.5 551.1 L203.0 553.6 L204.5 556.2 L206.0 558.9 L207.5 561.6 L209.0 564.2 L210.5 566.8 L212.0 569.3 L213.5 571.5 L215.0 573.4 L216.5 575.1 L218.0 576.6 L219.5 577.9 L221.0 579.0 L222.5 580.1 L224.0 581.2 L225.5 582.2 L227.0 583.1 L228.5 584.1 L230.0 585.1 L231.5 586.1 L233.0 587.1 L234.5 588.1 L236.0 589.0 L237.5 589.9 L239.0 590.6 L240.5 591.3 L242.0 591.8 L243.5 592.2 L245.0 592.5 L246.5 592.7 L248.0 593.0 L249.5 593.2 L251.0 593.4 L252.5 593.6 L254.0 593.7 L255.5 593.9 L257.0 594.0 L258.5 594.1 L260.0 594.2 L261.5 594.3 L263.0 594.4 L264.5 594.4 L266.0 594.5 L267.5 594.5 L269.0 594.4 L270.5 594.4 L272.0 594.3 L273.5 594.3 L275.0 594.2 L276.5 594.0 L278.0 593.9 L279.5 593.7 L281.0 593.6 L282.5 593.4 L284.0 593.2 L285.5 593.0 L287.0 592.8 L288.5 592.6 L290.0 592.4 L291.5 592.1 L293.0 591.9 L294.5 591.7 L296.0 591.4 L297.5 591.2 L299.0 590.9 L300.5 590.7 L302.0 590.5 L303.5 590.2 L305.0 590.0 L306.5 589.7 L308.0 589.5 L309.5 589.2 L311.0 588.9 L312.5 588.6 L314.0 588.3 L315.5 588.0 L317.0 587.7 L318.5 587.4 L320.0 587.1 L321.5 586.8 L323.0 586.4 L324.5 586.1 L326.0 585.8 L327.5 585.5 L329.0 585.2 L330.5 584.9 L332.0 584.6 L333.5 584.4 L335.0 584.1 L336.5 583.9 L338.0 583.6 L339.5 583.3 L341.0 583.1 L342.5 582.9 L344.0 582.6 L345.5 582.4 L347.0 582.1 L348.5 581.9 L350.0 581.6 L351.5 581.4 L353.0 581.1 L354.5 580.9 L356.0 580.6 L357.5 580.4 L359.0 580.1 L360.5 579.9 L362.0 579.6 L363.5 579.3 L365.0 579.0 L366.5 578.7 L368.0 578.4 L369.5 578.1 L371.0 577.8 L372.5 577.4 L374.0 577.1 L375.5 576.7 L377.0 576.4 L378.5 576.0 L380.0 575.6 L381.5 575.2 L383.0 574.8 L384.5 574.4 L386.0 574.0 L387.5 573.6 L389.0 573.2 L390.5 572.8 L392.0 572.4 L393.5 571.9 L395.0 571.5 L396.5 571.0 L398.0 570.6 L399.5 570.1 L401.0 569.6 L402.5 569.2 L404.0 568.7 L405.5 568.2 L407.0 567.8 L408.5 567.3 L410.0 566.8 L411.5 566.3 L413.0 565.8 L414.5 565.3 L416.0 564.8 L417.5 564.3 L419.0 563.8 L420.5 563.3 L422.0 562.8 L423.5 562.2 L425.0 561.6 L426.5 561.0 L428.0 560.4 L429.5 559.8 L431.0 559.2 L432.5 558.6 L434.0 558.1 L435.5 557.5 L437.0 557.0 L438.5 556.5 L440.0 556.1 L441.5 555.6 L443.0 555.2 L444.5 554.9 L446.0 554.5 L447.5 554.2 L449.0 553.8 L450.5 553.5 L452.0 553.2 L453.5 552.9 L455.0 552.6 L456.5 552.3 L458.0 552.0 L459.5 551.7 L461.0 551.4 L462.5 551.1 L464.0 550.8 L465.5 550.5 L467.0 550.2 L468.5 549.8 L470.0 549.5 L471.5 549.1 L473.0 548.8 L474.5 548.4 L476.0 548.1 L477.5 547.7 L479.0 547.4 L480.5 547.0 L482.0 546.6 L483.5 546.3 L485.0 545.9 L486.5 545.5 L488.0 545.1 L489.5 544.8 L491.0 544.4 L492.5 544.0 L494.0 543.6 L495.5 543.2 L497.0 542.8 L498.5 542.4 L500.0 542.0 L501.5 541.6 L503.0 541.2 L504.5 540.7 L506.0 540.3 L507.5 539.9 L509.0 539.4 L510.5 539.0 L512.0 538.5 L513.5 538.1 L515.0 537.6 L516.5 537.2 L518.0 536.7 L519.5 536.2 L521.0 535.8 L522.5 535.3 L524.0 534.9 L525.5 534.4 L527.0 533.9 L528.5 533.5 L530.0 533.0 L531.5 532.5 L533.0 532.1 L534.5 531.6 L536.0 531.2 L537.5 530.7 L539.0 530.3 L540.5 529.8 L542.0 529.3 L543.5 528.9 L545.0 528.4 L546.5 527.9 L548.0 527.5 L549.5 527.0 L551.0 526.5 L552.5 526.0 L554.0 525.5 L555.5 525.0 L557.0 524.5 L558.5 524.0 L560.0 523.5 L561.5 522.9 L563.0 522.3 L564.5 521.7 L566.0 521.1 L567.5 520.4 L569.0 519.8 L570.5 519.1 L572.0 518.5 L573.5 517.8 L575.0 517.1 L576.5 516.4 L578.0 515.8 L579.5 515.2 L581.0 514.6 L582.5 514.0 L584.0 513.4 L585.5 512.9 L587.0 512.4 L588.5 512.0 L590.0 511.6 L591.5 511.2 L593.0 510.8 L594.5 510.5 L596.0 510.2 L597.5 509.9 L599.0 509.6 L600.5 509.4 L602.0 509.2 L603.5 509.0 L605.0 508.9 L610.0 510.5 L609.5 510.6 L608.0 511.0 L606.5 511.4 L605.0 512.0 L603.5 512.6 L602.0 513.1 L600.5 513.7 L599.0 514.3 L597.5 514.9 L596.0 515.5 L594.5 516.2 L593.0 516.8 L591.5 517.4 L590.0 518.0 L588.5 518.6 L587.0 519.3 L585.5 519.9 L584.0 520.6 L582.5 521.3 L581.0 521.9 L579.5 522.6 L578.0 523.3 L576.5 524.0 L575.0 524.6 L573.5 525.3 L572.0 526.0 L570.5 526.6 L569.0 527.3 L567.5 527.9 L566.0 528.6 L564.5 529.2 L563.0 529.8 L561.5 530.4 L560.0 531.0 L558.5 531.5 L557.0 532.1 L555.5 532.6 L554.0 533.2 L552.5 533.7 L551.0 534.2 L549.5 534.8 L548.0 535.3 L546.5 535.8 L545.0 536.3 L543.5 536.8 L542.0 537.3 L540.5 537.8 L539.0 538.2 L537.5 538.7 L536.0 539.2 L534.5 539.6 L533.0 540.1 L531.5 540.5 L530.0 541.0 L528.5 541.4 L527.0 541.8 L525.5 542.3 L524.0 542.7 L522.5 543.1 L521.0 543.5 L519.5 543.9 L518.0 544.2 L516.5 544.6 L515.0 545.0 L513.5 545.4 L512.0 545.8 L510.5 546.1 L509.0 546.5 L507.5 546.9 L506.0 547.3 L504.5 547.7 L503.0 548.2 L501.5 548.6 L500.0 549.0 L498.5 549.5 L497.0 549.9 L495.5 550.4 L494.0 550.9 L492.5 551.3 L491.0 551.8 L489.5 552.3 L488.0 552.8 L486.5 553.3 L485.0 553.8 L483.5 554.3 L482.0 554.8 L480.5 555.3 L479.0 555.9 L477.5 556.4 L476.0 556.9 L474.5 557.4 L473.0 558.0 L471.5 558.5 L470.0 559.0 L468.5 559.5 L467.0 560.1 L465.5 560.6 L464.0 561.1 L462.5 561.7 L461.0 562.2 L459.5 562.7 L458.0 563.3 L456.5 563.8 L455.0 564.4 L453.5 564.9 L452.0 565.5 L450.5 566.0 L449.0 566.6 L447.5 567.2 L446.0 567.7 L444.5 568.3 L443.0 568.9 L441.5 569.4 L440.0 570.0 L438.5 570.6 L437.0 571.2 L435.5 571.7 L434.0 572.3 L432.5 572.9 L431.0 573.5 L429.5 574.1 L428.0 574.7 L426.5 575.3 L425.0 575.9 L423.5 576.5 L422.0 577.2 L420.5 577.8 L419.0 578.5 L417.5 579.2 L416.0 579.9 L414.5 580.6 L413.0 581.3 L411.5 582.1 L410.0 582.8 L408.5 583.6 L407.0 584.4 L405.5 585.2 L404.0 586.0 L402.5 586.8 L401.0 587.7 L399.5 588.5 L398.0 589.3 L396.5 590.1 L395.0 590.9 L393.5 591.7 L392.0 592.5 L390.5 593.3 L389.0 594.1 L387.5 594.8 L386.0 595.5 L384.5 596.3 L383.0 597.0 L381.5 597.6 L380.0 598.3 L378.5 598.9 L377.0 599.5 L375.5 600.1 L374.0 600.6 L372.5 601.1 L371.0 601.6 L369.5 602.0 L368.0 602.4 L366.5 602.8 L365.0 603.2 L363.5 603.6 L362.0 603.9 L360.5 604.3 L359.0 604.6 L357.5 605.0 L356.0 605.4 L354.5 605.8 L353.0 606.2 L351.5 606.6 L350.0 607.0 L348.5 607.5 L347.0 608.0 L345.5 608.5 L344.0 609.1 L342.5 609.6 L341.0 610.2 L339.5 610.7 L338.0 611.3 L336.5 611.9 L335.0 612.5 L333.5 613.1 L332.0 613.8 L330.5 614.4 L329.0 615.0 L327.5 615.7 L326.0 616.3 L324.5 617.0 L323.0 617.7 L321.5 618.4 L320.0 619.1 L318.5 619.8 L317.0 620.5 L315.5 621.3 L314.0 622.2 L312.5 623.0 L311.0 623.8 L309.5 624.6 L308.0 625.4 L306.5 626.2 L305.0 626.9 L303.5 627.6 L302.0 628.2 L300.5 628.7 L299.0 629.2 L297.5 629.6 L296.0 630.0 L294.5 630.3 L293.0 630.6 L291.5 630.9 L290.0 631.2 L288.5 631.5 L287.0 631.7 L285.5 632.0 L284.0 632.3 L282.5 632.5 L281.0 632.8 L279.5 633.1 L278.0 633.5 L276.5 633.8 L275.0 634.1 L273.5 634.4 L272.0 634.8 L270.5 635.1 L269.0 635.3 L267.5 635.6 L266.0 635.8 L264.5 636.0 L263.0 636.2 L261.5 636.3 L260.0 636.5 L258.5 636.6 L257.0 636.7 L255.5 636.8 L254.0 636.9 L252.5 636.9 L251.0 636.9 L249.5 636.9 L248.0 636.9 L246.5 636.8 L245.0 636.7 L243.5 636.5 L242.0 636.3 L240.5 636.1 L239.0 635.8 L237.5 635.4 L236.0 634.9 L234.5 634.3 L233.0 633.4 L231.5 632.3 L230.0 630.9 L228.5 629.2 L227.0 627.4 L225.5 625.3 L224.0 623.0 L222.5 620.5 L221.0 617.8 L219.5 614.8 L218.0 611.6 L216.5 608.2 L215.0 604.6 L213.5 600.8 L212.0 596.8 L210.5 592.7 L209.0 588.5 L207.5 584.2 L206.0 579.9 L204.5 575.7 L203.0 571.5 L201.5 567.4 L200.0 563.4 L198.5 559.5 L197.0 556.0 L195.5 552.6 L194.0 549.6 L192.5 546.8 L191.0 544.3 L189.5 542.1 L188.0 540.1 L186.5 538.6 L185.0 537.4Z" fill="#1c7d3a" fill-opacity="0.2" stroke="none"/>
<path d="M55.8 507.8 L57.3 507.8 L58.8 507.8 L60.3 507.8 L61.8 507.8 L63.3 507.8 L64.8 507.8 L66.3 507.8 L67.8 507.8 L69.3 507.8 L70.8 507.8 L72.3 507.8 L73.8 507.9 L75.3 507.9 L76.8 507.9 L78.3 507.9 L79.8 507.9 L81.3 507.9 L82.8 508.0 L84.3 508.0 L85.8 508.1 L87.3 508.2 L88.8 508.4 L90.3 508.6 L91.8 508.9 L93.3 509.2 L94.8 509.6 L96.3 510.0 L97.8 510.4 L99.3 510.9 L100.8 511.4 L102.3 511.8 L103.8 512.3 L105.3 512.8 L106.8 513.2 L108.3 513.7 L109.8 514.1 L111.3 514.6 L112.8 515.0 L114.3 515.5 L115.8 515.9 L117.3 516.4 L118.8 516.9 L120.3 517.4 L121.8 517.9 L123.3 518.4 L124.8 518.9 L126.3 519.4 L127.8 519.9 L129.3 520.3 L130.8 520.7 L132.3 521.1 L133.8 521.5 L135.3 521.8 L136.8 522.1 L138.3 522.5 L139.8 522.8 L141.3 523.1 L142.8 523.4 L144.3 523.7 L145.8 524.0 L147.3 524.4 L148.8 524.7 L150.3 525.1 L151.8 525.4 L153.3 525.7 L154.8 526.1 L156.3 526.4 L157.8 526.8 L159.3 527.3 L160.8 527.7 L162.3 528.2 L163.8 528.8 L165.3 529.4 L166.8 530.0 L168.3 530.6 L169.8 531.3 L171.3 532.0 L172.8 532.7 L174.3 533.5 L175.8 534.4 L177.3 535.4 L178.8 536.4 L180.3 537.6 L181.8 538.8 L183.3 540.1 L184.8 541.4 L186.3 542.8 L187.8 544.3 L189.3 545.8 L190.8 547.5 L192.3 549.2 L193.8 551.2 L195.3 553.5 L196.8 556.1 L198.3 559.0 L199.8 562.2 L201.3 565.6 L202.8 569.2 L204.3 573.0 L205.8 576.7 L207.3 580.3 L208.8 584.0 L210.3 587.6 L211.8 591.2 L213.3 594.8 L214.8 598.2 L216.3 601.4 L217.8 604.4 L219.3 607.1 L220.8 609.7 L222.3 612.1 L223.8 614.2 L225.3 616.2 L226.8 618.0 L228.3 619.4 L229.8 620.6 L231.3 621.5 L232.8 622.1 L234.3 622.5 L235.8 622.8 L237.3 622.9 L238.8 622.9 L240.3 622.8 L241.8 622.7 L243.3 622.6 L244.8 622.4 L246.3 622.3 L247.8 622.2 L249.3 622.0 L250.8 621.8 L252.3 621.5 L253.8 621.1 L255.3 620.6 L256.8 620.1 L258.3 619.5 L259.8 618.9 L261.3 618.3 L262.8 617.7 L264.3 617.1 L265.8 616.5 L267.3 615.8 L268.8 615.2 L270.3 614.5 L271.8 613.8 L273.3 613.1 L274.8 612.5 L276.3 611.8 L277.8 611.1 L279.3 610.4 L280.8 609.7 L282.3 608.8 L283.8 607.9 L285.3 607.0 L286.8 606.1 L288.3 605.2 L289.8 604.3 L291.3 603.4 L292.8 602.6 L294.3 601.7 L295.8 600.9 L297.3 600.0 L298.8 599.1 L300.3 598.1 L301.8 596.9 L303.3 595.7 L304.8 594.4 L306.3 593.2 L307.8 592.0 L309.3 590.9 L310.8 589.7 L312.3 588.5 L313.8 587.3 L315.3 586.0 L316.8 584.7 L318.3 583.4 L319.8 582.0 L321.3 580.6 L322.8 579.1 L324.3 577.6 L325.8 576.0 L327.3 574.4 L328.8 572.8 L330.3 571.1 L331.8 569.4 L333.3 567.7 L334.8 565.9 L336.3 564.1 L337.8 562.6 L339.3 561.1 L340.8 559.5 L342.3 557.8 L343.8 556.1 L345.3 554.3 L346.8 552.4 L348.3 550.5 L349.8 548.5 L351.3 546.4 L352.8 544.4 L354.3 542.6 L355.8 540.8 L357.3 539.0 L358.8 537.3 L360.3 535.6 L361.8 533.9 L363.3 532.3 L364.8 530.7 L366.3 529.2 L367.8 527.8 L369.3 526.5 L370.8 525.2 L372.3 523.8 L373.8 522.6 L375.3 521.4 L376.8 520.2 L378.3 519.1 L379.8 518.0 L381.3 517.1 L382.8 516.2 L384.3 515.4 L385.8 514.6 L387.3 513.8 L388.8 513.2 L390.3 512.6 L391.8 512.1 L393.3 511.7 L394.8 511.4 L396.3 511.1 L397.8 510.9 L399.3 510.6 L400.8 510.4 L402.3 510.2 L403.8 510.0 L405.3 509.8 L406.8 509.6 L408.3 509.5 L408.3 509.7 L406.8 510.0 L405.3 510.2 L403.8 510.6 L402.3 510.9 L400.8 511.3 L399.3 511.8 L397.8 512.3 L396.3 512.9 L394.8 513.5 L393.3 514.1 L391.8 514.8 L390.3 515.5 L388.8 516.4 L387.3 517.4 L385.8 518.5 L384.3 519.7 L382.8 521.1 L381.3 522.5 L379.8 524.1 L378.3 525.8 L376.8 527.5 L375.3 529.2 L373.8 531.1 L372.3 532.9 L370.8 534.9 L369.3 536.8 L367.8 538.9 L366.3 541.0 L364.8 543.2 L363.3 545.4 L361.8 547.7 L360.3 550.1 L358.8 552.5 L357.3 555.0 L355.8 557.5 L354.3 559.9 L352.8 562.4 L351.3 564.9 L349.8 567.4 L348.3 569.9 L346.8 572.2 L345.3 574.5 L343.8 576.8 L342.3 579.0 L340.8 581.1 L339.3 583.1 L337.8 585.1 L336.3 587.0 L334.8 588.7 L333.3 590.3 L331.8 591.9 L330.3 593.4 L328.8 594.9 L327.3 596.3 L325.8 597.7 L324.3 599.1 L322.8 600.4 L321.3 601.7 L319.8 602.9 L318.3 604.0 L316.8 605.1 L315.3 606.1 L313.8 607.0 L312.3 607.9 L310.8 608.8 L309.3 609.7 L307.8 610.6 L306.3 611.5 L304.8 612.4 L303.3 613.3 L301.8 614.2 L300.3 615.1 L298.8 616.0 L297.3 616.7 L295.8 617.4 L294.3 618.1 L292.8 618.8 L291.3 619.6 L289.8 620.3 L288.3 621.0 L286.8 621.8 L285.3 622.5 L283.8 623.3 L282.3 624.0 L280.8 624.7 L279.3 625.5 L277.8 626.3 L276.3 627.1 L274.8 627.9 L273.3 628.6 L271.8 629.4 L270.3 630.2 L268.8 631.0 L267.3 631.8 L265.8 632.6 L264.3 633.3 L262.8 634.0 L261.3 634.7 L259.8 635.4 L258.3 636.1 L256.8 636.8 L255.3 637.4 L253.8 638.0 L252.3 638.5 L250.8 638.9 L249.3 639.3 L247.8 639.5 L246.3 639.7 L244.8 639.9 L243.3 639.7 L241.8 639.5 L240.3 639.2 L238.8 639.0 L237.3 638.6 L235.8 638.2 L234.3 637.6 L232.8 636.8 L231.3 635.9 L229.8 634.7 L228.3 633.2 L226.8 631.4 L225.3 629.2 L223.8 626.8 L222.3 624.1 L220.8 621.1 L219.3 618.0 L217.8 614.7 L216.3 611.1 L214.8 607.4 L213.3 603.4 L211.8 599.3 L210.3 595.1 L208.8 590.9 L207.3 586.7 L205.8 582.5 L204.3 578.3 L202.8 574.2 L201.3 570.3 L199.8 566.5 L198.3 563.0 L196.8 559.7 L195.3 556.8 L193.8 554.1 L192.3 551.8 L190.8 549.7 L189.3 547.8 L187.8 546.3 L186.3 544.8 L184.8 543.4 L183.3 542.1 L181.8 540.8 L180.3 539.6 L178.8 538.4 L177.3 537.4 L175.8 536.4 L174.3 535.5 L172.8 534.7 L171.3 534.0 L169.8 533.3 L168.3 532.6 L166.8 532.0 L165.3 531.4 L163.8 530.8 L162.3 530.2 L160.8 529.7 L159.3 529.3 L157.8 528.8 L156.3 528.4 L154.8 528.1 L153.3 527.7 L151.8 527.4 L150.3 527.1 L148.8 526.7 L147.3 526.4 L145.8 526.0 L144.3 525.7 L142.8 525.4 L141.3 525.1 L139.8 524.8 L138.3 524.5 L136.8 524.1 L135.3 523.8 L133.8 523.5 L132.3 523.1 L130.8 522.7 L129.3 522.3 L127.8 521.9 L126.3 521.4 L124.8 520.9 L123.3 520.4 L121.8 519.9 L120.3 519.4 L118.8 518.9 L117.3 518.4 L115.8 517.9 L114.3 517.5 L112.8 517.0 L111.3 516.6 L109.8 516.1 L108.3 515.7 L106.8 515.2 L105.3 514.8 L103.8 514.3 L102.3 513.8 L100.8 513.4 L99.3 512.9 L97.8 512.4 L96.3 512.0 L94.8 511.6 L93.3 511.2 L91.8 510.9 L90.3 510.6 L88.8 510.4 L87.3 510.2 L85.8 510.1 L84.3 510.0 L82.8 510.0 L81.3 509.9 L79.8 509.9 L78.3 509.9 L76.8 509.9 L75.3 509.9 L73.8 509.9 L72.3 509.8 L70.8 509.8 L69.3 509.8 L67.8 509.8 L66.3 509.8 L64.8 509.8 L63.3 509.8 L61.8 509.8 L60.3 509.8 L58.8 509.8 L57.3 509.8 L55.8 509.8Z" fill="#dc22c4" fill-opacity="0.22" stroke="none"/>
<path d="M55.8 507.8 L57.3 507.8 L58.8 507.8 L60.3 507.8 L61.8 507.8 L63.3 507.8 L64.8 507.8 L66.3 507.8 L67.8 507.8 L69.3 507.8 L70.8 507.8 L72.3 507.8 L73.8 507.9 L75.3 507.9 L76.8 507.9 L78.3 507.9 L79.8 507.9 L81.3 507.9 L82.8 508.0 L84.3 508.0 L85.8 508.1 L87.3 508.2 L88.8 508.4 L90.3 508.6 L91.8 508.9 L93.3 509.2 L94.8 509.6 L96.3 510.0 L97.8 510.4 L99.3 510.9 L100.8 511.4 L102.3 511.8 L103.8 512.3 L105.3 512.8 L106.8 513.2 L108.3 513.7 L109.8 514.1 L111.3 514.6 L112.8 515.0 L114.3 515.5 L115.8 515.9 L117.3 516.4 L118.8 516.9 L120.3 517.4 L121.8 517.9 L123.3 518.4 L124.8 518.9 L126.3 519.4 L127.8 519.9 L129.3 520.3 L130.8 520.7 L132.3 521.1 L133.8 521.5 L135.3 521.8 L136.8 522.1 L138.3 522.5 L139.8 522.8 L141.3 523.2 L142.8 523.6 L144.3 524.0 L145.8 524.5 L147.3 525.0 L148.8 525.5 L150.3 526.0 L151.8 526.5 L153.3 526.9 L154.8 527.4 L156.3 527.8 L157.8 528.3 L159.3 528.9 L160.8 529.4 L162.3 530.1 L163.8 530.7 L165.3 531.4 L166.8 532.1 L168.3 532.8 L169.8 533.6 L171.3 534.4 L172.8 535.3 L174.3 536.3 L175.8 537.3 L177.3 538.5 L178.8 539.7 L180.3 541.1 L181.8 542.6 L183.3 544.2 L184.8 545.8 L186.3 547.7 L187.8 549.6 L189.3 551.8 L190.8 554.3 L192.3 557.0 L193.8 560.0 L195.3 563.3 L196.8 566.8 L198.3 570.6 L199.8 574.7 L201.3 578.9 L202.8 583.2 L204.3 587.6 L205.8 592.1 L207.3 596.6 L208.8 601.1 L210.3 605.6 L211.8 610.0 L213.3 614.5 L214.8 618.8 L216.3 623.1 L217.8 627.2 L219.3 631.1 L220.8 634.8 L222.3 638.2 L223.8 641.3 L225.3 644.2 L226.8 646.7 L228.3 649.0 L229.8 650.9 L231.3 652.6 L232.8 654.0 L234.3 655.0 L235.8 655.8 L237.3 656.4 L238.8 656.8 L240.3 657.0 L241.8 657.0 L243.3 656.9 L244.8 656.6 L246.3 656.2 L247.8 655.7 L249.3 655.0 L250.8 654.2 L252.3 653.3 L253.8 652.2 L255.3 651.0 L256.8 649.7 L258.3 648.3 L259.8 646.8 L261.3 645.2 L262.8 643.6 L264.3 641.9 L265.8 640.1 L267.3 638.3 L268.8 636.4 L270.3 634.6 L271.8 632.7 L273.3 630.7 L274.8 628.7 L276.3 626.7 L277.8 624.6 L279.3 622.4 L280.8 620.2 L282.3 618.0 L283.8 615.8 L285.3 613.5 L286.8 611.2 L288.3 608.8 L289.8 606.4 L291.3 604.0 L292.8 601.5 L294.3 599.0 L295.8 596.4 L297.3 593.6 L298.8 590.5 L300.3 587.1 L301.8 583.5 L303.3 579.8 L304.8 576.1 L306.3 572.7 L307.8 569.3 L309.3 566.1 L310.8 563.0 L312.3 559.9 L313.8 556.9 L315.3 553.9 L316.8 550.9 L318.3 548.0 L319.8 545.1 L321.3 542.4 L322.8 539.9 L324.3 537.6 L325.8 535.6 L327.3 533.9 L328.8 532.2 L330.3 530.6 L331.8 529.0 L333.3 527.3 L334.8 525.7 L336.3 524.0 L337.8 522.4 L339.3 521.0 L340.8 519.6 L342.3 518.4 L343.8 517.4 L345.3 516.5 L346.8 515.7 L348.3 515.1 L349.8 514.5 L351.3 513.9 L352.8 513.4 L354.3 513.0 L355.8 512.5 L357.3 512.1 L358.8 511.7 L360.3 511.4 L361.8 511.1 L363.3 510.9 L364.8 510.7 L366.3 510.5 L367.8 510.4 L369.3 510.3 L370.8 510.2 L372.3 510.1 L373.8 510.0 L375.3 509.9 L376.8 509.9 L378.3 509.8 L378.3 510.0 L376.8 510.2 L375.3 510.4 L373.8 510.6 L372.3 510.9 L370.8 511.1 L369.3 511.5 L367.8 511.9 L366.3 512.3 L364.8 512.7 L363.3 513.2 L361.8 513.8 L360.3 514.3 L358.8 515.0 L357.3 515.6 L355.8 516.4 L354.3 517.2 L352.8 518.1 L351.3 519.1 L349.8 520.2 L348.3 521.3 L346.8 522.5 L345.3 523.8 L343.8 525.1 L342.3 526.7 L340.8 528.3 L339.3 530.1 L337.8 532.0 L336.3 534.0 L334.8 536.0 L333.3 538.1 L331.8 540.2 L330.3 542.2 L328.8 544.2 L327.3 546.3 L325.8 548.4 L324.3 550.5 L322.8 552.8 L321.3 555.3 L319.8 557.9 L318.3 560.7 L316.8 563.6 L315.3 566.5 L313.8 569.4 L312.3 572.4 L310.8 575.4 L309.3 578.5 L307.8 581.7 L306.3 584.9 L304.8 588.3 L303.3 591.9 L301.8 595.6 L300.3 599.1 L298.8 602.3 L297.3 605.3 L295.8 607.9 L294.3 610.3 L292.8 612.6 L291.3 614.8 L289.8 617.1 L288.3 619.3 L286.8 621.4 L285.3 623.6 L283.8 625.6 L282.3 627.6 L280.8 629.7 L279.3 631.7 L277.8 633.6 L276.3 635.5 L274.8 637.4 L273.3 639.2 L271.8 640.9 L270.3 642.6 L268.8 644.3 L267.3 646.1 L265.8 647.8 L264.3 649.4 L262.8 651.0 L261.3 652.5 L259.8 654.0 L258.3 655.4 L256.8 656.6 L255.3 657.8 L253.8 658.9 L252.3 659.9 L250.8 660.7 L249.3 661.4 L247.8 661.9 L246.3 662.3 L244.8 662.6 L243.3 662.7 L241.8 662.7 L240.3 662.6 L238.8 662.3 L237.3 661.8 L235.8 661.1 L234.3 660.2 L232.8 659.0 L231.3 657.5 L229.8 655.7 L228.3 653.6 L226.8 651.3 L225.3 648.6 L223.8 645.6 L222.3 642.4 L220.8 638.8 L219.3 635.1 L217.8 631.1 L216.3 626.9 L214.8 622.6 L213.3 618.1 L211.8 613.6 L210.3 609.1 L208.8 604.5 L207.3 600.0 L205.8 595.4 L204.3 590.9 L202.8 586.4 L201.3 581.9 L199.8 577.7 L198.3 573.6 L196.8 569.7 L195.3 566.0 L193.8 562.7 L192.3 559.6 L190.8 556.8 L189.3 554.3 L187.8 552.0 L186.3 550.0 L184.8 548.1 L183.3 546.3 L181.8 544.7 L180.3 543.1 L178.8 541.7 L177.3 540.5 L175.8 539.3 L174.3 538.3 L172.8 537.3 L171.3 536.4 L169.8 535.6 L168.3 534.8 L166.8 534.1 L165.3 533.4 L163.8 532.7 L162.3 532.1 L160.8 531.4 L159.3 530.9 L157.8 530.3 L156.3 529.8 L154.8 529.4 L153.3 528.9 L151.8 528.5 L150.3 528.0 L148.8 527.5 L147.3 527.0 L145.8 526.5 L144.3 526.0 L142.8 525.6 L141.3 525.2 L139.8 524.8 L138.3 524.5 L136.8 524.1 L135.3 523.8 L133.8 523.5 L132.3 523.1 L130.8 522.7 L129.3 522.3 L127.8 521.9 L126.3 521.4 L124.8 520.9 L123.3 520.4 L121.8 519.9 L120.3 519.4 L118.8 518.9 L117.3 518.4 L115.8 517.9 L114.3 517.5 L112.8 517.0 L111.3 516.6 L109.8 516.1 L108.3 515.7 L106.8 515.2 L105.3 514.8 L103.8 514.3 L102.3 513.8 L100.8 513.4 L99.3 512.9 L97.8 512.4 L96.3 512.0 L94.8 511.6 L93.3 511.2 L91.8 510.9 L90.3 510.6 L88.8 510.4 L87.3 510.2 L85.8 510.1 L84.3 510.0 L82.8 510.0 L81.3 509.9 L79.8 509.9 L78.3 509.9 L76.8 509.9 L75.3 509.9 L73.8 509.9 L72.3 509.8 L70.8 509.8 L69.3 509.8 L67.8 509.8 L66.3 509.8 L64.8 509.8 L63.3 509.8 L61.8 509.8 L60.3 509.8 L58.8 509.8 L57.3 509.8 L55.8 509.8Z" fill="#203f72" fill-opacity="0.22" stroke="none"/>
<path d="M55.8 507.8 L57.3 507.8 L58.8 507.8 L60.3 507.8 L61.8 507.8 L63.3 507.8 L64.8 507.8 L66.3 507.8 L67.8 507.8 L69.3 507.8 L70.8 507.8 L72.3 507.8 L73.8 507.9 L75.3 507.9 L76.8 507.9 L78.3 507.9 L79.8 507.9 L81.3 507.9 L82.8 508.0 L84.3 508.0 L85.8 508.1 L87.3 508.2 L88.8 508.4 L90.3 508.6 L91.8 508.9 L93.3 509.2 L94.8 509.6 L96.3 510.0 L97.8 510.4 L99.3 510.9 L100.8 511.4 L102.3 511.8 L103.8 512.3 L105.3 512.8 L106.8 513.2 L108.3 513.7 L109.8 514.1 L111.3 514.6 L112.8 515.0 L114.3 515.5 L115.8 515.9 L117.3 516.4 L118.8 516.9 L120.3 517.4 L121.8 517.9 L123.3 518.4 L124.8 518.9 L126.3 519.4 L127.8 519.9 L129.3 520.3 L130.8 520.7 L132.3 521.1 L133.8 521.5 L135.3 521.8 L136.8 522.2 L138.3 522.5 L139.8 522.7 L141.3 522.9 L142.8 522.9 L144.3 522.9 L145.8 522.8 L147.3 522.7 L148.8 522.6 L150.3 522.5 L151.8 522.5 L153.3 522.6 L154.8 522.7 L156.3 522.8 L157.8 522.9 L159.3 523.0 L160.8 523.1 L162.3 523.1 L163.8 523.2 L165.3 523.3 L166.8 523.5 L168.3 523.6 L169.8 523.7 L171.3 523.9 L172.8 524.1 L174.3 524.4 L175.8 524.7 L177.3 525.0 L178.8 525.5 L180.3 526.0 L181.8 526.5 L183.3 527.1 L184.8 527.7 L186.3 528.4 L187.8 529.2 L189.3 530.1 L190.8 531.2 L192.3 532.4 L193.8 533.8 L195.3 535.4 L196.8 537.3 L198.3 539.3 L199.8 541.4 L201.3 543.6 L202.8 545.9 L204.3 548.1 L205.8 550.3 L207.3 552.5 L208.8 554.7 L210.3 556.9 L211.8 559.3 L213.3 561.7 L214.8 564.0 L216.3 566.1 L217.8 568.1 L219.3 569.8 L220.8 571.1 L222.3 572.0 L223.8 572.4 L225.3 572.4 L226.8 571.7 L228.3 570.6 L229.8 568.9 L231.3 566.7 L232.8 564.0 L234.3 561.0 L235.8 557.7 L237.3 554.3 L238.8 550.9 L240.3 547.5 L241.8 544.3 L243.3 541.2 L244.8 538.2 L246.3 535.3 L247.8 532.6 L249.3 530.1 L250.8 527.8 L252.3 525.7 L253.8 523.8 L255.3 522.1 L256.8 520.6 L258.3 519.3 L259.8 518.1 L261.3 517.0 L262.8 516.1 L264.3 515.3 L265.8 514.6 L267.3 513.9 L268.8 513.4 L270.3 512.9 L271.8 512.4 L273.3 512.0 L274.8 511.7 L276.3 511.3 L277.8 511.1 L279.3 510.9 L280.8 510.7 L282.3 510.5 L283.8 510.4 L283.8 510.7 L282.3 511.1 L280.8 511.5 L279.3 512.0 L277.8 512.5 L276.3 513.1 L274.8 513.7 L273.3 514.4 L271.8 515.1 L270.3 515.8 L268.8 516.6 L267.3 517.5 L265.8 518.4 L264.3 519.4 L262.8 520.5 L261.3 521.8 L259.8 523.1 L258.3 524.6 L256.8 526.2 L255.3 528.0 L253.8 529.9 L252.3 532.0 L250.8 534.4 L249.3 536.9 L247.8 539.6 L246.3 542.5 L244.8 545.5 L243.3 548.7 L241.8 552.0 L240.3 555.5 L238.8 559.1 L237.3 562.8 L235.8 566.5 L234.3 570.0 L232.8 573.3 L231.3 576.2 L229.8 578.7 L228.3 580.6 L226.8 582.1 L225.3 583.0 L223.8 583.3 L222.3 583.0 L220.8 582.0 L219.3 580.5 L217.8 578.7 L216.3 576.6 L214.8 574.3 L213.3 571.9 L211.8 569.5 L210.3 567.0 L208.8 564.4 L207.3 561.8 L205.8 559.2 L204.3 556.5 L202.8 553.9 L201.3 551.3 L199.8 548.7 L198.3 546.2 L196.8 543.7 L195.3 541.5 L193.8 539.5 L192.3 537.7 L190.8 536.1 L189.3 534.6 L187.8 533.3 L186.3 532.1 L184.8 531.0 L183.3 529.9 L181.8 529.0 L180.3 528.1 L178.8 527.5 L177.3 527.0 L175.8 526.7 L174.3 526.4 L172.8 526.1 L171.3 525.9 L169.8 525.7 L168.3 525.6 L166.8 525.5 L165.3 525.3 L163.8 525.2 L162.3 525.1 L160.8 525.1 L159.3 525.0 L157.8 524.9 L156.3 524.8 L154.8 524.7 L153.3 524.6 L151.8 524.5 L150.3 524.5 L148.8 524.6 L147.3 524.7 L145.8 524.8 L144.3 524.9 L142.8 524.9 L141.3 524.9 L139.8 524.7 L138.3 524.5 L136.8 524.2 L135.3 523.8 L133.8 523.5 L132.3 523.1 L130.8 522.7 L129.3 522.3 L127.8 521.9 L126.3 521.4 L124.8 520.9 L123.3 520.4 L121.8 519.9 L120.3 519.4 L118.8 518.9 L117.3 518.4 L115.8 517.9 L114.3 517.5 L112.8 517.0 L111.3 516.6 L109.8 516.1 L108.3 515.7 L106.8 515.2 L105.3 514.8 L103.8 514.3 L102.3 513.8 L100.8 513.4 L99.3 512.9 L97.8 512.4 L96.3 512.0 L94.8 511.6 L93.3 511.2 L91.8 510.9 L90.3 510.6 L88.8 510.4 L87.3 510.2 L85.8 510.1 L84.3 510.0 L82.8 510.0 L81.3 509.9 L79.8 509.9 L78.3 509.9 L76.8 509.9 L75.3 509.9 L73.8 509.9 L72.3 509.8 L70.8 509.8 L69.3 509.8 L67.8 509.8 L66.3 509.8 L64.8 509.8 L63.3 509.8 L61.8 509.8 L60.3 509.8 L58.8 509.8 L57.3 509.8 L55.8 509.8Z" fill="#b8141a" fill-opacity="0.22" stroke="none"/>
<path d="M55.8 506.7 L57.3 506.7 L58.8 506.7 L60.3 506.7 L61.8 506.7 L63.3 506.7 L64.8 506.7 L66.3 506.7 L67.8 506.7 L69.3 506.7 L70.8 506.8 L72.3 506.8 L73.8 506.8 L75.3 506.8 L76.8 506.8 L78.3 506.8 L79.8 506.8 L81.3 506.9 L82.8 506.9 L84.3 506.9 L85.8 507.0 L87.3 507.1 L88.8 507.2 L90.3 507.3 L91.8 507.5 L93.3 507.6 L94.8 507.8 L96.3 508.0 L97.8 508.1 L99.3 508.3 L100.8 508.5 L102.3 508.8 L103.8 509.0 L105.3 509.2 L106.8 509.5 L108.3 509.8 L109.8 510.1 L111.3 510.4 L112.8 510.7 L114.3 511.1 L115.8 511.4 L117.3 511.7 L118.8 512.0 L120.3 512.2 L121.8 512.4 L123.3 512.6 L124.8 512.8 L126.3 512.9 L127.8 513.1 L129.3 513.2 L130.8 513.3 L132.3 513.5 L133.8 513.5 L135.3 513.6 L136.8 513.6 L138.3 513.6 L139.8 513.5 L141.3 513.4 L142.8 513.2 L144.3 513.0 L145.8 512.8 L147.3 512.5 L148.8 512.2 L150.3 511.9 L151.8 511.5 L153.3 511.0 L154.8 510.5 L156.3 510.0 L157.8 509.5 L159.3 508.9 L160.8 508.3 L162.3 507.8 L163.8 507.2 L165.3 506.6 L166.8 505.9 L168.3 505.3 L169.8 504.7 L171.3 504.0 L172.8 503.3 L174.3 502.6 L175.8 502.0 L177.3 501.5 L178.8 501.1 L180.3 500.8 L181.8 500.5 L183.3 500.5 L184.8 500.5 L186.3 500.7 L187.8 501.1 L189.3 501.8 L190.8 502.7 L192.3 504.0 L193.8 505.6 L195.3 507.5 L196.8 509.4 L198.3 511.4 L199.8 513.4 L201.3 515.3 L202.8 517.2 L204.3 519.1 L205.8 520.8 L207.3 522.5 L208.8 524.0 L210.3 525.3 L211.8 526.5 L213.3 527.5 L214.8 528.3 L216.3 528.8 L217.8 529.1 L219.3 529.1 L220.8 529.0 L222.3 528.8 L223.8 528.4 L225.3 527.7 L226.8 526.9 L228.3 525.8 L229.8 524.6 L231.3 523.2 L232.8 521.8 L234.3 520.4 L235.8 519.1 L237.3 517.8 L238.8 516.5 L240.3 515.4 L241.8 514.4 L243.3 513.5 L244.8 512.7 L246.3 512.0 L247.8 511.4 L249.3 510.9 L250.8 510.4 L252.3 510.1 L253.8 509.8 L255.3 509.5 L256.8 509.4 L258.3 509.2 L259.8 509.2 L261.3 509.0 L262.8 508.9 L264.3 508.8 L265.8 508.8 L267.3 508.8 L268.8 508.8 L270.3 508.8 L271.8 508.8 L273.3 508.9 L273.3 509.1 L271.8 509.2 L270.3 509.4 L268.8 509.6 L267.3 509.8 L265.8 510.0 L264.3 510.3 L262.8 510.5 L261.3 510.9 L259.8 511.2 L258.3 511.8 L256.8 512.3 L255.3 512.9 L253.8 513.6 L252.3 514.4 L250.8 515.2 L249.3 516.1 L247.8 517.0 L246.3 518.1 L244.8 519.2 L243.3 520.5 L241.8 521.8 L240.3 523.3 L238.8 524.8 L237.3 526.3 L235.8 527.9 L234.3 529.6 L232.8 531.3 L231.3 533.0 L229.8 534.6 L228.3 536.1 L226.8 537.5 L225.3 538.7 L223.8 539.6 L222.3 540.4 L220.8 540.9 L219.3 541.0 L217.8 540.8 L216.3 540.3 L214.8 539.6 L213.3 538.6 L211.8 537.4 L210.3 536.0 L208.8 534.5 L207.3 532.8 L205.8 530.9 L204.3 529.0 L202.8 526.9 L201.3 524.7 L199.8 522.6 L198.3 520.3 L196.8 518.1 L195.3 515.9 L193.8 513.8 L192.3 512.0 L190.8 510.4 L189.3 509.2 L187.8 508.4 L186.3 507.7 L184.8 507.3 L183.3 507.0 L181.8 506.8 L180.3 506.8 L178.8 507.0 L177.3 507.3 L175.8 507.7 L174.3 508.3 L172.8 508.8 L171.3 509.4 L169.8 510.0 L168.3 510.5 L166.8 511.1 L165.3 511.6 L163.8 512.1 L162.3 512.6 L160.8 513.1 L159.3 513.5 L157.8 514.0 L156.3 514.5 L154.8 514.9 L153.3 515.2 L151.8 515.6 L150.3 515.9 L148.8 516.2 L147.3 516.5 L145.8 516.8 L144.3 517.0 L142.8 517.2 L141.3 517.4 L139.8 517.5 L138.3 517.6 L136.8 517.6 L135.3 517.6 L133.8 517.5 L132.3 517.5 L130.8 517.3 L129.3 517.2 L127.8 517.1 L126.3 516.9 L124.8 516.8 L123.3 516.6 L121.8 516.4 L120.3 516.2 L118.8 516.0 L117.3 515.7 L115.8 515.4 L114.3 515.1 L112.8 514.7 L111.3 514.4 L109.8 514.1 L108.3 513.8 L106.8 513.5 L105.3 513.2 L103.8 513.0 L102.3 512.8 L100.8 512.5 L99.3 512.3 L97.8 512.1 L96.3 512.0 L94.8 511.8 L93.3 511.6 L91.8 511.5 L90.3 511.3 L88.8 511.2 L87.3 511.1 L85.8 511.0 L84.3 510.9 L82.8 510.9 L81.3 510.9 L79.8 510.8 L78.3 510.8 L76.8 510.8 L75.3 510.8 L73.8 510.8 L72.3 510.8 L70.8 510.8 L69.3 510.7 L67.8 510.7 L66.3 510.7 L64.8 510.7 L63.3 510.7 L61.8 510.7 L60.3 510.7 L58.8 510.7 L57.3 510.7 L55.8 510.7Z" fill="#f6b81c" fill-opacity="0.25" stroke="none"/>
<path d="M55.8 508.8 L57.3 508.8 L58.8 508.8 L60.3 508.8 L61.8 508.8 L63.3 508.9 L64.8 508.9 L66.3 508.9 L67.8 508.9 L69.3 508.9 L70.8 508.9 L72.3 508.9 L73.8 508.9 L75.3 508.9 L76.8 508.9 L78.3 508.9 L79.8 508.9 L81.3 508.9 L82.8 509.0 L84.3 509.0 L85.8 509.0 L87.3 509.0 L88.8 509.0 L90.3 509.0 L91.8 509.0 L93.3 509.0 L94.8 509.0 L96.3 509.0 L97.8 509.0 L99.3 509.0 L100.0 509.0" fill="none" stroke="#111" stroke-width="2.2" stroke-linecap="round"/>
<path d="M395.0 508.9 L396.5 508.9 L398.0 508.9 L399.5 508.9 L401.0 508.9 L402.5 508.9 L404.0 508.9 L405.5 508.9 L407.0 508.9 L408.5 508.9 L410.0 508.9 L411.5 508.9 L413.0 508.9 L414.5 508.9 L416.0 508.9 L417.5 508.9 L419.0 508.9 L420.5 508.9 L422.0 508.9 L423.5 508.9 L425.0 508.9 L426.5 508.9 L428.0 508.9 L429.5 508.9 L431.0 508.9 L432.5 508.9 L434.0 508.9 L435.5 508.9 L437.0 508.9 L438.5 508.9 L440.0 508.9 L441.5 508.9 L443.0 508.9 L444.5 508.9 L446.0 508.9 L447.5 508.9 L449.0 508.9 L450.5 508.9 L452.0 508.9 L453.5 508.9 L455.0 508.9 L456.5 508.9 L458.0 508.9 L459.5 508.9 L461.0 508.9 L462.5 508.9 L464.0 508.9 L465.5 508.9 L467.0 508.9 L468.5 508.9 L470.0 508.9 L471.5 508.9 L473.0 508.9 L474.5 508.9 L476.0 508.9 L477.5 508.9 L479.0 508.9 L480.5 508.9 L482.0 508.9 L483.5 508.9 L485.0 508.9 L486.5 508.9 L488.0 508.9 L489.5 508.9 L491.0 508.9 L492.5 508.9 L494.0 508.9 L495.5 508.9 L497.0 508.9 L498.5 508.9 L500.0 508.9 L501.5 508.9 L503.0 508.9 L504.5 508.9 L506.0 508.9 L507.5 508.9 L509.0 508.9 L510.5 508.9 L512.0 508.9 L513.5 508.9 L515.0 508.9 L516.5 508.9 L518.0 508.9 L519.5 508.9 L521.0 508.9 L522.5 508.9 L524.0 508.9 L525.5 508.9 L527.0 508.9 L528.5 508.9 L530.0 508.9 L531.5 508.9 L533.0 508.9 L534.5 508.9 L536.0 508.9 L537.5 508.9 L539.0 508.9 L540.5 508.9 L542.0 508.9 L543.5 508.9 L545.0 508.9 L546.5 508.9 L548.0 508.9 L549.5 508.9 L551.0 508.9 L552.5 508.9 L554.0 508.9 L555.5 508.9 L557.0 508.9 L558.5 508.9 L560.0 508.9 L561.5 508.9 L563.0 508.9 L564.5 508.9 L566.0 508.9 L567.5 508.9 L569.0 508.9 L570.5 508.9 L572.0 508.9 L573.5 508.9 L575.0 508.9 L576.5 508.9 L578.0 508.9 L579.5 508.9 L581.0 508.9 L582.5 508.9 L584.0 508.9 L585.5 508.9 L587.0 508.9 L588.5 508.9 L590.0 508.9 L591.5 508.9 L593.0 508.9 L594.5 508.9 L596.0 508.9 L597.5 508.9 L599.0 508.9 L600.5 508.9 L602.0 508.9 L603.5 508.9 L605.0 508.9 L606.5 508.9 L608.0 508.9 L609.5 508.9 L611.0 508.9 L612.5 508.9 L614.0 508.9 L615.5 508.9 L617.0 508.9 L618.5 508.9 L620.0 508.9 L621.5 508.9 L623.0 508.9 L624.5 508.9 L626.0 508.9 L627.5 508.9 L629.0 508.9 L630.5 508.9 L631.2 508.9" fill="none" stroke="#111" stroke-width="2.2" stroke-linecap="round"/>
<path d="M255.0 508.9 L256.5 508.9 L258.0 508.9 L259.5 508.9 L261.0 508.9 L262.5 508.9 L264.0 508.9 L265.5 508.9 L267.0 508.9 L268.5 508.9 L270.0 508.9 L271.5 508.9 L273.0 508.9 L274.5 508.9 L276.0 508.9 L277.5 508.9 L279.0 508.9 L280.5 508.9 L282.0 508.9 L283.5 508.9 L285.0 508.9 L286.5 508.9 L288.0 508.9 L289.5 508.9 L291.0 508.9 L292.5 508.9 L294.0 508.9 L295.5 508.9 L297.0 508.9 L298.5 508.9 L300.0 508.9 L301.5 508.9 L303.0 508.9 L304.5 508.9 L306.0 508.9 L307.5 508.9 L309.0 508.9 L310.5 508.9 L312.0 508.9 L313.5 508.9 L315.0 508.9 L316.5 508.9 L318.0 508.9 L319.5 508.9 L321.0 508.9 L322.5 508.9 L324.0 508.9 L325.5 508.9 L327.0 508.9 L328.5 508.9 L330.0 508.9 L331.5 508.9 L333.0 508.9 L334.5 508.9 L336.0 508.9 L337.5 508.9 L339.0 508.9 L340.5 508.9 L342.0 508.9 L343.5 508.9 L345.0 508.9 L346.5 508.9 L348.0 508.9 L349.5 508.9 L351.0 508.9 L352.5 508.9 L354.0 508.9 L355.5 508.9 L357.0 508.9 L358.5 508.9 L360.0 508.9 L361.5 508.9 L363.0 508.9 L364.5 508.9 L366.0 508.9 L367.5 508.9 L369.0 508.9 L370.5 508.9 L372.0 508.9 L373.5 508.9 L375.0 508.9 L376.5 508.9 L378.0 508.9 L379.5 508.9 L381.0 508.9 L382.5 508.9 L384.0 508.9 L385.5 508.9 L387.0 508.9 L388.5 508.9 L390.0 508.9 L391.5 508.9 L393.0 508.9 L394.5 508.9 L396.0 508.9" fill="none" stroke="#4a1c10" stroke-width="2.2" stroke-linecap="round"/>
<path d="M55.8 508.7 L57.3 508.7 L58.8 508.7 L60.3 508.7 L61.8 508.7 L63.3 508.7 L64.8 508.7 L66.3 508.7 L67.8 508.7 L69.3 508.7 L70.8 508.7 L72.3 508.7 L73.8 508.7 L75.3 508.7 L76.8 508.7 L78.3 508.7 L79.8 508.7 L81.3 508.7 L82.8 508.7 L84.3 508.7 L85.8 508.7 L87.3 508.6 L88.8 508.5 L90.3 508.4 L91.8 508.1 L93.3 507.8 L94.8 507.4 L96.3 507.0 L97.8 506.6 L99.3 506.3 L100.8 505.9 L102.3 505.6 L103.8 505.3 L105.3 505.1 L106.8 504.8 L108.3 504.6 L109.8 504.5 L111.3 504.4 L112.8 504.3 L114.3 504.3 L115.8 504.4 L117.3 504.7 L118.8 505.0 L120.3 505.3 L121.8 505.8 L123.3 506.3 L124.8 507.0 L126.3 507.6 L127.8 508.4 L129.3 509.1 L130.8 509.9 L132.3 510.7 L133.8 511.4 L135.3 512.2 L136.8 512.9 L138.3 513.5 L139.8 514.1 L141.3 514.6 L142.8 515.1 L144.3 515.6 L145.8 516.0 L147.3 516.3 L148.8 516.7 L150.3 517.0 L151.8 517.3 L153.3 517.5 L154.8 517.8 L156.3 518.1 L157.8 518.3 L159.3 518.5 L160.8 518.7 L162.3 518.8 L163.8 518.8 L165.3 518.8 L166.8 518.7 L168.3 518.5 L169.8 518.2 L171.3 517.8 L172.8 517.2 L174.3 516.4 L175.8 515.4 L177.3 514.2 L178.8 512.8 L180.3 511.3 L181.8 509.7 L183.3 508.0 L184.8 506.3 L186.3 504.7 L187.8 503.2 L189.3 501.9 L190.8 500.7 L192.3 499.7 L193.8 498.8 L195.3 498.2 L196.8 497.7 L198.3 497.4 L199.8 497.2 L201.3 497.1 L202.8 497.1 L204.3 497.2 L205.8 497.4 L207.3 497.7 L208.8 498.0 L210.3 498.2 L211.8 498.5 L213.3 498.8 L214.8 499.0 L216.3 499.2 L217.8 499.3 L219.3 499.5 L220.8 499.6 L222.3 499.7 L223.8 499.7 L225.3 499.8 L226.8 499.9 L228.3 500.0 L229.8 500.2 L231.3 500.5 L232.8 500.8 L234.3 501.2 L235.8 501.7 L237.3 502.2 L238.8 502.7 L240.3 503.3 L241.8 503.9 L243.3 504.5 L244.8 505.0 L246.3 505.5 L247.8 506.0 L249.3 506.4 L250.8 506.7 L252.3 507.0 L253.8 507.3 L255.3 507.6 L256.8 507.8 L258.3 508.0 L259.8 508.2 L261.3 508.4 L262.8 508.5 L264.3 508.6 L265.8 508.6 L267.3 508.6 L268.8 508.7 L270.3 508.7 L271.8 508.7 L273.3 508.7 L274.8 508.8 L276.3 508.8 L277.8 508.8 L279.3 508.8 L280.8 508.8 L282.3 508.8 L283.8 508.8 L285.0 508.8" fill="none" stroke="#8dc850" stroke-width="2.1" stroke-linejoin="round" stroke-linecap="round"/>
<path d="M55.8 508.7 L57.3 508.7 L58.8 508.7 L60.3 508.7 L61.8 508.7 L63.3 508.7 L64.8 508.7 L66.3 508.7 L67.8 508.7 L69.3 508.7 L70.8 508.8 L72.3 508.8 L73.8 508.8 L75.3 508.8 L76.8 508.8 L78.3 508.8 L79.8 508.8 L81.3 508.9 L82.8 508.9 L84.3 508.9 L85.8 509.0 L87.3 509.1 L88.8 509.2 L90.3 509.3 L91.8 509.5 L93.3 509.6 L94.8 509.8 L96.3 510.0 L97.8 510.1 L99.3 510.3 L100.8 510.5 L102.3 510.8 L103.8 511.0 L105.3 511.2 L106.8 511.5 L108.3 511.8 L109.8 512.1 L111.3 512.4 L112.8 512.7 L114.3 513.1 L115.8 513.4 L117.3 513.7 L118.8 514.0 L120.3 514.2 L121.8 514.4 L123.3 514.6 L124.8 514.8 L126.3 514.9 L127.8 515.1 L129.3 515.2 L130.8 515.3 L132.3 515.5 L133.8 515.5 L135.3 515.6 L136.8 515.6 L138.3 515.6 L139.8 515.5 L141.3 515.4 L142.8 515.2 L144.3 515.0 L145.8 514.8 L147.3 514.5 L148.8 514.2 L150.3 513.9 L151.8 513.5 L153.3 513.1 L154.8 512.7 L156.3 512.2 L157.8 511.8 L159.3 511.2 L160.8 510.7 L162.3 510.2 L163.8 509.6 L165.3 509.1 L166.8 508.5 L168.3 507.9 L169.8 507.3 L171.3 506.7 L172.8 506.1 L174.3 505.4 L175.8 504.9 L177.3 504.4 L178.8 504.0 L180.3 503.8 L181.8 503.7 L183.3 503.7 L184.8 503.9 L186.3 504.2 L187.8 504.7 L189.3 505.5 L190.8 506.6 L192.3 508.0 L193.8 509.7 L195.3 511.7 L196.8 513.7 L198.3 515.9 L199.8 518.0 L201.3 520.0 L202.8 522.1 L204.3 524.0 L205.8 525.9 L207.3 527.6 L208.8 529.2 L210.3 530.7 L211.8 531.9 L213.3 533.0 L214.8 533.9 L216.3 534.6 L217.8 535.0 L219.3 535.1 L220.8 535.0 L222.3 534.6 L223.8 534.0 L225.3 533.2 L226.8 532.2 L228.3 531.0 L229.8 529.6 L231.3 528.1 L232.8 526.6 L234.3 525.0 L235.8 523.5 L237.3 522.1 L238.8 520.7 L240.3 519.3 L241.8 518.1 L243.3 517.0 L244.8 516.0 L246.3 515.0 L247.8 514.2 L249.3 513.5 L250.8 512.8 L252.3 512.2 L253.8 511.7 L255.3 511.2 L256.8 510.8 L258.3 510.5 L259.8 510.2 L261.3 509.9 L262.8 509.7 L264.3 509.5 L265.8 509.4 L267.3 509.3 L268.8 509.2 L270.3 509.1 L271.8 509.0 L273.3 509.0 L274.8 508.9 L276.3 508.9 L277.8 508.9 L279.3 508.9 L280.8 508.8 L282.3 508.8 L283.8 508.8 L285.3 508.8 L286.8 508.8 L288.3 508.8 L289.8 508.8 L290.0 508.8" fill="none" stroke="#f6b81c" stroke-width="2.1" stroke-linejoin="round" stroke-linecap="round"/>
<path d="M55.8 508.7 L57.3 508.7 L58.8 508.7 L60.3 508.7 L61.8 508.7 L63.3 508.7 L64.8 508.7 L66.3 508.7 L67.8 508.7 L69.3 508.8 L70.8 508.8 L72.3 508.8 L73.8 508.8 L75.3 508.8 L76.8 508.8 L78.3 508.8 L79.8 508.8 L81.3 508.9 L82.8 508.9 L84.3 508.9 L85.8 508.9 L87.3 509.0 L88.8 509.0 L90.3 509.0 L91.8 509.1 L93.3 509.1 L94.8 509.2 L96.3 509.2 L97.8 509.3 L99.3 509.4 L100.8 509.5 L102.3 509.5 L103.8 509.6 L105.3 509.7 L106.8 509.8 L108.3 509.9 L109.8 510.0 L111.3 510.1 L112.8 510.2 L114.3 510.3 L115.8 510.4 L117.3 510.5 L118.8 510.6 L120.3 510.6 L121.8 510.7 L123.3 510.7 L124.8 510.7 L126.3 510.7 L127.8 510.7 L129.3 510.6 L130.8 510.6 L132.3 510.6 L133.8 510.6 L135.3 510.5 L136.8 510.5 L138.3 510.4 L139.8 510.3 L141.3 510.1 L142.8 509.9 L144.3 509.6 L145.8 509.3 L147.3 509.0 L148.8 508.7 L150.3 508.5 L151.8 508.2 L153.3 507.9 L154.8 507.7 L156.3 507.6 L157.8 507.5 L159.3 507.5 L160.8 507.7 L162.3 507.9 L163.8 508.2 L165.3 508.5 L166.8 508.7 L168.3 508.9 L169.8 509.1 L171.3 509.2 L172.8 509.3 L174.3 509.3 L175.8 509.4 L177.3 509.5 L178.8 509.5 L180.3 509.5 L181.8 509.6 L183.3 509.6 L184.8 509.6 L186.3 509.5 L187.8 509.5 L189.3 509.4 L190.8 509.3 L192.3 509.2 L193.8 509.0 L195.3 508.9 L196.8 508.7 L198.3 508.5 L199.8 508.3 L201.3 508.1 L202.8 507.9 L204.3 507.7 L205.8 507.5 L207.3 507.3 L208.8 507.1 L210.3 507.0 L211.8 506.9 L213.3 506.9 L214.8 506.8 L216.3 506.8 L217.8 506.9 L219.3 506.9 L220.8 506.9 L222.3 506.9 L223.8 507.0 L225.3 507.0 L226.8 507.1 L228.3 507.1 L229.8 507.2 L231.3 507.2 L232.8 507.3 L234.3 507.4 L235.8 507.5 L237.3 507.6 L238.8 507.8 L240.3 507.9 L241.8 508.0 L243.3 508.1 L244.8 508.2 L246.3 508.3 L247.8 508.4 L249.3 508.4 L250.8 508.5 L252.3 508.5 L253.8 508.6 L255.3 508.7 L256.8 508.7 L258.3 508.8 L259.8 508.8 L261.3 508.9 L262.8 508.9 L264.3 508.9 L265.8 509.0 L267.3 509.0 L268.8 509.0 L270.3 509.0 L271.8 509.0 L273.3 509.0 L274.8 509.0 L276.3 509.0 L277.8 509.0 L279.3 509.0 L280.8 509.0 L282.3 508.9 L283.8 508.9 L285.3 508.9 L286.8 508.9 L288.3 508.9 L289.8 508.8 L290.0 508.8" fill="none" stroke="#d4722c" stroke-width="2.1" stroke-linejoin="round" stroke-linecap="round"/>
<path d="M55.8 508.8 L57.3 508.8 L58.8 508.8 L60.3 508.8 L61.8 508.8 L63.3 508.8 L64.8 508.8 L66.3 508.8 L67.8 508.8 L69.3 508.8 L70.8 508.8 L72.3 508.8 L73.8 508.9 L75.3 508.9 L76.8 508.9 L78.3 508.9 L79.8 508.9 L81.3 508.9 L82.8 509.0 L84.3 509.0 L85.8 509.1 L87.3 509.2 L88.8 509.4 L90.3 509.6 L91.8 509.9 L93.3 510.2 L94.8 510.6 L96.3 511.0 L97.8 511.4 L99.3 511.9 L100.8 512.4 L102.3 512.8 L103.8 513.3 L105.3 513.8 L106.8 514.2 L108.3 514.7 L109.8 515.1 L111.3 515.6 L112.8 516.0 L114.3 516.5 L115.8 516.9 L117.3 517.4 L118.8 517.9 L120.3 518.4 L121.8 518.9 L123.3 519.4 L124.8 519.9 L126.3 520.4 L127.8 520.9 L129.3 521.3 L130.8 521.7 L132.3 522.1 L133.8 522.5 L135.3 522.8 L136.8 523.2 L138.3 523.5 L139.8 523.8 L141.3 524.0 L142.8 524.2 L144.3 524.4 L145.8 524.6 L147.3 524.7 L148.8 524.9 L150.3 525.1 L151.8 525.3 L153.3 525.5 L154.8 525.7 L156.3 525.9 L157.8 526.2 L159.3 526.5 L160.8 526.7 L162.3 527.0 L163.8 527.4 L165.3 527.7 L166.8 528.0 L168.3 528.4 L169.8 528.7 L171.3 529.1 L172.8 529.5 L174.3 530.0 L175.8 530.5 L177.3 531.2 L178.8 531.8 L180.3 532.6 L181.8 533.5 L183.3 534.5 L184.8 535.6 L186.3 536.8 L187.8 538.1 L189.3 539.5 L190.8 541.0 L192.3 542.6 L193.8 544.2 L195.3 546.1 L196.8 548.1 L198.3 550.4 L199.8 553.1 L201.3 556.1 L202.8 559.4 L204.3 562.9 L205.8 566.4 L207.3 570.0 L208.8 573.5 L210.3 577.0 L211.8 580.5 L213.3 583.9 L214.8 587.2 L216.3 590.3 L217.8 593.2 L219.3 595.9 L220.8 598.4 L222.3 600.6 L223.8 602.6 L225.3 604.4 L226.8 606.0 L228.3 607.5 L229.8 608.9 L231.3 610.1 L232.8 611.1 L234.3 612.1 L235.8 612.9 L237.3 613.6 L238.8 614.1 L240.3 614.6 L241.8 615.1 L243.3 615.5 L244.8 615.9 L246.3 616.2 L247.8 616.4 L249.3 616.6 L250.8 616.7 L252.3 616.7 L253.8 616.7 L255.3 616.7 L256.8 616.5 L258.3 616.4 L259.8 616.2 L261.3 616.0 L262.8 615.8 L264.3 615.6 L265.8 615.3 L267.3 615.1 L268.8 614.8 L270.3 614.6 L271.8 614.3 L273.3 614.0 L274.8 613.7 L276.3 613.4 L277.8 613.1 L279.3 612.8 L280.8 612.5 L282.3 612.1 L283.8 611.8 L285.3 611.4 L286.8 611.1 L288.3 610.7 L289.8 610.3 L291.3 610.0 L292.8 609.6 L294.3 609.2 L295.8 608.8 L297.3 608.4 L298.8 608.0 L300.3 607.6 L301.8 607.2 L303.3 606.9 L304.8 606.5 L306.3 606.1 L307.8 605.7 L309.3 605.4 L310.8 605.0 L312.3 604.6 L313.8 604.2 L315.3 603.8 L316.8 603.4 L318.3 603.0 L319.8 602.6 L321.3 602.2 L322.8 601.7 L324.3 601.3 L325.8 600.8 L327.3 600.4 L328.8 599.9 L330.3 599.5 L331.8 599.0 L333.3 598.6 L334.8 598.1 L336.3 597.7 L337.8 597.2 L339.3 596.8 L340.8 596.3 L342.3 595.9 L343.8 595.4 L345.3 595.0 L346.8 594.5 L348.3 594.0 L349.8 593.6 L351.3 593.1 L352.8 592.6 L354.3 592.2 L355.8 591.7 L357.3 591.3 L358.8 590.9 L360.3 590.5 L361.8 590.1 L363.3 589.7 L364.8 589.3 L366.3 588.9 L367.8 588.6 L369.3 588.1 L370.8 587.7 L372.3 587.3 L373.8 586.8 L375.3 586.3 L376.8 585.8 L378.3 585.3 L379.8 584.8 L381.3 584.3 L382.8 583.7 L384.3 583.2 L385.8 582.7 L387.3 582.2 L388.8 581.6 L390.3 581.1 L391.8 580.6 L393.3 580.0 L394.8 579.5 L396.3 579.0 L397.8 578.4 L399.3 577.9 L400.8 577.4 L402.3 576.8 L403.8 576.3 L405.3 575.8 L406.8 575.2 L408.3 574.7 L409.8 574.2 L411.3 573.7 L412.8 573.1 L414.3 572.6 L415.8 572.1 L417.3 571.6 L418.8 571.1 L420.3 570.6 L421.8 570.1 L423.3 569.6 L424.8 569.2 L426.3 568.7 L427.8 568.2 L429.3 567.7 L430.8 567.3 L432.3 566.8 L433.8 566.3 L435.3 565.9 L436.8 565.4 L438.3 564.9 L439.8 564.5 L441.3 564.0 L442.8 563.6 L444.3 563.1 L445.8 562.7 L447.3 562.2 L448.8 561.7 L450.3 561.3 L451.8 560.9 L453.3 560.4 L454.8 560.0 L456.3 559.5 L457.8 559.1 L459.3 558.6 L460.8 558.2 L462.3 557.7 L463.8 557.3 L465.3 556.8 L466.8 556.4 L468.3 555.9 L469.8 555.5 L471.3 555.0 L472.8 554.6 L474.3 554.1 L475.8 553.6 L477.3 553.2 L478.8 552.7 L480.3 552.2 L481.8 551.7 L483.3 551.2 L484.8 550.7 L486.3 550.2 L487.8 549.7 L489.3 549.2 L490.8 548.7 L492.3 548.2 L493.8 547.7 L495.3 547.3 L496.8 546.8 L498.3 546.3 L499.8 545.9 L501.3 545.4 L502.8 545.0 L504.3 544.5 L505.8 544.0 L507.3 543.6 L508.8 543.1 L510.3 542.6 L511.8 542.1 L513.3 541.7 L514.8 541.2 L516.3 540.7 L517.8 540.3 L519.3 539.8 L520.8 539.4 L522.3 539.0 L523.8 538.6 L525.3 538.2 L526.8 537.8 L528.3 537.4 L529.8 537.1 L531.3 536.7 L532.8 536.4 L534.3 536.0 L535.8 535.6 L537.3 535.2 L538.8 534.7 L540.3 534.3 L541.8 533.8 L543.3 533.3 L544.8 532.8 L546.3 532.3 L547.8 531.7 L549.3 531.2 L550.8 530.7 L552.3 530.1 L553.8 529.5 L555.3 528.9 L556.8 528.3 L558.3 527.7 L559.8 527.0 L561.3 526.4 L562.8 525.7 L564.3 525.1 L565.8 524.4 L567.3 523.8 L568.8 523.2 L570.3 522.5 L571.8 521.9 L573.3 521.3 L574.8 520.7 L576.3 520.0 L577.8 519.4 L579.3 518.8 L580.8 518.2 L582.3 517.6 L583.8 517.0 L585.3 516.4 L586.8 515.8 L588.3 515.3 L589.8 514.7 L591.3 514.1 L592.8 513.6 L594.3 513.1 L595.8 512.5 L597.3 512.0 L598.8 511.6 L600.3 511.1 L601.8 510.7 L603.3 510.3 L604.8 510.0 L606.3 509.7 L607.8 509.4 L609.3 509.2 L610.8 509.1 L612.0 509.0" fill="none" stroke="#1c7d3a" stroke-width="2.1" stroke-linejoin="round" stroke-linecap="round"/>
<path d="M55.8 508.8 L57.3 508.8 L58.8 508.8 L60.3 508.8 L61.8 508.8 L63.3 508.8 L64.8 508.8 L66.3 508.8 L67.8 508.8 L69.3 508.8 L70.8 508.8 L72.3 508.8 L73.8 508.9 L75.3 508.9 L76.8 508.9 L78.3 508.9 L79.8 508.9 L81.3 508.9 L82.8 509.0 L84.3 509.0 L85.8 509.1 L87.3 509.2 L88.8 509.4 L90.3 509.6 L91.8 509.9 L93.3 510.2 L94.8 510.6 L96.3 511.0 L97.8 511.4 L99.3 511.9 L100.8 512.4 L102.3 512.8 L103.8 513.3 L105.3 513.8 L106.8 514.2 L108.3 514.7 L109.8 515.1 L111.3 515.6 L112.8 516.0 L114.3 516.5 L115.8 516.9 L117.3 517.4 L118.8 517.9 L120.3 518.4 L121.8 518.9 L123.3 519.4 L124.8 519.9 L126.3 520.4 L127.8 520.9 L129.3 521.3 L130.8 521.7 L132.3 522.1 L133.8 522.5 L135.3 522.8 L136.8 523.1 L138.3 523.5 L139.8 523.8 L141.3 524.1 L142.8 524.4 L144.3 524.7 L145.8 525.0 L147.3 525.4 L148.8 525.7 L150.3 526.1 L151.8 526.4 L153.3 526.7 L154.8 527.1 L156.3 527.4 L157.8 527.8 L159.3 528.3 L160.8 528.7 L162.3 529.2 L163.8 529.8 L165.3 530.4 L166.8 531.0 L168.3 531.6 L169.8 532.3 L171.3 533.0 L172.8 533.7 L174.3 534.5 L175.8 535.4 L177.3 536.4 L178.8 537.4 L180.3 538.6 L181.8 539.8 L183.3 541.1 L184.8 542.4 L186.3 543.8 L187.8 545.3 L189.3 546.8 L190.8 548.6 L192.3 550.6 L193.8 552.8 L195.3 555.2 L196.8 558.0 L198.3 561.1 L199.8 564.5 L201.3 568.1 L202.8 572.0 L204.3 575.9 L205.8 579.9 L207.3 583.9 L208.8 587.9 L210.3 591.9 L211.8 595.9 L213.3 599.9 L214.8 603.6 L216.3 607.2 L217.8 610.6 L219.3 613.7 L220.8 616.7 L222.3 619.4 L223.8 621.9 L225.3 624.2 L226.8 626.2 L228.3 627.8 L229.8 629.2 L231.3 630.2 L232.8 631.1 L234.3 631.7 L235.8 632.1 L237.3 632.4 L238.8 632.6 L240.3 632.7 L241.8 632.8 L243.3 632.8 L244.8 632.9 L246.3 632.9 L247.8 632.8 L249.3 632.7 L250.8 632.5 L252.3 632.2 L253.8 631.9 L255.3 631.4 L256.8 631.0 L258.3 630.4 L259.8 629.8 L261.3 629.2 L262.8 628.6 L264.3 627.9 L265.8 627.2 L267.3 626.5 L268.8 625.7 L270.3 625.0 L271.8 624.2 L273.3 623.5 L274.8 622.7 L276.3 622.0 L277.8 621.2 L279.3 620.5 L280.8 619.7 L282.3 618.9 L283.8 618.1 L285.3 617.3 L286.8 616.4 L288.3 615.6 L289.8 614.8 L291.3 614.0 L292.8 613.2 L294.3 612.4 L295.8 611.7 L297.3 610.9 L298.8 610.0 L300.3 609.1 L301.8 608.2 L303.3 607.2 L304.8 606.2 L306.3 605.2 L307.8 604.2 L309.3 603.2 L310.8 602.3 L312.3 601.3 L313.8 600.3 L315.3 599.3 L316.8 598.2 L318.3 597.1 L319.8 595.9 L321.3 594.7 L322.8 593.4 L324.3 592.1 L325.8 590.7 L327.3 589.3 L328.8 587.9 L330.3 586.4 L331.8 584.9 L333.3 583.3 L334.8 581.7 L336.3 580.0 L337.8 578.3 L339.3 576.5 L340.8 574.6 L342.3 572.7 L343.8 570.7 L345.3 568.6 L346.8 566.5 L348.3 564.3 L349.8 562.0 L351.3 559.7 L352.8 557.4 L354.3 555.0 L355.8 552.6 L357.3 550.2 L358.8 547.9 L360.3 545.5 L361.8 543.3 L363.3 541.0 L364.8 538.9 L366.3 536.8 L367.8 534.7 L369.3 532.8 L370.8 531.0 L372.3 529.2 L373.8 527.6 L375.3 526.0 L376.8 524.4 L378.3 522.9 L379.8 521.4 L381.3 520.1 L382.8 518.8 L384.3 517.6 L385.8 516.5 L387.3 515.6 L388.8 514.8 L390.3 514.1 L391.8 513.5 L393.3 512.9 L394.8 512.4 L396.3 512.0 L397.8 511.6 L399.3 511.2 L400.8 510.9 L402.3 510.6 L403.8 510.3 L405.3 510.0 L406.8 509.8 L408.3 509.6 L409.8 509.5 L410.0 509.5" fill="none" stroke="#dc22c4" stroke-width="2.1" stroke-linejoin="round" stroke-linecap="round"/>
<path d="M55.8 508.8 L57.3 508.8 L58.8 508.8 L60.3 508.8 L61.8 508.8 L63.3 508.8 L64.8 508.8 L66.3 508.8 L67.8 508.8 L69.3 508.8 L70.8 508.8 L72.3 508.8 L73.8 508.9 L75.3 508.9 L76.8 508.9 L78.3 508.9 L79.8 508.9 L81.3 508.9 L82.8 509.0 L84.3 509.0 L85.8 509.1 L87.3 509.2 L88.8 509.4 L90.3 509.6 L91.8 509.9 L93.3 510.2 L94.8 510.6 L96.3 511.0 L97.8 511.4 L99.3 511.9 L100.8 512.4 L102.3 512.8 L103.8 513.3 L105.3 513.8 L106.8 514.2 L108.3 514.7 L109.8 515.1 L111.3 515.6 L112.8 516.0 L114.3 516.5 L115.8 516.9 L117.3 517.4 L118.8 517.9 L120.3 518.4 L121.8 518.9 L123.3 519.4 L124.8 519.9 L126.3 520.4 L127.8 520.9 L129.3 521.3 L130.8 521.7 L132.3 522.1 L133.8 522.5 L135.3 522.8 L136.8 523.2 L138.3 523.5 L139.8 523.7 L141.3 523.9 L142.8 523.9 L144.3 523.9 L145.8 523.8 L147.3 523.7 L148.8 523.6 L150.3 523.5 L151.8 523.5 L153.3 523.6 L154.8 523.7 L156.3 523.8 L157.8 523.9 L159.3 524.0 L160.8 524.1 L162.3 524.1 L163.8 524.2 L165.3 524.3 L166.8 524.5 L168.3 524.6 L169.8 524.7 L171.3 524.9 L172.8 525.1 L174.3 525.4 L175.8 525.7 L177.3 526.0 L178.8 526.5 L180.3 527.1 L181.8 527.8 L183.3 528.5 L184.8 529.3 L186.3 530.2 L187.8 531.3 L189.3 532.4 L190.8 533.6 L192.3 535.0 L193.8 536.6 L195.3 538.5 L196.8 540.5 L198.3 542.7 L199.8 545.1 L201.3 547.5 L202.8 549.9 L204.3 552.3 L205.8 554.7 L207.3 557.1 L208.8 559.5 L210.3 561.9 L211.8 564.3 L213.3 566.7 L214.8 569.0 L216.3 571.1 L217.8 573.1 L219.3 574.8 L220.8 576.1 L222.3 577.0 L223.8 577.4 L225.3 577.2 L226.8 576.5 L228.3 575.2 L229.8 573.5 L231.3 571.2 L232.8 568.5 L234.3 565.4 L235.8 562.0 L237.3 558.5 L238.8 555.0 L240.3 551.5 L241.8 548.2 L243.3 544.9 L244.8 541.8 L246.3 538.9 L247.8 536.1 L249.3 533.5 L250.8 531.1 L252.3 528.9 L253.8 526.9 L255.3 525.0 L256.8 523.4 L258.3 521.9 L259.8 520.6 L261.3 519.4 L262.8 518.3 L264.3 517.4 L265.8 516.5 L267.3 515.7 L268.8 515.0 L270.3 514.3 L271.8 513.7 L273.3 513.2 L274.8 512.7 L276.3 512.2 L277.8 511.8 L279.3 511.4 L280.8 511.1 L282.3 510.8 L283.8 510.5 L285.3 510.3 L286.8 510.1 L288.3 510.0 L289.8 509.9 L291.3 509.7 L292.8 509.6 L294.3 509.5 L295.8 509.4 L297.3 509.3 L298.8 509.3 L300.3 509.2 L301.8 509.1 L303.3 509.1 L304.8 509.0 L306.3 509.0 L307.8 509.0 L309.3 508.9 L310.0 508.9" fill="none" stroke="#ae151b" stroke-width="2.1" stroke-linejoin="round" stroke-linecap="round"/>
<path d="M55.8 508.8 L57.3 508.8 L58.8 508.8 L60.3 508.8 L61.8 508.8 L63.3 508.8 L64.8 508.8 L66.3 508.8 L67.8 508.8 L69.3 508.8 L70.8 508.8 L72.3 508.8 L73.8 508.9 L75.3 508.9 L76.8 508.9 L78.3 508.9 L79.8 508.9 L81.3 508.9 L82.8 509.0 L84.3 509.0 L85.8 509.1 L87.3 509.2 L88.8 509.4 L90.3 509.6 L91.8 509.9 L93.3 510.2 L94.8 510.6 L96.3 511.0 L97.8 511.4 L99.3 511.9 L100.8 512.4 L102.3 512.8 L103.8 513.3 L105.3 513.8 L106.8 514.2 L108.3 514.7 L109.8 515.1 L111.3 515.6 L112.8 516.0 L114.3 516.5 L115.8 516.9 L117.3 517.4 L118.8 517.9 L120.3 518.4 L121.8 518.9 L123.3 519.4 L124.8 519.9 L126.3 520.4 L127.8 520.9 L129.3 521.3 L130.8 521.7 L132.3 522.1 L133.8 522.5 L135.3 522.8 L136.8 523.1 L138.3 523.5 L139.8 523.8 L141.3 524.1 L142.8 524.5 L144.3 524.9 L145.8 525.4 L147.3 525.8 L148.8 526.3 L150.3 526.7 L151.8 527.2 L153.3 527.6 L154.8 528.1 L156.3 528.5 L157.8 529.0 L159.3 529.6 L160.8 530.2 L162.3 530.8 L163.8 531.5 L165.3 532.1 L166.8 532.8 L168.3 533.4 L169.8 534.1 L171.3 534.7 L172.8 535.5 L174.3 536.3 L175.8 537.2 L177.3 538.2 L178.8 539.3 L180.3 540.6 L181.8 541.9 L183.3 543.4 L184.8 544.9 L186.3 546.6 L187.8 548.3 L189.3 550.3 L190.8 552.5 L192.3 555.0 L193.8 557.8 L195.3 561.0 L196.8 564.4 L198.3 568.1 L199.8 572.1 L201.3 576.3 L202.8 580.6 L204.3 585.1 L205.8 589.6 L207.3 594.1 L208.8 598.7 L210.3 603.4 L211.8 608.0 L213.3 612.6 L214.8 617.1 L216.3 621.5 L217.8 625.9 L219.3 630.0 L220.8 634.0 L222.3 637.7 L223.8 641.2 L225.3 644.4 L226.8 647.3 L228.3 649.9 L229.8 652.2 L231.3 654.3 L232.8 656.0 L234.3 657.5 L235.8 658.8 L237.3 659.8 L238.8 660.7 L240.3 661.5 L241.8 662.2 L243.3 662.7 L244.8 663.2 L246.3 663.6 L247.8 663.9 L249.3 664.1 L250.8 664.3 L252.3 664.4 L253.8 664.4 L255.3 664.3 L256.8 664.3 L258.3 664.1 L259.8 663.9 L261.3 663.7 L262.8 663.5 L264.3 663.2 L265.8 663.0 L267.3 662.7 L268.8 662.5 L270.3 662.2 L271.8 661.9 L273.3 661.7 L274.8 661.4 L276.3 661.1 L277.8 660.7 L279.3 660.4 L280.8 660.0 L282.3 659.6 L283.8 659.3 L285.3 658.9 L286.8 658.5 L288.3 658.2 L289.8 657.8 L291.3 657.5 L292.8 657.2 L294.3 656.8 L295.8 656.5 L297.3 656.1 L298.8 655.8 L300.3 655.4 L301.8 655.0 L303.3 654.6 L304.8 654.1 L306.3 653.7 L307.8 653.2 L309.3 652.8 L310.8 652.3 L312.3 651.8 L313.8 651.3 L315.3 650.8 L316.8 650.3 L318.3 649.7 L319.8 649.2 L321.3 648.7 L322.8 648.1 L324.3 647.5 L325.8 647.0 L327.3 646.4 L328.8 645.8 L330.3 645.2 L331.8 644.6 L333.3 643.9 L334.8 643.3 L336.3 642.6 L337.8 641.9 L339.3 641.2 L340.8 640.4 L342.3 639.7 L343.8 638.9 L345.3 638.1 L346.8 637.3 L348.3 636.5 L349.8 635.6 L351.3 634.8 L352.8 633.9 L354.3 632.9 L355.8 632.0 L357.3 631.1 L358.8 630.1 L360.3 629.1 L361.8 628.1 L363.3 627.1 L364.8 626.0 L366.3 624.9 L367.8 623.9 L369.3 622.8 L370.8 621.6 L372.3 620.5 L373.8 619.4 L375.3 618.2 L376.8 617.1 L378.3 615.9 L379.8 614.8 L381.3 613.7 L382.8 612.6 L384.3 611.5 L385.8 610.3 L387.3 609.2 L388.8 608.0 L390.3 606.8 L391.8 605.6 L393.3 604.3 L394.8 602.9 L396.3 601.4 L397.8 599.9 L399.3 598.2 L400.8 596.6 L402.3 595.0 L403.8 593.4 L405.3 591.8 L406.8 590.1 L408.3 588.5 L409.8 586.7 L411.3 584.7 L412.8 582.7 L414.3 580.5 L415.8 578.2 L417.3 575.9 L418.8 573.5 L420.3 571.1 L421.8 568.6 L423.3 566.1 L424.8 563.5 L426.3 560.9 L427.8 558.3 L429.3 555.6 L430.8 552.9 L432.3 550.2 L433.8 547.5 L435.3 544.9 L436.8 542.3 L438.3 539.7 L439.8 537.1 L441.3 534.4 L442.8 531.9 L444.3 529.3 L445.8 526.9 L447.3 524.7 L448.8 522.7 L450.3 520.9 L451.8 519.3 L453.3 518.0 L454.8 516.7 L456.3 515.7 L457.8 514.8 L459.3 513.9 L460.8 513.2 L462.3 512.6 L463.8 512.1 L465.3 511.7 L466.8 511.3 L468.3 511.0 L469.8 510.7 L471.3 510.5 L472.8 510.3 L474.3 510.1 L475.8 509.9 L477.3 509.8 L478.8 509.6 L480.3 509.5 L481.8 509.4 L483.3 509.3 L484.0 509.3" fill="none" stroke="#2a9ad2" stroke-width="2.1" stroke-linejoin="round" stroke-linecap="round"/>
<path d="M55.8 508.8 L57.3 508.8 L58.8 508.8 L60.3 508.8 L61.8 508.8 L63.3 508.8 L64.8 508.8 L66.3 508.8 L67.8 508.8 L69.3 508.8 L70.8 508.8 L72.3 508.8 L73.8 508.9 L75.3 508.9 L76.8 508.9 L78.3 508.9 L79.8 508.9 L81.3 508.9 L82.8 509.0 L84.3 509.0 L85.8 509.1 L87.3 509.2 L88.8 509.4 L90.3 509.6 L91.8 509.9 L93.3 510.2 L94.8 510.6 L96.3 511.0 L97.8 511.4 L99.3 511.9 L100.8 512.4 L102.3 512.8 L103.8 513.3 L105.3 513.8 L106.8 514.2 L108.3 514.7 L109.8 515.1 L111.3 515.6 L112.8 516.0 L114.3 516.5 L115.8 516.9 L117.3 517.4 L118.8 517.9 L120.3 518.4 L121.8 518.9 L123.3 519.4 L124.8 519.9 L126.3 520.4 L127.8 520.9 L129.3 521.3 L130.8 521.7 L132.3 522.1 L133.8 522.5 L135.3 522.8 L136.8 523.1 L138.3 523.5 L139.8 523.8 L141.3 524.2 L142.8 524.6 L144.3 525.0 L145.8 525.5 L147.3 526.0 L148.8 526.5 L150.3 527.0 L151.8 527.5 L153.3 527.9 L154.8 528.4 L156.3 528.8 L157.8 529.3 L159.3 529.9 L160.8 530.4 L162.3 531.1 L163.8 531.7 L165.3 532.4 L166.8 533.1 L168.3 533.8 L169.8 534.6 L171.3 535.4 L172.8 536.3 L174.3 537.3 L175.8 538.3 L177.3 539.5 L178.8 540.7 L180.3 542.1 L181.8 543.6 L183.3 545.2 L184.8 547.0 L186.3 548.8 L187.8 550.8 L189.3 553.1 L190.8 555.5 L192.3 558.3 L193.8 561.3 L195.3 564.6 L196.8 568.2 L198.3 572.1 L199.8 576.2 L201.3 580.4 L202.8 584.8 L204.3 589.3 L205.8 593.8 L207.3 598.3 L208.8 602.8 L210.3 607.3 L211.8 611.8 L213.3 616.3 L214.8 620.7 L216.3 625.0 L217.8 629.1 L219.3 633.1 L220.8 636.8 L222.3 640.3 L223.8 643.5 L225.3 646.4 L226.8 649.0 L228.3 651.3 L229.8 653.3 L231.3 655.1 L232.8 656.5 L234.3 657.6 L235.8 658.5 L237.3 659.1 L238.8 659.5 L240.3 659.8 L241.8 659.9 L243.3 659.8 L244.8 659.6 L246.3 659.3 L247.8 658.8 L249.3 658.2 L250.8 657.5 L252.3 656.6 L253.8 655.6 L255.3 654.4 L256.8 653.2 L258.3 651.8 L259.8 650.4 L261.3 648.9 L262.8 647.3 L264.3 645.7 L265.8 643.9 L267.3 642.2 L268.8 640.4 L270.3 638.6 L271.8 636.8 L273.3 635.0 L274.8 633.1 L276.3 631.1 L277.8 629.1 L279.3 627.0 L280.8 624.9 L282.3 622.8 L283.8 620.7 L285.3 618.5 L286.8 616.3 L288.3 614.1 L289.8 611.8 L291.3 609.4 L292.8 607.1 L294.3 604.6 L295.8 602.1 L297.3 599.4 L298.8 596.4 L300.3 593.1 L301.8 589.5 L303.3 585.9 L304.8 582.2 L306.3 578.8 L307.8 575.5 L309.3 572.3 L310.8 569.2 L312.3 566.2 L313.8 563.1 L315.3 560.2 L316.8 557.2 L318.3 554.3 L319.8 551.5 L321.3 548.9 L322.8 546.4 L324.3 544.1 L325.8 542.0 L327.3 540.1 L328.8 538.2 L330.3 536.4 L331.8 534.6 L333.3 532.7 L334.8 530.9 L336.3 529.0 L337.8 527.2 L339.3 525.5 L340.8 524.0 L342.3 522.6 L343.8 521.3 L345.3 520.1 L346.8 519.1 L348.3 518.2 L349.8 517.3 L351.3 516.5 L352.8 515.8 L354.3 515.1 L355.8 514.4 L357.3 513.9 L358.8 513.3 L360.3 512.9 L361.8 512.4 L363.3 512.1 L364.8 511.7 L366.3 511.4 L367.8 511.1 L369.3 510.9 L370.8 510.7 L372.3 510.5 L373.8 510.3 L375.3 510.2 L376.8 510.0 L378.3 509.9 L379.8 509.7 L381.3 509.6 L382.8 509.5 L384.3 509.4 L385.8 509.3 L387.3 509.2 L388.8 509.1 L390.3 509.1 L391.8 509.0 L393.3 508.9 L394.8 508.9 L396.3 508.9 L397.8 508.8 L399.3 508.8 L400.0 508.8" fill="none" stroke="#203f72" stroke-width="2.1" stroke-linejoin="round" stroke-linecap="round"/>
<path d="M55.8 508.8 L57.3 508.8 L58.8 508.8 L60.3 508.8 L61.8 508.8 L63.3 508.8 L64.8 508.8 L66.3 508.8 L67.8 508.8 L69.3 508.8 L70.8 508.8 L72.3 508.8 L73.8 508.9 L75.3 508.9 L76.8 508.9 L78.3 508.9 L79.8 508.9 L81.3 508.9 L82.8 509.0 L84.3 509.0 L85.8 509.1 L87.3 509.2 L88.8 509.4 L90.3 509.6 L91.8 509.9 L93.3 510.2 L94.8 510.6 L96.3 511.0 L97.8 511.4 L99.3 511.9 L100.8 512.4 L102.3 512.8 L103.8 513.3 L105.3 513.8 L106.8 514.2 L108.3 514.7 L109.8 515.1 L111.3 515.6 L112.8 516.0 L114.3 516.5 L115.8 516.9 L117.3 517.4 L118.8 517.9 L120.3 518.4 L121.8 518.9 L123.3 519.4 L124.8 519.9 L126.3 520.4 L127.8 520.9 L129.3 521.3 L130.8 521.7 L132.3 522.1 L133.8 522.5 L135.3 522.8 L136.8 523.1 L138.3 523.4 L139.8 523.5 L140.0 523.6" fill="none" stroke="#111111" stroke-width="2.8" stroke-linejoin="round" stroke-linecap="round"/>
<g stroke="#111" stroke-width="1.9" fill="none">
<path d="M55.8 435.9 V678.8 H631.2"/>
<path d="M52.3 435.9 h7"/>
<path d="M52.3 460.2 h7"/>
<path d="M52.3 484.5 h7"/>
<path d="M52.3 508.8 h7"/>
<path d="M52.3 533.1 h7"/>
<path d="M52.3 557.3 h7"/>
<path d="M52.3 581.6 h7"/>
<path d="M52.3 605.9 h7"/>
<path d="M52.3 630.2 h7"/>
<path d="M52.3 654.5 h7"/>
<path d="M52.3 678.8 h7"/>
<path d="M55.8 675.5 v6.6"/>
<path d="M71.8 676.6 v4.4"/>
<path d="M87.8 675.5 v6.6"/>
<path d="M103.8 676.6 v4.4"/>
<path d="M119.7 675.5 v6.6"/>
<path d="M135.7 676.6 v4.4"/>
<path d="M151.7 675.5 v6.6"/>
<path d="M167.7 676.6 v4.4"/>
<path d="M183.7 675.5 v6.6"/>
<path d="M199.7 676.6 v4.4"/>
<path d="M215.6 675.5 v6.6"/>
<path d="M231.6 676.6 v4.4"/>
<path d="M247.6 675.5 v6.6"/>
<path d="M263.6 676.6 v4.4"/>
<path d="M279.6 675.5 v6.6"/>
<path d="M295.6 676.6 v4.4"/>
<path d="M311.6 675.5 v6.6"/>
<path d="M327.5 676.6 v4.4"/>
<path d="M343.5 675.5 v6.6"/>
<path d="M359.5 676.6 v4.4"/>
<path d="M375.5 675.5 v6.6"/>
<path d="M391.5 676.6 v4.4"/>
<path d="M407.5 675.5 v6.6"/>
<path d="M423.5 676.6 v4.4"/>
<path d="M439.4 675.5 v6.6"/>
<path d="M455.4 676.6 v4.4"/>
<path d="M471.4 675.5 v6.6"/>
<path d="M487.4 676.6 v4.4"/>
<path d="M503.4 675.5 v6.6"/>
<path d="M519.4 676.6 v4.4"/>
<path d="M535.3 675.5 v6.6"/>
<path d="M551.3 676.6 v4.4"/>
<path d="M567.3 675.5 v6.6"/>
<path d="M583.3 676.6 v4.4"/>
<path d="M599.3 675.5 v6.6"/>
<path d="M615.3 676.6 v4.4"/>
<path d="M631.3 675.5 v6.6"/>
</g>
<text x="46.2" y="440.1" font-size="12" text-anchor="end">45</text>
<text x="46.2" y="464.4" font-size="12" text-anchor="end">30</text>
<text x="46.2" y="488.7" font-size="12" text-anchor="end">15</text>
<text x="46.2" y="513.0" font-size="12" text-anchor="end">0</text>
<text x="46.2" y="537.3" font-size="12" text-anchor="end">-15</text>
<text x="46.2" y="561.5" font-size="12" text-anchor="end">-30</text>
<text x="46.2" y="585.8" font-size="12" text-anchor="end">-45</text>
<text x="46.2" y="610.1" font-size="12" text-anchor="end">-60</text>
<text x="46.2" y="634.4" font-size="12" text-anchor="end">-75</text>
<text x="46.2" y="658.7" font-size="12" text-anchor="end">-90</text>
<text x="46.2" y="683.0" font-size="12" text-anchor="end">-105</text>
<text x="55.8" y="697.4" font-size="12" text-anchor="middle">73.0</text>
<text x="87.8" y="697.4" font-size="12" text-anchor="middle">74.0</text>
<text x="119.7" y="697.4" font-size="12" text-anchor="middle">75.0</text>
<text x="151.7" y="697.4" font-size="12" text-anchor="middle">76.0</text>
<text x="183.7" y="697.4" font-size="12" text-anchor="middle">77.0</text>
<text x="215.6" y="697.4" font-size="12" text-anchor="middle">78.0</text>
<text x="247.6" y="697.4" font-size="12" text-anchor="middle">79.0</text>
<text x="279.6" y="697.4" font-size="12" text-anchor="middle">80.0</text>
<text x="311.6" y="697.4" font-size="12" text-anchor="middle">81.0</text>
<text x="343.5" y="697.4" font-size="12" text-anchor="middle">82.0</text>
<text x="375.5" y="697.4" font-size="12" text-anchor="middle">83.0</text>
<text x="407.5" y="697.4" font-size="12" text-anchor="middle">84.0</text>
<text x="439.4" y="697.4" font-size="12" text-anchor="middle">85.0</text>
<text x="471.4" y="697.4" font-size="12" text-anchor="middle">86.0</text>
<text x="503.4" y="697.4" font-size="12" text-anchor="middle">87.0</text>
<text x="535.3" y="697.4" font-size="12" text-anchor="middle">88.0</text>
<text x="567.3" y="697.4" font-size="12" text-anchor="middle">89.0</text>
<text x="599.3" y="697.4" font-size="12" text-anchor="middle">90.0</text>
<text x="631.3" y="697.4" font-size="12" text-anchor="middle">91.0</text>
<text x="338.3" y="715.9" font-size="12" text-anchor="middle">Temperature (°C)</text>
<text transform="translate(22.8 553.0) rotate(-90)" font-size="13" text-anchor="middle">Relative signal difference</text>
<path d="M495.6 381.0 H516.0" stroke="#203f72" stroke-width="2.2"/>
<text x="517.6" y="385.3" font-size="11.7"><tspan font-style="italic">T. spiralis</tspan>_ISS3</text>
<path d="M495.6 396.6 H516.0" stroke="#b8141a" stroke-width="2.2"/>
<text x="517.6" y="400.9" font-size="11.7"><tspan font-style="italic">T. nativa</tspan>_ISS10</text>
<path d="M495.6 412.1 H516.0" stroke="#d4722c" stroke-width="2.2"/>
<text x="517.6" y="416.4" font-size="11.7"><tspan font-style="italic">T. britovi</tspan>_ISS2</text>
<path d="M495.6 427.6 H516.0" stroke="#2a9ad2" stroke-width="2.2"/>
<text x="517.6" y="431.9" font-size="11.7"><tspan font-style="italic">T. pseudospiralis</tspan>_ISS13/ISS588</text>
<path d="M495.6 443.2 H516.0" stroke="#8dc850" stroke-width="2.2"/>
<text x="517.6" y="447.5" font-size="11.7"><tspan font-style="italic">T. nelsoni</tspan>_ISS37</text>
<path d="M495.6 458.8 H516.0" stroke="#f6b81c" stroke-width="2.2"/>
<text x="517.6" y="463.1" font-size="11.7"><tspan font-style="italic">T. murrelli</tspan>_ISS35</text>
<path d="M495.6 474.3 H516.0" stroke="#dc22c4" stroke-width="2.2"/>
<text x="517.6" y="478.6" font-size="11.7"><tspan font-style="italic">T. papuae</tspan>_ISS572</text>
<path d="M495.6 489.9 H516.0" stroke="#1c7d3a" stroke-width="2.2"/>
<text x="517.6" y="494.2" font-size="11.7"><tspan font-style="italic">T. zimbabwensis</tspan>_ISS1029</text>
<text x="2" y="11" font-size="16" font-weight="bold" fill="#000">a</text>
<text x="2.5" y="372.5" font-size="16" font-weight="bold" fill="#000">b</text>
</svg></body></html>
